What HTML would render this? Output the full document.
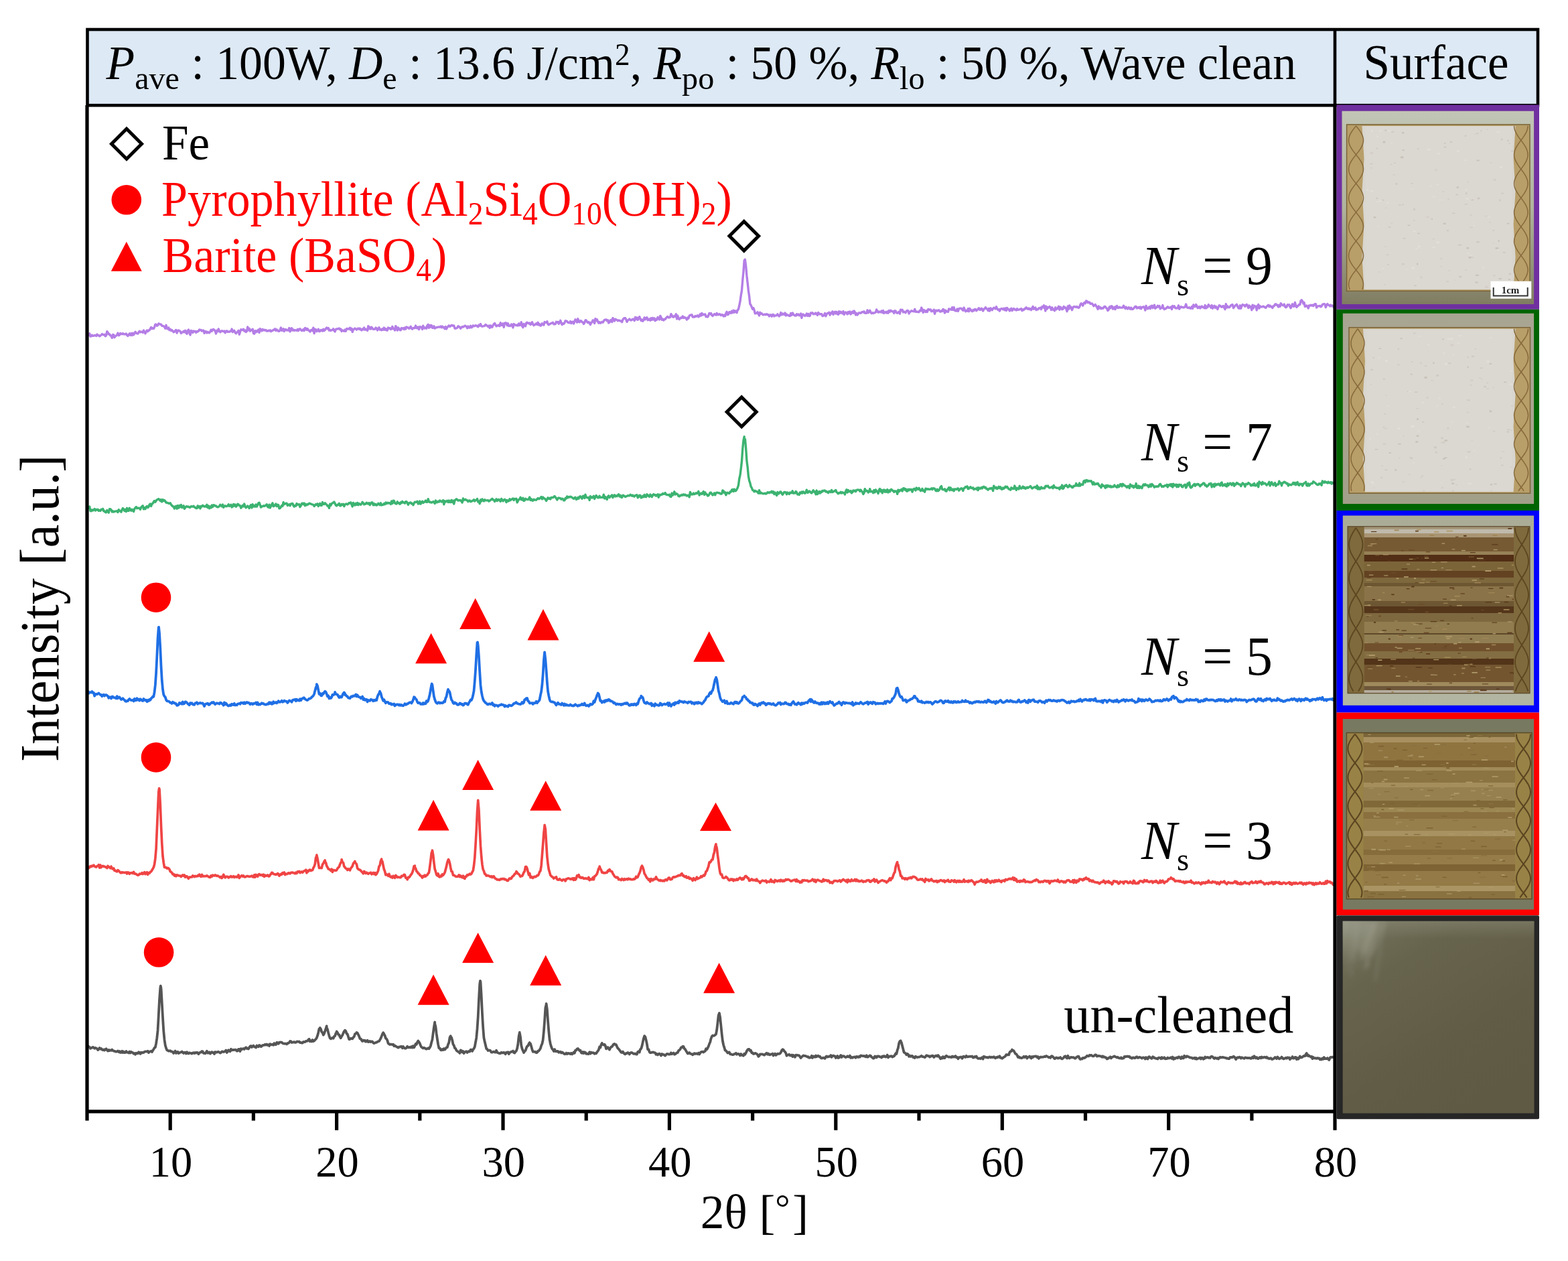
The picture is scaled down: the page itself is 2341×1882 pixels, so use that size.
<!DOCTYPE html>
<html><head><meta charset="utf-8"><title>XRD</title>
<style>html,body{margin:0;padding:0;background:#fff;}svg{display:block;}</style>
</head><body>
<svg width="2341" height="1882" viewBox="0 0 2341 1882">
<rect width="2341" height="1882" fill="#fff"/>
<rect x="130.5" y="44" width="2165.5" height="113.2" fill="#dde9f5" stroke="#000" stroke-width="4.6"/>
<line x1="1993" y1="44" x2="1993" y2="157" stroke="#000" stroke-width="4.6"/>
<clipPath id="pc"><rect x="132" y="160" width="1859" height="1497"/></clipPath>
<g clip-path="url(#pc)" fill="none" stroke-linejoin="round">
<path stroke="#b47ee6" stroke-width="3.4" d="M130.00 500.1l 1.24 .6 1.24-.6 1.25-2.4 1.24 4.3 1.24-.2 1.24-1.7 1.24 1.3 1.25-.3 1.24-.6 1.24-.1 1.24 1.0 1.24-2.3 1.25 1.5 1.24-.2 1.24 1.4 1.24-.8 1.24-1.0 1.25-1.5 1.24 .9 1.24 .3 1.24-.4 1.24 2.5 1.25-1.1 1.24-6.1 1.24 1.6 1.24 2.6 1.24 0 1.25 1.9 1.24 .4 1.24 3.2 1.24-4.8 1.24 .2 1.25 4.0 1.24-2.3 1.24-.3 1.24-1.2 1.24-2.8 1.25 3.5 1.24-.6 1.24-2.6 1.24 1.0 1.24 .3 1.25-1.1 1.24 1.1 1.24 0 1.24 .1 1.24-.8 1.25 2.2 1.24 1.2 1.24-1.8 1.24-1.7 1.24 2.3 1.25-2.7 1.24 2.9 1.24-3.2 1.24 2.5 1.24-2.0 1.25-2.5 1.24 1.8 1.24 .7 1.24 .3 1.24-2.1 1.25-1.7 1.24 1.7 1.24-.8 1.24 .1 1.24 1.2 1.25-3.4 1.24 2.7 1.24 2.0 1.24-2.5 1.24-2.2 1.25 1.7 1.24-1.8 1.24 0 1.24-2.2 1.24-2.2 1.25 2.0 1.24-1.1 1.24 1.1 1.24-2.2 1.24-4.1 1.25 0 1.24 2.0 1.24-.7 1.24-2.5 1.24 .3 1.25 .8 1.24 0 1.24 2.2 1.24 .1 1.24 .4 1.25 1.0 1.24 2.4 1.24-4.9 1.24 4.7 1.24 .9 1.25-1.9 1.24 3.6 1.24-1.4 1.24 2.3 1.24-1.0 1.25 1.7 1.24 1.5 1.24-.6 1.24-1.7 1.24-.9 1.25 4.5 1.24-3.3 1.24-.8 1.24 .9 1.24 .5 1.25 3.2 1.24-1.6 1.24 0 1.24-1.5 1.24 1.4 1.25-2.6 1.24 3.4 1.24 1.7 1.24-4.9 1.24-1.3 1.25 4.8 1.24 3.0 1.24-6.4 1.24 .5 1.24 2.5 1.25-2.4 1.24 .7 1.24-.4 1.24 1.9 1.24-1.9 1.25 .7 1.24-1.1 1.24-2.0 1.24 .9 1.24-.5 1.25 1.7 1.24-.9 1.24-.1 1.24 4.2 1.24-2.6 1.25 .1 1.24 2.1 1.24-1.5 1.24 1.0 1.24 .4 1.25-1.7 1.24-2.9 1.24 2.0 1.24-2.4 1.24-.3 1.25 1.1 1.24 1.6 1.24 3.7 1.24-4.6 1.24 1.5 1.25-3.9 1.24 3.2 1.24 1.7 1.24-1.4 1.24-.7 1.25 .6 1.24 .2 1.24-.5 1.24 2.8 1.24-2.3 1.25-.7 1.24 1.5 1.24-.4 1.24 .3 1.24-.6 1.25-.6 1.24-2.9 1.24 4.5 1.24-2.0 1.24-.3 1.25 3.0 1.24 1.4 1.24-1.8 1.24-.7 1.24-1.8 1.25 5.8 1.24-3.9 1.24-3.5 1.24 .3 1.24 .5 1.25-1.4 1.24 3.0 1.24-1.1 1.24 2.4 1.24-1.2 1.25-6.3 1.24 4.7 1.24-2.5 1.24 4.0 1.24-1.7 1.25 .3 1.24-1.6 1.24 6.2 1.24 .7 1.24-4.4 1.25 2.1 1.24-2.1 1.24 1.2 1.24-2.8 1.24 4.3 1.25-5.7 1.24 1.2 1.24 2.0 1.24-2.4 1.24 1.3 1.25-.5 1.24 .8 1.24-.5 1.24 1.5 1.24 0 1.25-.8 1.24 .5 1.24-1.1 1.24 1.9 1.24-1.0 1.25-.1 1.24-1.2 1.24 .1 1.24-1.5 1.24 2.7 1.25-1.7 1.24 1.1 1.24 1.3 1.24 0 1.24-1.8 1.25-3.5 1.24 4.3 1.24-.2 1.24-2.4 1.24 3.7 1.25-2.8 1.24 0 1.24 1.4 1.24-.5 1.24 .6 1.25-3.6 1.24 5.4 1.24-3.7 1.24-1.5 1.24 3.4 1.25-1.1 1.24 1.3 1.24-.7 1.24 .4 1.24 .4 1.25-1.9 1.24 2.1 1.24-2.2 1.24-.6 1.24 1.5 1.25 1.2 1.24-.2 1.24-1.7 1.24 1.9 1.24-4.0 1.25 .6 1.24 2.3 1.24-1.8 1.24 2.5 1.24 .2 1.25 1.8 1.24-2.3 1.24-.5 1.24 1.4 1.24-4.5 1.25 8.4 1.24-6.3 1.24 .5 1.24 2.9 1.24-1.4 1.25-2.0 1.24 3.3 1.24-.1 1.24-2.1 1.24 .2 1.25 1.4 1.24-2.7 1.24 2.3 1.24-1.1 1.24-2.0 1.25-1.5 1.24 1.8 1.24-1.3 1.24 3.6 1.24-.9 1.25 1.2 1.24-.8 1.24 0 1.24-1.9 1.24 2.7 1.25 1.6 1.24-3.5 1.24-.6 1.24 .2 1.24-.5 1.25-.5 1.24 1.8 1.24-.9 1.24 3.4 1.24-1.4 1.25 .6 1.24 .6 1.24-2.1 1.24 2.2 1.24-3.6 1.25-.2 1.24 .6 1.24-.1 1.24-1.8 1.24 3.1 1.25-2.0 1.24 5.1 1.24-3.4 1.24-.9 1.24-1.0 1.25 .8 1.24 1.2 1.24-1.4 1.24-.6 1.24 1.2 1.25-1.2 1.24 2.0 1.24 .8 1.24-1.9 1.24 .8 1.25-2.7 1.24 3.1 1.24-1.0 1.24 .8 1.24 1.5 1.25-6.9 1.24 4.2 1.24-2.4 1.24 2.7 1.24-2.9 1.25 1.6 1.24 1.5 1.24 .1 1.24-.3 1.24-2.0 1.25 .9 1.24 2.9 1.24-1.8 1.24-2.4 1.24 3.4 1.25-.5 1.24 1.1 1.24-1.9 1.24 1.5 1.24-3.2 1.25 3.2 1.24-1.7 1.24 2.2 1.24 .3 1.24-4.0 1.25 .9 1.24-.2 1.24 1.7 1.24-.6 1.24-3.5 1.25 3.3 1.24-.1 1.24 2.3 1.24-6.3 1.24 2.2 1.25 4.2 1.24-4.0 1.24 1.3 1.24 2.3 1.24 .2 1.25-3.2 1.24 .9 1.24-.8 1.24 1.8 1.24-2.5 1.25 2.1 1.24-3.1 1.24 .7 1.24 .2 1.24 1.4 1.25-1.0 1.24-2.0 1.24 2.8 1.24 1.0 1.24-1.7 1.25 .3 1.24-.1 1.24-3.5 1.24 3.4 1.24 .3 1.25-1.7 1.24 3.5 1.24-3.9 1.24 .5 1.24-.1 1.25 3.4 1.24-5.3 1.24 3.5 1.24 .3 1.24-1.2 1.25 1.4 1.24-4.4 1.24-1.4 1.24 4.9 1.24-3.9 1.25 2.6 1.24-2.5 1.24 3.8 1.24 .1 1.24-2.6 1.25 3.3 1.24-.9 1.24-.5 1.24-.1 1.24-.7 1.25 .3 1.24-.1 1.24-1.0 1.24 1.7 1.24-1.7 1.25 1.7 1.24-.4 1.24 2.4 1.24-3.2 1.24 3.3 1.25-2.4 1.24-1.3 1.24-1.3 1.24 1.5 1.24-.6 1.25-1.4 1.24 .1 1.24 .9 1.24-.3 1.24 3.9 1.25 .2 1.24-.4 1.24-.7 1.24-2.3 1.24 .5 1.25 1.2 1.24 1.8 1.24-1.8 1.24-.8 1.24 .3 1.25-.6 1.24-1.2 1.24 .3 1.24 1.0 1.24 2.3 1.25-2.7 1.24 2.0 1.24 0 1.24-2.8 1.24 2.5 1.25-.8 1.24-2.1 1.24 1.0 1.24-.5 1.24-.7 1.25 .2 1.24 1.1 1.24 .7 1.24-2.6 1.24 1.0 1.25-2.5 1.24 2.9 1.24 .7 1.24-.3 1.24-.4 1.25-.2 1.24-1.8 1.24 .7 1.24 1.2 1.24 1.0 1.25-1.3 1.24 3.3 1.24-3.6 1.24 2.2 1.24 .2 1.25-2.7 1.24-1.8 1.24-1.2 1.24 2.3 1.24 2.1 1.25-1.1 1.24 .3 1.24-1.0 1.24 1.5 1.24-4.9 1.25 3.6 1.24 0 1.24-2.4 1.24 5.5 1.24-6.1 1.25-.5 1.24 .3 1.24 3.6 1.24-2.9 1.24 3.7 1.25-.4 1.24 .5 1.24-2.7 1.24 .7 1.24 4.3 1.25-5.3 1.24 1.0 1.24 .7 1.24 .4 1.24-.8 1.25 1.1 1.24-3.1 1.24 2.6 1.24-.7 1.24-4.0 1.25 5.8 1.24 2.0 1.24-5.2 1.24 1.4 1.24 2.0 1.25-4.8 1.24-.8 1.24 1.1 1.24 .6 1.24-.9 1.25 2.5 1.24-1.3 1.24-2.5 1.24 3.4 1.24 1.5 1.25-.8 1.24-.8 1.24-1.3 1.24 1.7 1.24-3.1 1.25 3.6 1.24-1.2 1.24 2.4 1.24-.5 1.24-2.8 1.25 1.0 1.24 1.3 1.24-4.5 1.24 .8 1.24-.1 1.25-1.6 1.24 4.2 1.24 .8 1.24-1.1 1.24-.4 1.25-.9 1.24 0 1.24-1.0 1.24 2.4 1.24 0 1.25-.1 1.24-3.3 1.24 .7 1.24-.4 1.24 2.6 1.25-1.9 1.24-3.0 1.24 3.5 1.24 2.8 1.24-1.8 1.25 .5 1.24-1.4 1.24-3.1 1.24 .3 1.24 .5 1.25 1.7 1.24 .3 1.24 .1 1.24-2.1 1.24 3.0 1.25-1.9 1.24-.5 1.24 2.9 1.24-3.4 1.24-2.9 1.25 2.0 1.24 2.3 1.24-5.3 1.24 4.4 1.24 .6 1.25-2.0 1.24 .2 1.24 1.9 1.24 .1 1.24 2.4 1.25-1.6 1.24-3.9 1.24 .1 1.24 2.4 1.24 1.3 1.25-1.2 1.24 1.0 1.24 3.0 1.24-2.9 1.24-.7 1.25-3.0 1.24 .6 1.24 4.1 1.24-6.9 1.24 2.9 1.25-1.8 1.24 3.4 1.24 1.9 1.24-1.5 1.24 1.6 1.25-.8 1.24-1.1 1.24 1.0 1.24-2.0 1.24-1.9 1.25-.1 1.24-.4 1.24 1.9 1.24-1.1 1.24 4.2 1.25-.8 1.24-3.0 1.24-.6 1.24 3.1 1.24-5.9 1.25 2.1 1.24 2.3 1.24-2.8 1.24 .7 1.24 .5 1.25 1.2 1.24-.7 1.24 .4 1.24 .6 1.24-.1 1.25 1.8 1.24-3.5 1.24-1.8 1.24-.6 1.24-.1 1.25 2.4 1.24 3.2 1.24-2.1 1.24-.9 1.24-1.2 1.25 1.1 1.24 .8 1.24-.6 1.24-1.3 1.24 .5 1.25 1.9 1.24-4.9 1.24 3.0 1.24-2.6 1.24 3.3 1.25-2.2 1.24-2.4 1.24 3.0 1.24 2.8 1.24-1.4 1.25 2.2 1.24-1.8 1.24-3.6 1.24 2.9 1.24-1.7 1.25-1.3 1.24 3.9 1.24-.3 1.24-1.4 1.24 2.2 1.25-3.4 1.24 2.4 1.24-2.6 1.24 2.3 1.24-1.9 1.25 3.7 1.24-2.4 1.24 1.0 1.24-3.8 1.24 1.0 1.25 2.4 1.24-5.5 1.24 2.1 1.24 3.8 1.24-1.1 1.25 1.8 1.24-1.6 1.24 .2 1.24-1.9 1.24-1.3 1.25-.9 1.24 1.5 1.24-.1 1.24-.7 1.24-4.5 1.25 2.1 1.24 2.2 1.24 .2 1.24-1.8 1.24 .7 1.25-3.3 1.24 7.2 1.24-4.9 1.24 4.6 1.24 .9 1.25-1.7 1.24-.9 1.24 .6 1.24-2.6 1.24 2.5 1.25-1.1 1.24 .8 1.24 .8 1.24 2.0 1.24-2.9 1.25 1.1 1.24-3.9 1.24-1.1 1.24 0 1.24-.4 1.25 3.4 1.24-.4 1.24 .4 1.24-1.6 1.24 .8 1.25-.9 1.24-.7 1.24 2.1 1.24-1.0 1.24-3.1 1.25 2.3 1.24-3.5 1.24 2.5 1.24-.9 1.24 .4 1.25-.5 1.24 3.6 1.24-.4 1.24 .7 1.24-2.4 1.25-3.1 1.24 1.2 1.24-1.2 1.24 2.8 1.24 1.2 1.25-1.2 1.24-1.6 1.24 .5 1.24 1.0 1.24-2.6 1.25 2.2 1.24-.2 1.24-1.0 1.24 .4 1.24 1.7 1.25-1.0 1.24 .2 1.24 2.1 1.24-1.7 1.24 1.5 1.25-4.2 1.24-2.2 1.24 4.4 1.24-.7 1.24-3.3 1.25 0 1.24 1.6 1.24-3.1 1.24 2.3 1.24-3.3 1.25 3.0 1.24-2.4 1.24 1.3 1.24 1.5 1.24-4.1 1.25-1.0 1.24-5.5 1.24-5.9 1.24-9.1 1.24-7.3 1.25-15.1 1.24-12.6 1.24-17.2 1.03-1.7 .21 .5 1.24 9.4 1.25 14.4 1.24 10.8 1.24 11.4 1.24 8.6 1.24 11.5 1.25 1.6 1.24 2.9 1.24 3.1 1.24-1.8 1.24 3.2 1.25 5.1 1.24-.5 1.24 .1 1.24-1.6 1.24 2.6 1.25 2.4 1.24-4.6 1.24 2.0 1.24-.5 1.24 1.6 1.25 .4 1.24-.2 1.24-.7 1.24 .9 1.24-1.1 1.25 1.0 1.24 .1 1.24 2.2 1.24-2.1 1.24 0 1.25 2.4 1.24-2.6 1.24-.2 1.24 2.4 1.24-.9 1.25-.1 1.24-.1 1.24-1.9 1.24 1.9 1.24 1.1 1.25-1.5 1.24-3.9 1.24 3.3 1.24-1.8 1.24 1.2 1.25 .4 1.24-2.5 1.24 4.0 1.24-2.0 1.24 1.3 1.25 .1 1.24 .9 1.24 .2 1.24-4.0 1.24 2.8 1.25-3.4 1.24 1.9 1.24 1.4 1.24 .7 1.24 .1 1.25-2.4 1.24 1.4 1.24-1.1 1.24 1.9 1.24 0 1.25-2.8 1.24 6.4 1.24-5.2 1.24 0 1.24 1.4 1.25 .8 1.24-1.2 1.24-2.3 1.24 3.4 1.24-3.0 1.25 3.3 1.24-.3 1.24-4.5 1.24 .5 1.24-.6 1.25 2.0 1.24-.5 1.24 .3 1.24-1.5 1.24 1.7 1.25 1.7 1.24-3.9 1.24 1.5 1.24 .9 1.24-.4 1.25 .1 1.24 3.0 1.24-.3 1.24-1.2 1.24-2.7 1.25 4.4 1.24-2.9 1.24-1.4 1.24-.4 1.24-.9 1.25 3.9 1.24-3.3 1.24 .7 1.24-2.7 1.24 4.5 1.25-3.3 1.24-.7 1.24 2.6 1.24-2.6 1.24 3.1 1.25 .8 1.24-4.5 1.24 2.7 1.24-2.2 1.24 1.6 1.25 .9 1.24-3.1 1.24 4.7 1.24-2.6 1.24-.8 1.25 1.2 1.24 1.7 1.24-3.4 1.24 2.0 1.24-2.4 1.25 3.8 1.24-2.5 1.24-1.3 1.24 2.2 1.24-3.3 1.25 2.0 1.24 3.9 1.24-2.5 1.24 2.5 1.24-1.7 1.25-1.4 1.24 .3 1.24 .3 1.24-1.4 1.24-.5 1.25 .6 1.24-1.4 1.24 2.5 1.24 0 1.24 0 1.25-4.2 1.24 3.8 1.24-1.1 1.24-2.4 1.24 2.8 1.25 1.6 1.24-.9 1.24 .8 1.24-.6 1.24-.4 1.25-.7 1.24-3.9 1.24 2.8 1.24 1.4 1.24-1.3 1.25 .9 1.24-.1 1.24-1.7 1.24 2.6 1.24-3.0 1.25 3.8 1.24-1.3 1.24-.5 1.24 1.4 1.24-2.0 1.25 2.3 1.24-3.7 1.24 1.7 1.24-2.1 1.24 1.1 1.25 .5 1.24-.2 1.24 2.8 1.24-3.6 1.24 .4 1.25 2.5 1.24 .6 1.24-.8 1.24-1.2 1.24 2.9 1.25-6.0 1.24 1.1 1.24-.9 1.24 3.5 1.24-.8 1.25 .9 1.24 .7 1.24-2.5 1.24-.8 1.24 .2 1.25 4.4 1.24-2.3 1.24-.8 1.24-1.2 1.24 .7 1.25 .2 1.24 .3 1.24-3.5 1.24 3.9 1.24-.4 1.25 .7 1.24-.3 1.24 .5 1.24-2.3 1.24 .6 1.25-4.9 1.24 2.5 1.24 4.7 1.24-3.7 1.24 1.4 1.25 1.6 1.24-2.1 1.24 1.9 1.24-3.7 1.24-.1 1.25 .9 1.24-.6 1.24 2.7 1.24-.8 1.24 .6 1.25-2.2 1.24 6.1 1.24-4.8 1.24-.4 1.24 1.0 1.25-1.0 1.24-.4 1.24 2.0 1.24 .4 1.24-1.4 1.25 .6 1.24-2.9 1.24 .9 1.24 4.7 1.24-3.9 1.25 1.9 1.24-.3 1.24 .7 1.24-4.5 1.24 .8 1.25-.4 1.24 .8 1.24-3.4 1.24 3.6 1.24-3.7 1.25 4.5 1.24 .7 1.24 .1 1.24-2.9 1.24 3.3 1.25-3.5 1.24-.5 1.24-.3 1.24 .3 1.24 1.7 1.25 1.2 1.24-4.1 1.24 3.0 1.24 2.5 1.24-1.2 1.25 .7 1.24-3.5 1.24 4.0 1.24-4.2 1.24 1.6 1.25 1.7 1.24 .8 1.24-2.1 1.24 1.2 1.24-2.0 1.25-.2 1.24 2.3 1.24-1.2 1.24-1.1 1.24-1.8 1.25 2.5 1.24 .1 1.24-2.0 1.24 .7 1.24 3.0 1.25-2.7 1.24-.4 1.24-2.1 1.24 1.4 1.24 1.0 1.25 2.2 1.24-2.9 1.24 3.6 1.24-4.2 1.24 .9 1.25 2.0 1.24-2.2 1.24-1.3 1.24 .7 1.24 1.0 1.25-3.2 1.24 3.2 1.24 1.3 1.24-.5 1.24 2.3 1.25-2.7 1.24-.6 1.24-.2 1.24 1.2 1.24-1.5 1.25 2.5 1.24-2.9 1.24 3.5 1.24-3.9 1.24 2.1 1.25 0 1.24 2.3 1.24-1.6 1.24-2.1 1.24 3.4 1.25-2.2 1.24-.8 1.24 1.5 1.24-.2 1.24 1.1 1.25-2.3 1.24 1.7 1.24-.2 1.24-.3 1.24-.6 1.25-.6 1.24 3.0 1.24-1.7 1.24 .6 1.24-1.8 1.25-.1 1.24-1.9 1.24 1.7 1.24 .8 1.24-1.3 1.25 1.6 1.24-.9 1.24 1.9 1.24-2.5 1.24-2.5 1.25 3.7 1.24-1.3 1.24-1.0 1.24 3.6 1.24-1.0 1.25 .3 1.24-1.9 1.24 0 1.24-.7 1.24 2.3 1.25-3.9 1.24 0 1.24 1.5 .06-3.4 1.18 1.0 1.24 7.2 1.25-6.8 1.24 4.0 1.24-2.5 1.24 .3 1.24-1.5 1.25 1.6 1.24 3.4 1.24-3.6 1.24 3.2 1.24-.6 1.25 2.2 1.24-4.7 1.24 2.8 1.24-.7 1.24-2.0 1.25-1.8 1.24 5.0 1.24-4.1 1.24 1.3 1.24 2.2 1.25-.3 1.24-4.0 1.24 1.8 1.24-.2 1.24 2.3 1.25 3.4 1.24-7.7 1.24 4.4 1.24-5.4 1.24 3.8 1.25-1.4 1.24 4.3 1.24-3.2 1.24-1.7 1.24 0 1.25 .1 1.24 .7 1.24-1.0 1.24 1.2 1.24 .7 1.25-1.5 1.24-3.4 1.24-1.7 1.24 1.1 1.24 2.1 1.25-3.4 1.24-1.2 1.24 1.2 1.24-3.6 1.24 .4 1.25 2.3 1.24-.8 1.24 .2 1.24 2.1 1.24 0 1.25-.3 1.24 1.6 1.24 2.1 1.24-1.0 1.24-1.2 1.25 2.1 1.24 2.0 1.24 2.8 1.24-4.3 1.24 2.8 1.25-1.2 1.24 2.0 1.24-1.0 1.24 .6 1.24-1.3 1.25-1.6 1.24 .3 1.24 1.9 1.24 .8 1.24 3.1 1.25-1.2 1.24-4.4 1.24 2.0 1.24-3.0 1.24 0 1.25 4.1 1.24-.2 1.24-2.6 1.24 3.4 1.24-4.1 1.25-.9 1.24 3.0 1.24-.2 1.24-1.1 1.24 .8 1.25 0 1.24 0 1.24 0 1.24-2.8 1.24 1.9 1.25 2.3 1.24-2.2 1.24 2.0 1.24 .7 1.24-2.2 1.25 .6 1.24 1.9 1.24-2.1 1.24 2.3 1.24-.1 1.25-1.0 1.24-1.5 1.24-1.5 1.24 0 1.24 2.7 1.25-.8 1.24-.7 1.24 1.3 1.24-1.8 1.24 2.7 1.25-2.1 1.24-.1 1.24-.8 1.24 .9 1.24 4.4 1.25-6.6 1.24 3.5 1.24 1.0 1.24-1.6 1.24-1.5 1.25 2.9 1.24-3.9 1.24-.6 1.24 3.4 1.24-2.8 1.25-1.7 1.24 5.2 1.24-1.4 1.24-.4 1.24-2.2 1.25 1.5 1.24-1.4 1.24 4.4 1.24-1.3 1.24-.1 1.25-3.9 1.24 4.5 1.24 1.5 1.24-.8 1.24-.5 1.25-1.3 1.24-1.1 1.24 1.4 1.24-.1 1.24-.2 1.25-.9 1.24 3.5 1.24-5.0 1.24 1.5 1.24-1.2 1.25 2.6 1.24 .6 1.24-.3 1.24 .1 1.24-4.0 1.25 5.3 1.24-2.4 1.24-1.1 1.24 .9 1.24 0 1.25 .4 1.24-.3 1.24-1.2 1.24-3.5 1.24 4.5 1.25 .8 1.24 .3 1.24-.8 1.24 1.3 1.24 .3 1.25-2.8 1.24 2.8 1.24-5.4 1.24 2.2 1.24 .5 1.25-3.1 1.24 1.9 1.24 3.2 1.24-.3 1.24-1.8 1.25 2.5 1.24-2.2 1.24-.8 1.24 1.4 1.24 0 1.25 1.2 1.24-4.1 1.24 4.4 1.24-2.5 1.24 1.1 1.25-3.9 1.24 1.6 1.24 .8 1.24 2.0 1.24-3.4 1.25 4.6 1.24-2.7 1.24-1.3 1.24 3.0 1.24-1.9 1.25 2.1 1.24 2.0 1.24-3.3 1.24-2.4 1.24 .6 1.25 1.1 1.24 .8 1.24-1.3 1.24-.2 1.24 2.7 1.25 2.1 1.24-7.9 1.24 5.4 1.24-2.1 1.24 1.9 1.25-.1 1.24-1.3 1.24-1.8 1.24-.7 1.24-.2 1.25 4.9 1.24-1.7 1.24-1.8 1.24-.7 1.24-1.2 1.25 2.9 1.24 2.7 1.24 .4 1.24-4.5 1.24 4.5 1.25-3.9 1.24-1.8 1.24 .9 1.24-.1 1.24 1.9 1.25-2.0 1.24-.8 1.24 2.0 1.24 3.1 1.24-3.6 1.25 2.4 1.24-.7 1.24 5.0 1.24-7.4 1.24 4.7 1.25-3.8 1.24 .6 1.24 .5 1.24 5.6 1.24-6.2 1.25-2.2 1.24 5.7 1.24-3.4 1.24 1.1 1.24 .2 1.25-.4 1.24-.6 1.24 .9 1.24 .8 1.24 .5 1.25-2.0 1.24-1.0 1.24-1.0 1.24 2.5 1.24-1.7 1.25 1.8 1.24-.4 1.24 2.0 1.24-2.5 1.24-.2 1.25-2.5 1.24-.5 1.24 1.5 1.24-.2 1.24 3.0 1.25-2.6 1.24 2.0 1.24-4.7 1.24 1.7 1.24 1.1 1.25 .3 1.24-1.8 1.24 3.5 1.24 1.2 1.24-.7 1.25-3.3 1.24 .3 1.24-.3 1.24 3.0 1.24 1.9 1.25-3.6 1.24-2.2 1.24 3.3 1.24 0 1.24-5.7 1.25 4.7 1.24 2.3 1.24-1.8 1.24-.6 1.24-1.6 1.25 .1 1.24-5.7 1.24-1.2 .07 1.3 1.17 .3 1.24 3.8 1.25-1.6 1.24 6.0 1.24-.3 1.24-1.1 1.24 1.1 1.25 2.9 1.24-4.2 1.24 .4 1.24-1.0 1.24 .7 1.25-.8 1.24 1.5 1.24-1.9 1.24-1.2 1.24 .2 1.25 5.3 1.24-1.9 1.24-.3 1.24 0 1.24-.5 1.25 1.5 1.24-.8 1.24-2.5 1.24-.6 1.24-.3 1.25 .4 1.24 4.6 1.24-3.1 1.24-2.0 1.24 1.6 1.25 .4 1.24 1.3 1.24-1.8 1.24 1.8 1.24-.8 1.25 1.3 1.24 1.5 1.24 1.4"/>
<path stroke="#3cb371" stroke-width="3.4" d="M130.00 759.7l 1.24-1.6 1.24-.1 1.25-1.9 1.24 6.4 1.24 .2 1.24-1.8 1.24 1.1 1.25-1.0 1.24-1.4 1.24 2.4 1.24-1.6 1.24 .6 1.25-.7 1.24 2.1 1.24-.9 1.24 .9 1.24-2.1 1.25 .3 1.24-1.2 1.24 3.4 1.24-.2 1.24 1.9 1.25 .2 1.24-3.1 1.24 2.1 1.24 1.4 1.24-5.5 1.25 .2 1.24 1.1 1.24 3.0 1.24-1.1 1.24 1.3 1.25-.9 1.24-.1 1.24-.2 1.24-.2 1.24 1.8 1.25-3.8 1.24 1.8 1.24 0 1.24 1.7 1.24-3.4 1.25-2.3 1.24 1.5 1.24 2.6 1.24-2.2 1.24 3.1 1.25-5.2 1.24 3.9 1.24 .2 1.24-4.1 1.24 2.2 1.25 1.6 1.24-1.9 1.24 1.8 1.24 1.4 1.24-4.1 1.25-1.4 1.24-1.3 1.24 2.1 1.24-.5 1.24 .1 1.25 .1 1.24 1.9 1.24-3.3 1.24-1.1 1.24-1.0 1.25 4.9 1.24-2.1 1.24 1.9 1.24-3.0 1.24-1.1 1.25 2.0 1.24-1.1 1.24-3.3 1.24-1.0 1.24 3.4 1.25-3.7 1.24-.4 1.24-2.5 1.24-1.4 1.24 1.9 1.25-2.0 1.24-1.5 1.24-.5 1.24-.8 1.24 1.2 1.25 1.8 1.24-2.0 1.24 3.3 1.24-3.2 1.24 1.7 1.25-.9 1.24 1.5 1.24 2.0 1.24 .3 1.24 .2 1.25 .8 1.24 .1 1.24-.7 1.24 2.4 1.24 1.4 1.25 1.4 1.24 .1 1.24 3.1 1.24-3.0 1.24-.8 1.25 3.9 1.24-4.6 1.24 3.5 1.24-3.6 1.24 2.1 1.25-3.2 1.24 4.1 1.24-.6 1.24-2.1 1.24 4.5 1.25-1.5 1.24-1.7 1.24-.4 1.24 .7 1.24-.3 1.25 1.1 1.24 .2 1.24-1.8 1.24 .4 1.24 .1 1.25-.8 1.24 1.6 1.24 .4 1.24 1.2 1.24 .1 1.25-3.7 1.24 2.4 1.24-1.6 1.24 3.2 1.24-3.3 1.25 .4 1.24-1.8 1.24 1.0 1.24 1.0 1.24-.9 1.25 .9 1.24-2.9 1.24 4.2 1.24-2.4 1.24 3.7 1.25-2.7 1.24 1.8 1.24-3.8 1.24 2.4 1.24-2.8 1.25 .4 1.24 1.0 1.24-.1 1.24 1.4 1.24 .4 1.25-.5 1.24-.8 1.24-2.2 1.24 1.1 1.24 1.4 1.25-2.7 1.24 4.2 1.24-1.7 1.24-.8 1.24 .9 1.25-.1 1.24-.8 1.24-2.0 1.24 2.6 1.24-.4 1.25-1.8 1.24 3.7 1.24-.9 1.24-3.4 1.24 2.5 1.25-2.1 1.24 3.2 1.24-1.0 1.24-2.9 1.24 .6 1.25 1.7 1.24 0 1.24 3.6 1.24-1.7 1.24-2.1 1.25 1.5 1.24-3.8 1.24 3.7 1.24 1.9 1.24-1.2 1.25-1.4 1.24 1.5 1.24 1.9 1.24-3.3 1.24-1.6 1.25 4.3 1.24-5.1 1.24 3.3 1.24-1.6 1.24 1.6 1.25-3.0 1.24 3.0 1.24-2.3 1.24-3.0 1.24-.5 1.25 3.2 1.24 3.6 1.24-1.5 1.24 .2 1.24-1.0 1.25 .6 1.24-.7 1.24-.5 1.24-1.5 1.24 3.6 1.25 .9 1.24-4.0 1.24 4.7 1.24-2.4 1.24-2.6 1.25-2.0 1.24 4.8 1.24-.5 1.24-1.5 1.24-1.7 1.25 3.6 1.24-2.3 1.24 .4 1.24 5.1 1.24-.4 1.25-1.7 1.24-2.1 1.24 .8 1.24-5.8 1.24 3.1 1.25-1.0 1.24-.3 1.24-.3 1.24 3.4 1.24-1.1 1.25-.6 1.24 2.0 1.24-2.8 1.24-.4 1.24-.1 1.25 3.0 1.24 1.6 1.24-1.7 1.24 .7 1.24-3.5 1.25 1.6 1.24-.3 1.24-.1 1.24 3.8 1.24-1.8 1.25-3.2 1.24-.5 1.24 1.5 1.24-1.5 1.24 3.6 1.25-2.1 1.24 1.1 1.24-1.2 1.24 .2 1.24-1.4 1.25 .1 1.24 .7 1.24 .5 1.24 .4 1.24 .4 1.25 2.1 1.24-1.4 1.24-1.6 1.24 .8 1.24-1.5 1.25 3.7 1.24-1.7 1.24-2.4 1.24 2.8 1.24 .2 1.25-4.8 1.24 2.8 1.24 .2 1.24-1.9 1.24 1.5 1.25 .9 1.24 2.0 1.24-.1 1.24 3.3 1.24-6.0 1.25 2.0 1.24-2.8 1.24-.4 1.24-1.1 1.24-1.0 1.25 2.6 1.24 2.5 1.24 .8 1.24-1.6 1.24-.1 1.25-1.8 1.24 3.4 1.24 0 1.24-2.4 1.24 1.0 1.25-1.0 1.24 3.3 1.24-2.6 1.24-.8 1.24-.3 1.25 1.0 1.24-1.0 1.24-1.4 1.24 .5 1.24-1.2 1.25 3.0 1.24 3.1 1.24-5.6 1.24 3.3 1.24 .4 1.25-2.9 1.24 2.0 1.24-2.8 1.24 3.3 1.24-2.2 1.25 1.0 1.24 .8 1.24-1.6 1.24-2.3 1.24 1.4 1.25 2.1 1.24-.9 1.24 .2 1.24-2.0 1.24 1.3 1.25 .6 1.24-1.6 1.24 3.2 1.24-2.3 1.24-1.4 1.25-.1 1.24 3.9 1.24-2.1 1.24 1.9 1.24-1.0 1.25 1.5 1.24-.8 1.24-2.0 1.24 1.0 1.24 1.4 1.25-3.0 1.24 3.3 1.24-.6 1.24-.2 1.24-1.7 1.25 1.1 1.24-2.5 1.24 1.5 1.24-1.4 1.24 .9 1.25-.7 1.24 .7 1.24 1.3 1.24-4.3 1.24 3.3 1.25-4.1 1.24 .1 1.24 3.4 1.24 .9 1.24 .3 1.25-3.2 1.24 2.2 1.24-.4 1.24 1.8 1.24-2.6 1.25 .8 1.24-2.2 1.24 1.7 1.24-.2 1.24 1.2 1.25-2.3 1.24-.2 1.24 2.1 1.24 2.6 1.24-2.4 1.25-.6 1.24-.3 1.24 1.8 1.24-.3 1.24 2.2 1.25-2.5 1.24-2.0 1.24 .3 1.24-.4 1.24-.9 1.25 3.8 1.24-.4 1.24-3.6 1.24 4.1 1.24-2.2 1.25-1.7 1.24 2.2 1.24-.8 1.24-1.0 1.24-1.5 1.25 2.3 1.24 0 1.24-4.7 1.24 4.0 1.24 .9 1.25-.4 1.24 .9 1.24-.4 1.24-1.1 1.24 .5 1.25 2.4 1.24-4.4 1.24 2.6 1.24 0 1.24-1.5 1.25 .8 1.24-2.0 1.24 .5 1.24 1.5 1.24-.6 1.25-1.8 1.24 6.3 1.24-5.2 1.24 1.2 1.24-.7 1.25-1.0 1.24 2.2 1.24-2.3 1.24 2.4 1.24 .1 1.25-3.2 1.24 3.1 1.24-2.2 1.24 4.8 1.24-5.3 1.25-.8 1.24-1.2 1.24 .9 1.24 1.3 1.24-.3 1.25-.1 1.24 .1 1.24 1.3 1.24 2.0 1.24-6.0 1.25 2.5 1.24-.5 1.24-.7 1.24 1.3 1.24 .1 1.25 1.9 1.24-1.4 1.24-.2 1.24 1.7 1.24-.4 1.25-.8 1.24-.3 1.24-1.5 1.24 2.2 1.24-1.3 1.25-.3 1.24-1.8 1.24 4.5 1.24-1.0 1.24 3.7 1.25-5.7 1.24 2.0 1.24-3.1 1.24 1.7 1.24 1.3 1.25-2.1 1.24 1.0 1.24 .1 1.24 0 1.24-.3 1.25 1.6 1.24-.9 1.24-1.0 1.24-.8 1.24-1.2 1.25 1.6 1.24 .2 1.24 2.3 1.24-1.4 1.24-2.1 1.25 2.7 1.24-1.9 1.24-.3 1.24 1.5 1.24 1.4 1.25-3.9 1.24 1.7 1.24 1.8 1.24-1.6 1.24-1.1 1.25 1.1 1.24 3.3 1.24-3.0 1.24 1.4 1.24-.3 1.25-3.0 1.24 1.9 1.24-1.1 1.24-.7 1.24-.7 1.25 2.4 1.24-2.0 1.24 .3 1.24-.6 1.24 5.7 1.25-2.3 1.24-2.0 1.24-.7 1.24-2.7 1.24 3.4 1.25 .4 1.24-2.7 1.24 4.1 1.24-.4 1.24-2.8 1.25 .8 1.24 .4 1.24 .3 1.24-1.1 1.24-2.6 1.25 4.5 1.24-1.6 1.24 2.1 1.24 .2 1.24-2.0 1.25 .9 1.24 0 1.24 .2 1.24-1.6 1.24-1.1 1.25 1.1 1.24-.6 1.24-1.1 1.24-1.5 1.24 3.3 1.25-2.7 1.24 1.7 1.24 .1 1.24 1.4 1.24 2.2 1.25-2.6 1.24-2.0 1.24 1.6 1.24-1.1 1.24 1.5 1.25-2.4 1.24 .1 1.24 0 1.24-1.0 1.24-1.0 1.25 1.6 1.24 1.4 1.24 2.5 1.24-2.2 1.24-.9 1.25 .5 1.24 .2 1.24 1.4 1.24-1.0 1.24 .6 1.25 2.2 1.24-.1 1.24-3.3 1.24 .5 1.24-3.1 1.25 1.9 1.24-1.3 1.24 .5 1.24-.9 1.24 .6 1.25 .7 1.24 1.2 1.24 .7 1.24-1.4 1.24-.6 1.25 3.1 1.24-.4 1.24-2.4 1.24 1.6 1.24-3.1 1.25-.3 1.24 1.7 1.24 1.8 1.24-3.8 1.24-.2 1.25 3.2 1.24-5.3 1.24 3.6 1.24 1.0 1.24-.2 1.25-.1 1.24 3.9 1.24-5.8 1.24 1.2 1.24 1.2 1.25-1.1 1.24-1.6 1.24 4.3 1.24-2.5 1.24-2.6 1.25 1.8 1.24 1.6 1.24-.1 1.24-2.5 1.24 2.2 1.25-.1 1.24-.2 1.24 .2 1.24-4.2 1.24 5.8 1.25-2.4 1.24 2.4 1.24 1.5 1.24-4.3 1.24-1.3 1.25 2.7 1.24-1.5 1.24-.9 1.24-1.3 1.24 3.7 1.25-2.6 1.24-1.2 1.24 2.2 1.24-1.2 1.24 .9 1.25-1.7 1.24-1.2 1.24 3.2 1.24-1.8 1.24 2.9 1.25 .4 1.24-3.2 1.24 .2 1.24 1.0 1.24 1.1 1.25-1.0 1.24-.1 1.24-1.0 1.24 .4 1.24-.1 1.25-1.5 1.24 .5 1.24 1.4 1.24-1.1 1.24 1.4 1.25 .6 1.24-1.7 1.24-.2 1.24-.5 1.24 4.1 1.25-1.2 1.24-2.4 1.24 .2 1.24 3.6 1.24-.5 1.25-2.2 1.24 1.4 1.24-3.3 1.24 3.0 1.24 .3 1.25-3.9 1.24 1.0 1.24 1.6 1.24 .9 1.24-3.3 1.25 1.6 1.24 2.0 1.24-2.8 1.24-1.2 1.24 1.3 1.25-.4 1.24 1.7 1.24-1.5 1.24-.8 1.24 4.3 1.25-4.0 1.24 1.0 1.24-1.0 1.24-.1 1.24-1.6 1.25 .9 1.24-.3 1.24-1.6 1.24 2.5 1.24 .3 1.25 .3 1.24 .4 1.24-1.0 1.24 3.1 1.24 .4 1.25-5.4 1.24 3.0 1.24-1.9 1.24-3.4 1.24 4.3 1.25-1.6 1.24 .5 1.24 .9 1.24 2.5 1.24 .4 1.25-1.5 1.24 .3 1.24-1.3 1.24 .9 1.24-1.3 1.25 1.0 1.24-.7 1.24 .9 1.24 1.0 1.24-1.0 1.25 .6 1.24 2.1 1.24-7.4 1.24 3.7 1.24-.8 1.25 .6 1.24-1.8 1.24 1.5 1.24-.7 1.24-1.1 1.25 .8 1.24-.9 1.24-2.3 1.24 5.7 1.24-2.1 1.25-1.0 1.24 1.5 1.24-2.0 1.24-1.9 1.24 4.8 1.25-3.5 1.24 2.6 1.24 .4 1.24 2.1 1.24-.3 1.25-2.2 1.24-2.3 1.24-.1 1.24 2.2 1.24 1.6 1.25-1.2 1.24-1.8 1.24 2.9 1.24-2.9 1.24-.6 1.25-.1 1.24 .6 1.24-.2 1.24 1.1 1.24 .5 1.25-.4 1.24-4.8 1.24 .8 1.24 2.8 1.24-.7 1.25 3.9 1.24-3.2 1.24-.4 1.24 1.2 1.24 0 1.25-2.5 1.24 .1 1.24-2.7 1.24-.8 1.24 3.0 1.25-3.3 1.24 2.6 1.24-.4 1.24-2.0 1.24-2.5 1.25-3.7 1.24-9.5 1.24-5.3 1.24-9.6 1.24-11.0 1.25-18.2 1.24-12.9 1.24-6.0 .04 2.7 1.2 1.1 1.24 13.6 1.25 18.7 1.24 9.3 1.24 13.5 1.24 6.6 1.24 3.7 1.25 5.2 1.24 2.0 1.24 3.3 1.24 .4 1.24 2.0 1.25-1.5 1.24 1.0 1.24 .1 1.24 1.2 1.24 1.5 1.25-4.4 1.24 4.6 1.24-1.2 1.24 1.0 1.24 .4 1.25 .3 1.24-.2 1.24-.5 1.24 .9 1.24-.6 1.25-1.6 1.24 .1 1.24 .8 1.24-1.3 1.24 .6 1.25-1.8 1.24 2.3 1.24-1.8 1.24 3.9 1.24-2.6 1.25 2.3 1.24 2.2 1.24-4.9 1.24 2.4 1.24-.9 1.25-1.9 1.24-.3 1.24 2.6 1.24 1.8 1.24-1.7 1.25-2.2 1.24 .1 1.24 .4 1.24 2.9 1.24-2.8 1.25 1.0 1.24 1.5 1.24-2.4 1.24 .7 1.24-.4 1.25-2.6 1.24 3.4 1.24-.5 1.24 .3 1.24-2.4 1.25 1.2 1.24 3.1 1.24-.4 1.24 .9 1.24-3.5 1.25 1.2 1.24-2.1 1.24 2.0 1.24-2.1 1.24 1.5 1.25 .9 1.24-1.9 1.24-3.2 1.24 4.1 1.24-.4 1.25-2.0 1.24 .7 1.24 1.4 1.24 .9 1.24-2.0 1.25-2.2 1.24 2.5 1.24-.2 1.24 3.8 1.24-5.7 1.25 5.5 1.24-1.8 1.24-2.3 1.24 2.6 1.24-2.4 1.25 .9 1.24-2.2 1.24 .7 1.24-1.1 1.24 .2 1.25 1.7 1.24-.6 1.24 1.4 1.24 .9 1.24-2.4 1.25 .5 1.24 .9 1.24-3.1 1.24 3.0 1.24-.7 1.25-.4 1.24-1.2 1.24-.6 1.24 3.1 1.24 .6 1.25 1.5 1.24-1.3 1.24 .4 1.24-1.7 1.24 1.8 1.25-1.2 1.24 .8 1.24 .1 1.24 2.2 1.24-4.9 1.25-2.3 1.24 4.2 1.24-3.3 1.24 1.9 1.24 .3 1.25-1.2 1.24 3.2 1.24-1.3 1.24-2.6 1.24 1.1 1.25-1.0 1.24 1.6 1.24-2.1 1.24-.5 1.24 .1 1.25 .1 1.24 2.0 1.24-2.1 1.24 1.8 1.24 1.4 1.25 3.1 1.24-1.7 1.24-6.0 1.24 3.2 1.24-.6 1.25 .6 1.24 2.1 1.24-1.0 1.24-4.3 1.24 4.1 1.25-.4 1.24 .1 1.24 2.1 1.24-4.0 1.24 3.2 1.25-3.9 1.24 2.0 1.24 .9 1.24 2.7 1.24-5.5 1.25-1.5 1.24 3.9 1.24-2.1 1.24 4.5 1.24-4.0 1.25-.7 1.24 3.1 1.24-2.3 1.24 2.2 1.24-3.4 1.25 4.2 1.24-3.0 1.24 2.0 1.24-3.1 1.24-.4 1.25 1.7 1.24 .5 1.24 1.8 1.24-1.7 1.24 .6 1.25-.2 1.24 4.2 1.24-6.2 1.24 2.7 1.24-2.3 1.25 .5 1.24-1.6 1.24 2.5 1.24-3.9 1.24-.3 1.25 2.2 1.24-1.2 1.24 3.2 1.24 .3 1.24-3.0 1.25 1.6 1.24-1.6 1.24 .8 1.24-.4 1.24 3.5 1.25-3.4 1.24-1.3 1.24 0 1.24 2.5 1.24-3.9 1.25 2.0 1.24 .4 1.24-2.0 1.24 2.2 1.24 1.9 1.25-.8 1.24-2.3 1.24 3.2 1.24-.6 1.24 2.2 1.25-4.9 1.24 .1 1.24 .9 1.24-.6 1.24 .7 1.25-.2 1.24-.1 1.24-1.2 1.24 1.7 1.24-1.8 1.25 .1 1.24 .4 1.24 2.9 1.24 .6 1.24-2.5 1.25 2.4 1.24-1.0 1.24-1.8 1.24-3.2 1.24-1.1 1.25 4.8 1.24 .3 1.24 0 1.24-1.0 1.24 3.2 1.25 .2 1.24-2.4 1.24-1.1 1.24-2.1 1.24 4.2 1.25-3.8 1.24 3.1 1.24 .6 1.24-1.6 1.24 2.7 1.25-2.8 1.24 .1 1.24 .5 1.24-1.1 1.24-.5 1.25 3.3 1.24-1.6 1.24-1.0 1.24-.9 1.24 .7 1.25 3.1 1.24-3.9 1.24-.3 1.24-1.9 1.24 .7 1.25-1.2 1.24 3.7 1.24-.3 1.24-1.8 1.24-.8 1.25 1.7 1.24 .3 1.24-.8 1.24 2.5 1.24-.6 1.25-.6 1.24 .9 1.24-2.1 1.24 3.6 1.24-3.8 1.25 1.4 1.24-.1 1.24-1.6 1.24 1.5 1.24-2.1 1.25-.6 1.24 1.7 1.24-.8 1.24 2.3 1.24 0 1.25 1.6 1.24-1.3 1.24-.9 1.24 .5 1.24-1.0 1.25 .2 1.24 4.0 1.24-7.5 1.24 2.4 1.24 1.1 1.25-1.4 1.24 2.4 1.24-1.1 1.24-2.1 1.24 2.2 1.25-1.8 1.24 3.2 1.24 .2 1.24-2.2 1.24 1.2 1.25-1.4 1.24-1.7 1.24 1.4 1.24-1.2 1.24 2.0 1.25 1.7 1.24 .4 1.24 .7 1.24-3.3 1.24 1.6 1.25-.5 1.24 .6 1.24-4.4 1.24 3.2 1.24 3.1 1.25-3.1 1.24 1.0 1.24 .7 1.24-4.7 1.24 2.9 1.25 .8 1.24-.9 1.24-2.0 1.24 2.5 1.24-1.4 1.25 2.1 1.24-.8 1.24-1.5 1.24 1.3 1.24-1.2 1.25-.2 1.24-1.4 1.24 1.9 1.24 1.6 1.24-.7 1.25-.7 1.24-.7 1.24-.3 1.24 1.9 1.24-3.7 1.25 5.2 1.24-2.7 1.24 2.8 1.24-.5 1.24-2.7 1.25 1.9 1.24-.1 1.24-.4 1.24 .5 1.24-3.2 1.25-.5 1.24 1.0 1.24-1.1 1.24 2.2 1.24 .8 1.25-.2 1.24-.6 1.24-.8 1.24 2.3 1.24-4.3 1.25 3.0 1.24-.3 1.24 1.2 1.24-.3 1.24 .5 1.25-.5 1.24 2.2 1.24-3.1 1.24 1.3 1.24-4.3 1.25 5.3 1.24-1.0 1.24-3.4 1.24 .4 1.24-1.7 1.25 1.7 1.24 1.8 1.24-.9 1.24-2.4 1.24 1.8 1.25 .1 1.24 1.7 1.24 0 1.24-2.4 1.24 .1 1.25-.2 1.24-3.4 1.24 3.4 1.24-1.2 1.24 1.4 1.25-4.1 1.24 3.9 1.24-2.1 1.24 0 1.24 .6 1.25-5.3 1.24-.9 1.24 2.6 1.24-3.3 1.24 0 1.25 2.0 1.24-1.1 1.24 .6 1.24-.2 1.24-.1 1.25 2.3 1.24 2.9 1.24-3.2 1.24 3.2 1.24-.2 1.25-1.1 1.24 .8 1.24-1.1 1.24 1.9 1.24 1.9 1.25 .5 1.24 2.1 1.24-4.8 1.24 2.2 1.24-.5 1.25 1.3 1.24 2.3 1.24-3.9 1.24 2.6 1.24-2.6 1.25 1.0 1.24 1.1 1.24-1.5 1.24 2.1 1.24-1.2 1.25 .8 1.24-.6 1.24-2.1 1.24 1.6 1.24 1.0 1.25 .8 1.24-3.2 1.24 2.5 1.24-.7 1.24-3.4 1.25 .2 1.24 3.1 1.24-3.6 1.24 .9 1.24 1.7 1.25 .1 1.24 1.2 1.24 1.3 1.24-2.1 1.24 0 1.25 3.2 1.24-5.6 1.24 1.4 1.24 1.7 1.24-1.2 1.25 2.9 1.24-2.2 1.24 .9 1.24-4.9 1.24 6.5 1.25 .2 1.24-3.2 1.24 3.3 1.24-2.3 1.24 1.3 1.25 1.2 1.24-3.7 1.24-1.9 1.24 1.4 1.24-1.8 1.25 1.4 1.24 .3 1.24-.2 1.24 2.8 1.24-.8 1.25-3.0 1.24 3.0 1.24-3.7 1.24 1.3 1.24 1.5 1.25 2.1 1.24-1.0 1.24-.5 1.24 .6 1.24-.7 1.25 .4 1.24-2.9 1.24-1.0 1.24 2.0 1.24 2.2 1.25-.8 1.24 .7 1.24-1.2 1.24-.7 1.24 .7 1.25-1.7 1.24 3.5 1.24-3.1 1.24 .7 1.24-1.8 1.25 2.7 1.24-2.8 1.24 4.5 1.24-4.8 1.24 2.5 1.25-.5 1.24-1.2 1.24 3.6 1.24-3.2 1.24 3.0 1.25-3.2 1.24 1.0 1.24-.8 1.24 3.1 1.24 .4 1.25-2.1 1.24-1.1 1.24-.6 1.24 4.8 1.24-2.2 1.25-4.4 1.24 2.2 1.24-3.5 1.24 6.5 1.24 1.4 1.25-1.0 1.24-2.0 1.24-1.3 1.24-1.3 1.24 2.9 1.25-2.4 1.24 .7 1.24-1.3 1.24 .3 1.24 1.8 1.25 1.3 1.24-1.9 1.24-.2 1.24-1.6 1.24-1.0 1.25 .3 1.24 3.3 1.24-.6 1.24 2.2 1.24-.9 1.25-1.5 1.24-1.8 1.24 .8 1.24-1.5 1.24 5.6 1.25-3.0 1.24-1.0 1.24 3.6 1.24-4.4 1.24 2.1 1.25-1.4 1.24 .5 1.24-1.3 1.24 1.2 1.24 1.6 1.25-3.7 1.24-1.0 1.24 4.9 1.24-1.6 1.24 .8 1.25-1.7 1.24 3.0 1.24 .5 1.24-4.6 1.24 3.0 1.25-2.0 1.24-1.3 1.24 1.5 1.24 1.3 1.24-2.6 1.25-.2 1.24 4.2 1.24-2.8 1.24 .4 1.24-2.3 1.25 .4 1.24 1.6 1.24 .2 1.24 .1 1.24 2.7 1.25-2.2 1.24-2.5 1.24 .9 1.24 1.4 1.24 3.0 1.25-4.0 1.24 .2 1.24 .3 1.24-2.1 1.24 .9 1.25 .9 1.24 2.4 1.24-.3 1.24-1.4 1.24 1.2 1.25-2.9 1.24 3.4 1.24-.1 1.24-.5 1.24-2.9 1.25 5.5 1.24-7.9 1.24 2.2 1.24-.3 1.24 2.5 1.25-3.9 1.24 2.7 1.24-.8 1.24-.2 1.24 1.5 1.25 1.5 1.24-1.2 1.24-1.2 1.24-2.4 1.24 5.7 1.25-3.2 1.24-2.1 1.24 3.1 1.24 1.3 1.24-2.0 1.25-1.5 1.24 4.7 1.24-1.8 1.24-.7 1.24 .2 1.25-4.8 1.24 2.5 1.24 .2 1.24 3.9 1.24-4.0 1.25-.2 1.24-1.4 1.24 .5 1.24 .8 1.24 1.4 1.25-.5 1.24 3.6 1.24-2.1 1.24 .2 1.24 .8 1.25-.5 1.24-1.3 1.24-1.8 1.24 2.5 1.24-2.3 1.25 3.2 1.24-2.7 1.24-1.4 1.24 3.9 1.24 .8 1.25-2.2 1.24 .5 1.24-.3 1.24 2.8 1.24-2.6 1.25-1.4 1.24-.2 1.24-1.7 1.24 5.2 1.24 .6 1.25-3.2 1.24 3.1 1.24-1.5 1.24-1.5 1.24-.3 1.25-.1 1.24-2.8 1.24 .8 1.24 1.0 1.24 1.1 1.25 1.1 1.24 .8 1.24 .1 1.24-1.9 1.24 .8 1.25-1.0 1.24 2.7 1.24-6.3 1.24 1.7 1.24 .8 1.25-1.9 1.24 1.5 1.24-.3 1.24 1.2 1.24-1.8 1.25 1.7 1.24-.2 1.24-1.1 1.24 2.6 1.24-2.0 1.25 1.0 1.24 .5 1.24-1.0"/>
<path stroke="#1f6fe5" stroke-width="3.8" d="M130.00 1035.7l 1.24-4.0 1.24 3.0 1.25-1.5 1.24 .2 1.24 .1 1.24-1.6 1.24 2.1 1.25-.1 1.24 4.8 1.24-2.8 1.24 0 1.24 .4 1.25-1.0 1.24-.8 1.24 1.3 1.24 1.2 1.24 0 1.25 2.2 1.24-1.9 1.24-.5 1.24 1.8 1.24-1.4 1.25-.1 1.24 .8 1.24 1.0 1.24 2.9 1.24-1.6 1.25 .4 1.24 1.8 1.24-2.8 1.24 0 1.24 1.6 1.25 .1 1.24-.1 1.24 1.3 1.24-3.4 1.24 3.1 1.25-1.6 1.24-.1 1.24 2.1 1.24 1.4 1.24-.6 1.25-1.2 1.24 1.8 1.24 .6 1.24 1.9 1.24 .4 1.25-1.0 1.24 .4 1.24-2.0 1.24-1.4 1.24 1.4 1.25 .7 1.24 .1 1.24-.4 1.24 1.7 1.24-3.5 1.25 2.6 1.24-.3 1.24-3.0 1.24 2.3 1.24-.8 1.25 1.9 1.24-2.3 1.24 .8 1.24 1.5 1.24 .4 1.25-3.1 1.24 1.6 1.24 .9 1.24-.7 1.24 2.5 1.25-2.2 1.24 1.2 1.24-2.2 1.24 .8 1.24-2.5 1.25-.9 1.24-2.0 1.24 .3 1.24-6.5 1.24-10.8 1.25-17.8 1.24-24.2 1.24-27.7 1.24-16.7 .25-.1 .99 9.6 1.25 21.6 1.24 27.4 1.24 21.0 1.24 13.4 1.24 7.8 1.25 2.5 1.24 1.2 1.24 4.0 1.24 1.9 1.24 .1 1.25 .4 1.24 .4 1.24 1.5 1.24 .2 1.24 1.0 1.25-2.2 1.24 1.4 1.24-.3 1.24 1.3 1.24 .1 1.25 2.7 1.24-.3 1.24-.7 1.24-3.0 1.24 1.2 1.25-.9 1.24 1.5 1.24-3.2 1.24 3.0 1.24-.5 1.25-2.5 1.24 .2 1.24 1.1 1.24 1.4 1.24 1.0 1.25 1.1 1.24-3.2 1.24 .9 1.24-.7 1.24 2.0 1.25 .2 1.24 .4 1.24-2.6 1.24-.1 1.24-.9 1.25 2.4 1.24-1.1 1.24 .1 1.24-.8 1.24 .8 1.25-.1 1.24-.1 1.24 2.1 1.24 2.5 1.24-3.2 1.25-.5 1.24-.1 1.24-.5 1.24 2.0 1.24 .1 1.25-1.8 1.24-.6 1.24-1.2 1.24 .7 1.24-1.0 1.25 1.9 1.24 1.3 1.24-1.3 1.24-.6 1.24 .5 1.25 .1 1.24 .7 1.24-1.9 1.24 .1 1.24 1.4 1.25 .8 1.24 1.7 1.24-4.3 1.24 3.0 1.24-1.9 1.25 1.8 1.24 1.5 1.24 .7 1.24-.3 1.24-1.3 1.25 1.1 1.24-2.2 1.24 .5 1.24 .8 1.24-2.2 1.25 2.6 1.24-.7 1.24 .6 1.24-1.8 1.24-.2 1.25-.5 1.24 .9 1.24-2.0 1.24 .4 1.24-.4 1.25 1.3 1.24-1.8 1.24 1.9 1.24-1.3 1.24-.9 1.25 1.1 1.24-.5 1.24 1.0 1.24 1.6 1.24-1.4 1.25 .2 1.24 1.3 1.24-1.3 1.24 0 1.24-.4 1.25-1.0 1.24 2.7 1.24-2.8 1.24 3.2 1.24-.8 1.25 .6 1.24-1.1 1.24-1.1 1.24 1.1 1.24-.4 1.25 1.2 1.24 .3 1.24 0 1.24-.2 1.24-1.1 1.25 .6 1.24-2.5 1.24 1.7 1.24-1.6 1.24 2.5 1.25-.4 1.24-3.2 1.24 2.0 1.24-.4 1.24-1.0 1.25 1.5 1.24-1.1 1.24-2.1 1.24 1.7 1.24-.1 1.25-.8 1.24-1.3 1.24 2.0 1.24-.4 1.24-1.6 1.25 .7 1.24 .4 1.24 .2 1.24 1.9 1.24-1.6 1.25-1.8 1.24 .4 1.24 .5 1.24 1.4 1.24-2.7 1.25-.7 1.24 .1 1.24-.7 1.24 2.4 1.24-2.5 1.25 1.7 1.24-.6 1.24 1.0 1.24-2.6 1.24 2.1 1.25-2.3 1.24-.2 1.24-1.3 1.24-.1 1.24 2.0 1.25 .7 1.24 .7 1.24 .2 1.24-1.2 1.24-1.2 1.25 0 1.24-.7 1.24-1.3 1.24-1.0 1.24-1.4 1.25-2.4 1.24-4.8 1.24-4.8 1.24-2.4 .02-2.7 1.22 2.6 1.25 6.3 1.24 5.8 1.24-1.1 1.24 3.4 1.24 .2 1.25-3.3 1.24 .8 1.24-2.6 1.24-1.4 .02 1.5 1.22-.6 1.25 3.0 1.24 3.6 1.24-1.1 1.24 4.3 1.24-1.8 1.25 1.4 1.24-1.5 1.24-3.7 1.24 .3 1.24-.6 1.25-2.7 .01-.9 1.23 2.6 1.24 .8 1.24 .2 1.24 2.5 1.25 2.0 1.24-1.8 1.24 1.4 1.24-.1 1.24-3.3 1.25-2.4 1.24-1.4 1.24 1.6 .02 2.1 1.22-.1 1.24 1.9 1.25 .4 1.24 2.1 1.24 .2 1.24 .6 1.24-2.0 1.25-1.1 1.24 .7 1.24-1.5 1.24 .4 1.24-.2 1.25-2.1 1.24 2.9 .01-2.5 1.23 .5 1.24 2.4 1.24 .6 1.25-.1 1.24 2.0 1.24-1.0 1.24-1.7 1.24 4.6 1.25-1.6 1.24 2.3 1.24-1.0 1.24-.1 1.24 3.7 1.25-2.6 1.24 .6 1.24 .4 1.24-1.9 1.24 .1 1.25 1.0 1.24 1.2 1.24-1.6 1.24 1.0 1.24-1.5 1.25 .9 1.24-5.1 1.24-3.1 1.24-1.7 1.24-3.5 .02 .9 1.23 1.9 1.24 5.2 1.24 3.0 1.24 3.1 1.24-1.6 1.25 2.9 1.24 2.3 1.24-1.5 1.24 .1 1.24 .1 1.25 2.1 1.24 .1 1.24-.5 1.24 1.8 1.24-.6 1.25 .6 1.24-1.1 1.24 2.9 1.24-1.3 1.24-.7 1.25 .1 1.24-.1 1.24 1.3 1.24-1.1 1.24 1.3 1.25-.9 1.24 1.0 1.24 .3 1.24-1.1 1.24-2.0 1.25 1.6 1.24-.3 1.24-1.4 1.24 0 1.24-1.1 1.25-.7 1.24-.2 1.24 1.4 1.24-2.0 1.24-3.0 1.25-4.2 1.24 .4 .02 1.1 1.22 1.1 1.24 1.3 1.24 3.5 1.25 1.5 1.24-.5 1.24 .4 1.24 1.8 1.24-.5 1.25 .6 1.24-1.9 1.24 1.7 1.24-1.5 1.24 1.0 1.25-4.2 1.24 1.4 1.24-1.6 1.24-4.5 1.24-5.0 1.25-7.0 1.24-7.1 .52-1.8 .72 1.8 1.24 8.8 1.24 8.4 1.25 4.5 1.24 3.2 1.24 2.0 1.24 .7 1.24-1.4 1.25-.4 1.24 1.5 1.24-.8 1.24 .2 1.24 .3 1.25-.6 1.24-2.0 1.24 .8 1.24-5.5 1.24-2.3 1.25-6.5 1.24-4.3 .52 1.9 .72 .3 1.24 2.0 1.24 6.1 1.25 5.2 1.24 1.5 1.24 3.1 1.24 1.1 1.24-1.7 1.25 1.4 1.24-.1 1.24 1.9 1.24 .3 1.24-.4 1.25-2.0 1.24 .4 1.24 1.5 1.24-.6 1.24 1.8 1.25-.8 1.24-2.1 1.24-.1 1.24 .2 1.24 1.4 1.25 .6 1.24-3.0 1.24-1.8 1.24-2.5 1.24 .6 1.25-2.9 1.24-4.7 1.24-6.4 1.24-14.3 1.24-16.9 1.25-22.1 1.24-18.8 .52-.6 .72 5.0 1.24 17.1 1.24 21.8 1.25 19.9 1.24 10.3 1.24 6.1 1.24 4.8 1.24 2.7 1.25 1.3 1.24 1.6 1.24 .5 1.24 1.7 1.24 .3 1.25-1.0 1.24 0 1.24 .6 1.24-.8 1.24-1.3 1.25 3.3 1.24-.7 1.24 2.3 1.24-1.5 1.24 .3 1.25 .3 1.24 1.2 1.24-1.5 1.24-.4 1.24 0 1.25-1.1 1.24 .7 1.24 .1 1.24 .4 1.24 2.2 1.25-1.6 1.24 .9 1.24-.1 1.24 .9 1.24-2.4 1.25 0 1.24 .8 1.24 .3 1.24-.8 1.24-1.1 1.25-1.7 1.24 0 1.24-.6 .77-1.1 .47 .2 1.24 1.6 1.25 .2 1.24 .6 1.24 .1 1.24 .4 1.24-1.2 1.25-1.9 1.24 1.7 1.24-1.3 1.24-4.4 1.24-.1 1.02-1.7 .23 .6 1.24-1.0 1.24 4.3 1.24 .5 1.24 2.8 1.25-.1 1.24-.1 1.24-.2 1.24 1.8 1.24-1.7 1.25 .2 1.24-.3 1.24-2.3 1.24 2.4 1.24-1.7 1.25-1.3 1.24-1.8 1.24-6.7 1.24-5.5 1.24-9.9 1.25-15.4 1.24-20.9 1.24-12.7 .28 2.6 .96 8.2 1.24 16.2 1.25 17.8 1.24 13.7 1.24 6.5 1.24 5.7 1.24 2.7 1.25 .7 1.24 .1 1.24-.2 1.24 1.1 1.24 0 1.25 2.3 1.24 1.7 1.24-2.1 1.24-1.6 1.24 2.2 1.25-.2 1.24 .8 1.24 .5 1.24-2.4 1.24 1.2 1.25 2.0 1.24-2.4 1.24 2.3 1.24-1.3 1.24 1.2 1.25-.1 1.24 .3 1.24 .1 1.24-1.5 1.24 1.4 1.25 .5 1.24-.2 1.24 .5 1.24-1.5 1.24-.8 1.25 1.3 1.24 .5 1.24 .7 1.24-1.3 1.24 .5 1.25-.9 1.24-.1 1.24-1.6 1.24 1.8 1.24-.1 1.25-2.7 1.24 2.8 1.24 1.2 1.24-.8 1.24-.1 1.25 1.5 1.24-1.2 1.24-2.1 1.24 .8 1.24 .1 1.25-1.4 1.24-4.0 1.24 1.9 1.24-3.9 1.24-3.0 1.25-3.5 1.24-2.3 .03-1.0 1.21 1.4 1.24 5.0 1.24 5.3 1.25-.2 1.24 2.7 1.24-1.0 1.24-1.4 1.24 1.8 1.25-2.7 1.24 1.1 1.24-1.7 1.24 1.1 1.24-1.9 1.25 .6 1.24 2.0 1.24-.3 1.24 .6 1.24 .7 1.25 1.8 1.24-.5 1.24 1.3 1.24 1.4 1.24-1.0 1.25 .1 1.24 .8 1.24-.6 1.24 0 1.24 1.4 1.25-1.5 1.24 .7 1.24-1.2 1.24 .1 1.24-1.0 1.25 1.2 1.24-1.6 1.24 1.0 1.24 2.1 1.24 .9 1.25-.3 1.24-1.6 1.24 1.1 1.24-1.1 1.24 1.2 1.25-1.7 1.24 .6 1.24 1.3 1.24-2.4 1.24 .8 1.25-4.4 1.24-3.3 1.24-1.3 1.24-.9 .03-2.2 1.21 1.4 1.25 1.0 1.24 4.5 1.24 3.2 1.24 .6 1.24 .5 1.25-2.0 1.24 1.4 1.24 .6 1.24 .7 1.24 0 1.25-1.2 1.24 3.9 1.24-2.0 1.24 .9 1.24 1.6 1.25-3.6 1.24 1.7 1.24 .1 1.24 .4 1.24 .6 1.25-.3 1.24-3.2 1.24 .9 1.24 2.1 1.24-.9 1.25-.5 1.24-.6 1.24 .9 1.24-.3 1.24-.9 1.25-1.1 1.24 4.2 1.24-4.2 1.24 3.1 1.24 1.8 1.25-2.5 1.24 0 1.24-1.8 1.24 2.3 1.24-3.6 1.25 1.5 1.24-.8 1.24-1.4 1.24 1.5 1.24-3.2 1.25 .5 1.24 .8 1.24-.3 1.24 .9 1.24 .7 1.25-1.6 1.24 .6 1.24 .5 1.24 .2 1.24 1.0 1.25-1.8 1.24 .4 1.24-.5 1.24-.1 1.24 2.6 1.25-1.4 1.24 1.2 1.24 1.1 1.24-2.2 1.24 .9 1.25-1.3 1.24 1.5 1.24-1.7 1.24 1.3 1.24-.5 1.25 1.0 1.24 .9 1.24-1.3 1.24-1.2 1.24-2.2 1.25-1.0 1.24-2.9 1.24-2.2 1.24-.5 1.24-.4 1.25-3.5 1.24-2.1 1.24 1.8 1.24-3.5 1.24-1.2 1.25-5.1 1.24-5.9 1.24-5.7 1.24-1.3 .04-1.6 1.2 3.2 1.25 8.3 1.24 8.4 1.24 4.3 1.24 6.0 1.24 3.2 1.25 1.3 1.24 1.7 1.24-1.1 1.24-.9 1.24 4.1 1.25-.4 1.24-2.5 1.24 3.8 1.24-.3 1.24 .3 1.25-.2 1.24-1.4 1.24 .7 1.24 .9 1.24 .5 1.25-2.3 1.24-1.1 1.24 1.9 1.24-1.5 1.24 1.8 1.25 .5 1.24-1.0 1.24-1.9 1.24-.9 1.24-1.3 1.25-4.6 1.24-.6 1.24-.7 .04-.7 1.2 1.9 1.24 .7 1.25 2.8 1.24 .1 1.24 2.2 1.24 0 1.24 2.6 1.25-.2 1.24 1.1 1.24-.5 1.24 2.7 1.24 .2 1.25-1.6 1.24 1.4 1.24-.2 1.24 2.1 1.24-2.3 1.25-1.5 1.24 2.1 1.24-2.3 1.24-1.1 1.24 1.0 1.25-1.5 1.24 1.7 1.24-.2 1.24 2.6 1.24-.7 1.25-1.5 1.24-.4 1.24 1.0 1.24-.8 1.24 1.2 1.25 .5 1.24-1.2 1.24-.3 1.24 2.0 1.24 .5 1.25 .3 1.24-1.3 1.24-.7 1.24-1.9 1.24 .6 1.25-.9 1.24 3.0 1.24-1.5 1.24 .2 1.24 .2 1.25-.1 1.24-1.9 1.24 .1 1.24 1.7 1.24 .5 1.25-.3 1.24 1.4 1.24-.9 1.24 1.3 1.24-2.3 1.25-1.8 1.24-1.3 1.24 2.4 1.24 1.8 1.24-.2 1.25 .9 1.24-2.1 1.24-1.0 1.24 1.7 1.24-.2 1.25 1.5 1.24-2.5 1.24 1.6 1.24-1.5 1.24 .8 1.25-1.1 1.24-.7 1.24 0 1.24 .7 1.24-2.4 1.25-1.4 1.24-1.4 1.24-.1 .04 3.6 1.2-3.0 1.24 1.7 1.25 2.1 1.24 .9 1.24-2.0 1.24 1.6 1.24 .8 1.25-.3 1.24 .5 1.24 1.4 1.24-1.6 1.24 1.6 1.25-2.8 1.24 2.5 1.24-2.2 1.24 .2 1.24 1.9 1.25-1.6 1.24 1.2 1.24-2.1 1.24 2.2 1.24-2.1 1.25-1.5 1.24 1.5 1.24 1.0 1.24-1.1 1.24 2.9 1.25 1.9 1.24-1.0 1.24-1.0 1.24-1.1 1.24 .4 1.25-1.6 1.24-1.1 1.24 2.4 1.24-.4 1.24 2.7 1.25-2.5 1.24-1.8 1.24 .5 1.24 1.6 1.24-1.4 1.25 .6 1.24 .2 1.24-.1 1.24 .4 1.24-.3 1.25 .7 1.24 .8 1.24-2.9 1.24 4.7 1.24-2.0 1.25 .3 1.24-2.1 1.24 1.4 1.24-.8 1.24 .5 1.25 .4 1.24-1.4 1.24-1.2 1.24 1.1 1.24 1.4 1.25 .5 1.24-.8 1.24-.9 1.24 .1 1.24-1.0 1.25-.6 1.24 3.5 1.24-2.7 1.24 .8 1.24-1.1 1.25 1.5 1.24 .7 1.24-2.6 1.24 .9 1.24-.1 1.25 2.4 1.24-.6 1.24-.9 1.24 .9 1.24-.7 1.25 .4 1.24-.4 1.24 .3 1.24-.3 1.24 .9 1.25-1.3 1.24-2.1 1.24 2.9 1.24-3.1 1.24-.4 1.25 .2 1.24 1.0 1.24 .9 1.24-1.5 1.24-.6 1.25-3.8 1.24-.2 1.24-1.9 1.24-2.5 1.24-2.9 1.25-7.7 1.24 3.1 .05-3.9 1.19 3.3 1.24 5.1 1.24 3.4 1.25 2.1 1.24-.9 1.24 2.5 1.24 3.3 1.24-.3 1.25-.5 1.24-.3 1.24 3.5 1.24-1.0 1.24-1.5 1.25 0 1.24-.6 1.24-1.5 1.24 .1 1.24-.6 1.25-1.5 1.24-.4 .05-1.7 1.19-.3 1.24 2.6 1.24 .6 1.25 1.2 1.24 3.6 1.24-.8 1.24 1.2 1.24 .4 1.25-1.5 1.24 2.5 1.24-.6 1.24 .2 1.24 .9 1.25-.9 1.24-.9 1.24 1.0 1.24-.9 1.24 1.2 1.25-.7 1.24-.1 1.24 1.4 1.24 1.6 1.24-1.0 1.25-1.2 1.24-1.4 1.24-.5 1.24 .5 1.24 .9 1.25-.5 1.24-.4 1.24-1.2 1.24-.7 1.24 .4 1.25 1.2 1.24 2.3 1.24-.2 1.24-2.6 1.24-.6 1.25 1.5 1.24-.2 1.24-1.4 1.24 2.2 1.24-.9 1.25 1.3 1.24-1.4 1.24 1.7 1.24 .2 1.24-2.2 1.25 1.1 1.24-.8 1.24 1.4 1.24-.5 1.24-1.1 1.25 1.4 1.24-.3 1.24-.2 1.24 0 1.24-2.1 1.25 1.2 1.24 .2 1.24 .4 1.24-2.2 1.24 2.0 1.25-.2 1.24-.2 1.24 .9 1.24 1.6 1.24-1.3 1.25 1.2 1.24 .7 1.24-1.5 1.24 .3 1.24-1.3 1.25 .6 1.24-1.1 1.24-.1 1.24 .9 1.24-1.0 1.25 1.2 1.24 .3 1.24-.9 1.24 .6 1.24 .1 1.25 0 1.24-1.6 1.24-.1 1.24 2.3 1.24-1.2 1.25-2.9 1.24 .3 1.24 2.3 1.24-.7 1.24 1.6 1.25-.2 1.24 .5 1.24-1.4 1.24 1.0 1.24 2.1 1.25-3.4 1.24 1.9 1.24-.2 1.24-1.4 1.24-1.0 1.25-1.0 1.24 1.3 1.24 1.8 1.24 .6 1.24 0 1.25-1.0 1.24-.3 1.24-1.5 1.24-.7 1.24 1.8 1.25 0 1.24 .1 1.24-1.8 1.24 1.5 1.24-.6 1.25 1.6 1.24-.6 1.24 .2 1.24 .6 1.24-.2 1.25 .2 1.24-2.3 1.24-1.2 1.24 2.7 1.24 .9 1.25-.1 1.24-1.3 1.24 .4 1.24-.8 1.24-1.2 1.25 1.5 1.24 1.8 1.24-1.5 1.24 2.3 1.24-4.5 1.25 .5 1.24 2.2 1.24-1.9 1.24-.2 1.24-.7 1.25-.1 1.24 2.7 1.24 0 1.24 0 1.24 .2 1.25 1.0 1.24-2.0 1.24-.4 1.24 .1 1.24 .9 1.25 1.4 1.24-.8 1.24 .1 1.24 1.6 1.24-2.5 1.25-1.4 1.24 1.6 1.24-1.5 1.24-.9 1.24 .8 1.25-.6 1.24 1.3 1.24-.2 1.24 .3 1.24-1.1 1.25 .8 1.24 .6 1.24-.5 1.24 1.1 1.24-1.4 1.25-.3 1.24 1.0 1.24-.7 1.24-.8 1.24-.1 1.25 .1 1.24 .3 1.24 1.0 1.24 .8 1.24 .8 1.25 1.3 1.24-.5 1.24-1.2 1.24 1.9 1.24-.9 1.25-2.1 1.24 .5 1.24 .3 1.24-.5 1.24 1.1 1.25-.4 1.24-.2 1.24-1.1 1.24 .5 1.24-1.8 1.25 1.7 1.24-2.7 1.24 1.6 1.24 1.8 1.24-1.5 1.25-1.1 1.24 .4 1.24-1.2 1.24 .2 1.24 1.3 1.25 0 1.24 .4 1.24-1.8 1.24 2.1 1.24-2.1 1.25 .7 1.24-.2 1.24 1.4 1.24-2.2 1.24-.8 1.25 3.8 1.24 .4 1.24-.3 1.24-.2 1.24 .3 1.25-.2 1.24 1.0 1.24-1.8 1.24 3.3 1.24-3.3 1.25-.8 1.24 .6 1.24 .2 1.24 2.6 1.24-1.3 1.25-1.5 1.24-.9 1.24 1.1 1.24 .1 1.24 1.2 1.25-.6 1.24 1.3 1.24-2.0 1.24-.2 1.24 1.6 1.25-2.5 1.24 1.4 1.24 2.2 1.24-1.4 1.24-.2 1.25-.5 1.24-1.3 1.24 .6 1.24-1.3 1.24 .6 1.25 2.3 1.24-2.2 1.24-.2 1.24 1.2 1.24 .3 1.25-1.2 1.24 0 1.24 .5 1.24-1.2 1.24 1.7 1.25 .3 1.24 .5 1.24 1.9 1.24-.7 1.24 .1 1.25-.7 1.24-4.5 1.24 3.3 1.24-1.8 1.24 0 1.25 2.4 1.24-2.4 1.24 .9 1.24 1.2 1.24-1.8 1.25-.5 1.24 .9 1.24 .6 1.24-.8 1.24-1.6 1.25 1.1 1.24 1.1 1.24 2.3 1.24-.3 1.24-.3 1.25-.2 1.24-1.1 1.24-.2 1.24 .3 1.24-.7 1.25 .5 1.24 .7 1.24-1.3 1.24 1.6 1.24-.3 1.25-.1 1.24-2.3 1.24 0 1.24 1.2 1.24-.7 1.25-1.5 1.24 1.9 1.24 1.0 1.24-1.6 1.24-.7 1.25 .5 1.24-3.7 1.24-.8 1.24-.8 .07 1.1 1.17 2.7 1.25-1.9 1.24 .3 1.24 1.4 1.24 2.0 1.24 2.6 1.25-1.2 1.24 2.1 1.24-1.3 1.24 1.1 1.24 .1 1.25-.6 1.24-1.2 1.24-.5 1.24-.1 1.24-1.8 1.25 1.4 1.24 0 1.24 .7 1.24-1.8 1.24 .6 1.25 .7 1.24-.5 1.24 .5 1.24-.4 1.24 .4 1.25-1.5 1.24 1.3 1.24-.7 1.24 3.3 1.24-1.0 1.25 .9 1.24-2.0 1.24 .1 1.24 1.1 1.24-.2 1.25-2.5 1.24 1.6 1.24-2.3 1.24 0 1.24 1.5 1.25 .1 1.24 .3 1.24-.8 1.24 .5 1.24-.5 1.25 .4 1.24 0 1.24 .9 1.24 .8 1.24 .1 1.25-1.8 1.24 1.2 1.24-2.0 1.24-.1 1.24 1.6 1.25-1.7 1.24 1.8 1.24-.3 1.24-1.0 1.24 0 1.25 2.9 1.24-1.6 1.24 .3 1.24 1.2 1.24-1.0 1.25-.4 1.24 .1 1.24-2.6 1.24 3.6 1.24-2.1 1.25-.4 1.24 .6 1.24-.8 1.24-1.2 1.24 2.1 1.25-.4 1.24 .7 1.24-1.4 1.24 .3 1.24 1.1 1.25-.8 1.24 .7 1.24 .1 1.24-.8 1.24 .2 1.25 .4 1.24 2.6 1.24-1.6 1.24-.4 1.24-1.1 1.25 .4 1.24 0 1.24-.6 1.24-.6 1.24-.6 1.25 .6 1.24 2.2 1.24 1.0 1.24-.1 1.24-2.8 1.25-1.6 1.24 1.9 1.24 .2 1.24-1.8 1.24 3.1 1.25-.4 1.24 1.1 1.24-2.0 1.24-.7 1.24 1.5 1.25-2.9 1.24 1.5 1.24-.7 1.24 .6 1.24-1.2 1.25 1.7 1.24 2.0 1.24-1.7 1.24 .4 1.24-.8 1.25 1.2 1.24-.1 1.24 .3 1.24-3.5 1.24 2.1 1.25-.8 1.24 1.7 1.24 .9 1.24-.9 1.24 1.2 1.25 .8 1.24-.9 1.24 .5 1.24-1.4 1.24 .3 1.25-1.1 1.24 .1 1.24 .6 1.24-.7 1.24-.9 1.25-.7 1.24 1.6 1.24-.7 1.24-1.2 1.24 1.0 1.25 1.6 1.24-1.3 1.24 2.5 1.24-2.2 1.24-1.2 1.25 1.1 1.24 2.3 1.24-2.9 1.24 1.3 1.24-.8 1.25 1.3 1.24-2.0 1.24-1.0 1.24 1.8 1.24-1.0 1.25 1.5 1.24 0 1.24 1.9 1.24-1.8 1.24 .8 1.25-2.0 1.24 .3 1.24-.2 1.24 .1 1.24 1.0 1.25-1.5 1.24-1.0 1.24 1.8 1.24-1.6 1.24-.6 1.25 1.5 1.24 .7 1.24-3.2 1.24 2.5 1.24 1.9 1.25-.4 1.24-1.0 1.24 2.0 1.24-2.0 1.24 .2 1.25-.1 1.24-.4 1.24 0 1.24 .5 1.24-1.3 1.25 2.2 1.24-1.6 1.24 .4"/>
<path stroke="#f04444" stroke-width="3.7" d="M130.00 1292.0l 1.24 1.3 1.24 2.2 1.25-1.0 1.24-1.8 1.24 .8 1.24-1.4 1.24 .5 1.25-1.5 1.24 2.0 1.24 .4 1.24 .6 1.24-1.5 1.25-.1 1.24-1.8 1.24 4.4 1.24-4.0 1.24 3.4 1.25-1.7 1.24-.4 1.24 .8 1.24 0 1.24 .9 1.25-.1 1.24 1.5 1.24-3.0 1.24 1.7 1.24-.2 1.25 1.8 1.24-2.6 1.24 2.9 1.24 .8 1.24-1.0 1.25 3.5 1.24-.2 1.24 1.1 1.24 .5 1.24-2.1 1.25 1.0 1.24 1.2 1.24 1.5 1.24 .4 1.24-1.1 1.25 .8 1.24-.4 1.24 .4 1.24 0 1.24-.6 1.25 2.1 1.24-2.1 1.24 .4 1.24 1.9 1.24-1.4 1.25 .2 1.24-.5 1.24 .9 1.24-2.0 1.24 2.7 1.25-.1 1.24 .5 1.24 .9 1.24 .8 1.24-.2 1.25-1.8 1.24 .2 1.24-.3 1.24-1.3 1.24 1.7 1.25-1.4 1.24-1.4 1.24 2.8 1.24-.9 1.24-1.8 1.25 3.5 1.24-2.7 1.24 .6 1.24-2.0 1.24-.3 1.25-2.1 1.24-2.1 1.24-2.3 1.24-4.5 1.24-8.5 1.25-14.4 1.24-28.7 1.24-28.4 1.24-28.2 .75-5.0 .49 1.2 1.25 22.6 1.24 32.2 1.24 26.1 1.24 19.3 1.24 9.2 1.25 7.0 1.24 .3 1.24-.1 1.24 1.5 1.24-.6 1.25 .6 0 .5 1.24 .8 1.24 3.4 1.24 .7 1.24 1.2 1.25 2.2 1.24-.2 1.24 2.4 1.24-1.4 1.24 2.1 1.25-1.8 1.24 .3 1.24 .7 1.24 .1 1.24 .2 1.25 1.3 1.24-1.4 1.24-1.2 1.24 1.3 1.24-1.2 1.25 3.1 1.24-1.2 1.24-.1 1.24 2.1 1.24 1.3 1.25-2.2 1.24 .2 1.24-.2 1.24 0 1.24-2.1 1.25 .7 1.24 1.0 1.24-1.2 1.24 .4 1.24 .2 1.25-1.3 1.24 .7 1.24-2.2 1.24 1.9 1.24 1.2 1.25-2.9 1.24 2.6 1.24-.3 1.24-.1 1.24 .1 1.25 0 1.24-.8 1.24 .8 1.24 .7 1.24 .8 1.25 .2 1.24-2.5 1.24 1.3 1.24-2.0 1.24 .4 1.25 .5 1.24-1.1 1.24 .6 1.24 .8 1.24-.5 1.25 1.0 1.24 .5 1.24 1.2 1.24-1.1 1.24 2.0 1.25-1.6 1.24-3.6 1.24 2.5 1.24 2.1 1.24-1.6 1.25 0 1.24 0 1.24 1.7 1.24-.7 1.24-1.0 1.25-.7 1.24 1.6 1.24-.6 1.24-.9 1.24 1.7 1.25-.9 1.24-.1 1.24 .7 1.24-.8 1.24-2.4 1.25 4.5 1.24-1.6 1.24-1.1 1.24-1.0 1.24 1.3 1.25-1.1 1.24 1.8 1.24 .3 1.24-.7 1.24-.6 1.25-.1 1.24 .3 1.24 .4 1.24-.1 1.24-.4 1.25-.7 1.24 1.6 1.24 .4 1.24-3.3 1.24 3.3 1.25-3.6 1.24 1.6 1.24 1.1 1.24-2.8 1.24-.8 1.25 1.6 1.24-.3 1.24-.2 1.24 1.3 1.24-1.8 1.25 3.1 1.24-2.2 1.24 1.1 1.24-.3 1.24-.9 1.25 1.8 1.24 0 1.24-2.1 1.24-1.1 1.24-2.3 1.25 .5 1.24 1.7 1.24 .1 1.24 .6 1.24-.3 1.25 .2 1.24-1.5 1.24 .6 1.24 2.9 1.24-1.2 1.25-1.5 1.24 .7 1.24-2.5 1.24 1.1 1.24-1.7 1.25 3.5 1.24-1.3 1.24 .4 1.24-.5 1.24-1.3 1.25 .3 1.24 .8 1.24-1.6 1.24 .2 1.24-.5 1.25 .8 1.24 .2 1.24 .8 1.24-1.6 1.24 1.2 1.25-2.4 1.24 .5 1.24-1.1 1.24 2.2 1.24-1.1 1.25-.6 1.24 1.2 1.24-1.4 1.24-.8 1.24-.5 1.25-1.1 1.24 4.5 1.24-3.2 1.24 1.0 1.24-2.1 1.25-.4 1.24 1.5 1.24-1.0 1.24 0 1.24-3.3 1.25-2.2 1.24-3.6 1.24-9.4 1.24-2.5 .02-1.4 1.22 5.5 1.25 6.8 1.24 6.8 1.24-.2 1.24 .2 1.24 .3 1.25-5.4 1.24-1.5 1.24-2.9 1.24-1.8 .02 2.1 1.22 1.2 1.25 4.9 1.24 2.1 1.24 2.6 1.24 .2 1.24 1.0 1.25 1.2 1.24-2.2 1.24 4.3 1.24-2.8 1.24 0 1.25 .6 1.24 0 1.24-.5 1.24-2.5 1.24-1.3 1.25-1.2 1.24-3.6 1.24-2.7 1.24-1.8 .02-2.8 1.22 4.0 1.25 .9 1.24 5.4 1.24 1.4 1.24 1.6 1.24 .6 1.25 1.8 1.24-1.8 1.24 1.1 1.24 1.1 1.24-3.0 1.25-1.6 1.24-1.7 1.24-3.9 1.24-1.5 1.24-1.7 .02 1.5 1.23 1.3 1.24 1.6 1.24 6.1 1.24 1.1 1.24 .8 1.25 .3 1.24 1.2 1.24 1.4 1.24 1.1 1.24 1.9 1.25-3.4 1.24 1.2 1.24 1.9 1.24-1.2 1.24 1.0 1.25 1.0 1.24-1.3 1.24 .2 1.24-.9 1.24 2.5 1.25-.8 1.24-1.6 1.24 2.1 1.24-1.9 1.24 2.9 1.25-1.1 1.24-2.5 1.24-2.7 1.24-6.0 1.24-1.7 1.25-6.6 1.24-2.7 .02 2.1 1.22 1.4 1.24 6.2 1.24 5.6 1.25 3.2 1.24 5.2 1.24-1.0 1.24 .7 1.24 1.7 1.25-3.0 1.24 3.7 1.24 1.0 1.24-.9 1.24 2.0 1.25-2.8 1.24 1.4 1.24 1.5 1.24-3.7 1.24 1.1 1.25 1.8 1.24-.3 1.24-.1 1.24 .7 1.24-.1 1.25-2.3 1.24 .4 1.24-.8 1.24-1.6 1.24 .5 1.25 4.4 1.24-.2 1.24 2.7 1.24-3.4 1.24 .3 1.25-1.5 1.24-2.1 1.24-1.4 1.24-2.5 1.24-3.7 1.25-5.8 1.24-.5 .02 2.7 1.22 1.2 1.24 4.2 1.24 1.0 1.25 2.3 1.24 .4 1.24 2.3 1.24 .7 1.24 1.1 1.25 2.0 1.24-2.7 1.24 1.1 1.24-2.1 1.24 1.7 1.25-1.7 1.24-.4 1.24-2.2 1.24-1.5 1.24-8.4 1.25-9.6 1.24-10.9 1.01-3.1 .23-1.0 1.24 6.8 1.24 11.3 1.25 9.6 1.24 3.7 1.24 4.7 1.24 1.5 1.24-2.8 1.25 4.5 1.24 .4 1.24-1.8 1.24 .9 1.24-3.1 1.25 1.3 1.24-1.8 1.24-2.0 1.24-4.7 1.24-4.6 1.25-6.1 1.24-3.5 .52-.8 .72 1.4 1.24 4.1 1.24 6.6 1.25 5.9 1.24 .2 1.24 5.2 1.24 .1 1.24 .8 1.25 .9 1.24 .4 1.24-.1 1.24-.2 1.24-2.1 1.25 2.7 1.24-1.6 1.24 2.0 1.24 .6 1.24-2.5 1.25 3.3 1.24 .9 1.24-3.1 1.24 0 1.24-2.5 1.25 .5 1.24-.8 1.24-1.3 1.24 1.0 1.24-1.0 1.25-2.7 1.24-1.9 1.24-7.6 1.24-11.4 1.24-19.5 1.25-22.0 1.24-27.8 1.24-16.9 .02 1.2 1.22 13.6 1.24 28.8 1.25 24.3 1.24 16.1 1.24 12.2 1.24 6.9 1.24 2.7 1.25 4.2 1.24 .5 1.24 2.3 1.24-.4 1.24 .2 1.25 .3 1.24 .7 1.24 .8 1.24-.9 1.24 1.7 1.25-1.4 1.24-.2 1.24 2.4 1.24 1.0 1.24 .6 1.25 1.1 1.24-.4 1.24 .6 1.24 .2 1.24-1.5 1.25 .4 1.24-.9 1.24 .5 1.24-.5 1.24 1.3 1.25-.4 1.24 1.0 1.24 1.1 1.24 0 1.24-2.4 1.25-1.2 1.24 .9 1.24-.6 1.24-2.4 1.24-1.1 1.25-1.1 1.24-2.2 1.24-.3 1.24-2.9 .03-.6 1.21 1.6 1.25 1.9 1.24 .6 1.24 1.6 1.24 2.0 1.24-.7 1.25-.2 1.24-2.4 1.24-2.9 1.24-1.6 1.24-6.7 1.25-.2 .02 .1 1.22 2.7 1.24 4.9 1.24 4.7 1.24-2.4 1.25 6.0 1.24-1.4 1.24 1.9 1.24 .4 1.24-1.7 1.25-.4 1.24 .5 1.24-.8 1.24-1.4 1.24 0 1.25-1.8 1.24-3.8 1.24-1.2 1.24-7.8 1.24-15.5 1.25-16.0 1.24-16.9 1.24-11.5 .03-.8 1.21 6.3 1.24 20.6 1.25 19.9 1.24 11.5 1.24 8.0 1.24 4.1 1.24 4.5 1.25 1.3 1.24 1.1 1.24 .7 1.24 1.8 1.24-1.3 1.25 .2 1.24-1.2 1.24 3.7 1.24 .4 1.24 .3 1.25-1.6 1.24 1.4 1.24 .4 1.24 1.0 1.24-1.5 1.25-.1 1.24 .3 1.24 1.7 1.24-2.9 1.24 0 1.25-1.0 1.24 0 1.24 .5 1.24 .9 1.24-.9 1.25 .7 1.24-1.5 1.24 2.8 1.24-2.8 1.24 2.4 1.25-1.8 1.24-4.4 1.24 1.1 .03-.2 1.21-2.1 1.24 3.8 1.25-.4 1.24 1.4 1.24-.8 1.24 .3 1.24 1.5 1.25-.3 1.24-.4 1.24 .8 1.24-.5 1.24 .8 1.25-2.4 1.24 4.3 1.24-1.8 1.24 .8 1.24 0 1.25-3.0 1.24 3.0 1.24-5.0 1.24-.3 1.24-1.5 1.25-1.7 1.24-3.9 1.24-4.2 1.24 0 .03-2.9 1.21 3.3 1.25 2.0 1.24 3.6 1.24-.2 1.24 1.1 1.24-.3 1.25 .1 1.24-.5 1.24 0 1.24-2.8 1.24 .6 1.25-2.5 1.24 1.9 1.24 1.1 1.24 .2 1.24 2.9 1.25 2.0 1.24 2.2 1.24 1.0 1.24 1.0 1.24-.8 1.25 .6 1.24 3.0 1.24-.3 1.24 .2 1.24 1.0 1.25-2.1 1.24 .8 1.24 1.2 1.24-1.8 1.24 1.2 1.25-.5 1.24-.7 1.24 1.0 1.24-1.6 1.24 1.0 1.25-.3 1.24 .9 1.24-.1 1.24 .1 1.24-.9 1.25 .4 1.24-1.3 1.24-2.6 1.24 1.5 1.24-.9 1.25-3.3 1.24-2.6 1.24-2.9 1.24-5.5 1.24-2.2 .04-.3 1.21 2.2 1.24 4.0 1.24 5.5 1.24 1.7 1.24 2.7 1.25 2.2 1.24 .9 1.24 2.0 1.24-1.0 1.24 3.5 1.25-4.2 1.24 1.5 1.24 .9 1.24-2.0 1.24 .5 1.25-.6 1.24-3.1 1.24 3.2 1.24 .4 1.24 1.4 1.25 .5 1.24-.9 1.24 1.2 1.24-.4 1.24 .6 1.25-.7 1.24 .7 1.24-1.8 1.24-.3 1.24 1.2 1.25-1.5 1.24-2.3 1.24 .1 1.24 2.4 1.24 0 1.25-.5 1.24-2.4 1.24-.8 1.24 .3 1.24-.5 1.25-.2 1.24-.8 1.24-.2 1.24-1.1 1.24 .2 1.25 0 1.24-1.9 1.24-1.0 1.24 3.2 1.24-.4 1.25 1.9 1.24 .4 1.24-1.2 1.24 2.6 1.24-.5 1.25-.7 1.24 2.5 1.24-1.1 1.24 1.1 1.24 .9 1.25 1.8 1.24-3.6 1.24 1.1 1.24 1.9 1.24-1.7 1.25-2.8 1.24 2.6 1.24-.9 1.24-.4 1.24-.5 1.25-2.2 1.24 1.1 1.24-1.1 1.24-1.5 1.24 .8 1.25-2.4 1.24-4.0 1.24-.8 1.24-3.5 1.24-3.2 1.25-6.3 1.24 .4 1.24-1.8 1.24-2.3 1.24-.2 1.25-7.0 1.24-3.8 1.24-8.2 1.24-4.1 .04 2.0 1.2 3.6 1.25 10.7 1.24 9.0 1.24 10.1 1.24 7.5 1.24 2.8 1.25-.3 1.24 4.6 1.24 .5 1.24 .1 1.24-.5 1.25-1.5 1.24 1.2 1.24 1.2 1.24 2.0 1.24 1.2 1.25-.4 1.24-1.6 1.24 1.0 1.24-.9 1.24 2.5 1.25-2.0 1.24 1.0 1.24 .1 1.24-1.8 1.24 1.4 1.25-1.2 1.24-1.5 1.24-.6 1.24 1.5 1.24 1.3 1.25-2.2 1.24 1.8 1.24-2.0 1.24-2.5 1.24-.5 .04 .9 1.21 .2 1.24 2.2 1.24-.1 1.24 3.8 1.24-.3 1.25-1.1 1.24-1.0 1.24 1.7 1.24-.5 1.24 .5 1.25-.5 1.24 1.3 1.24-2.3 1.24 2.6 1.24 .2 1.25 .8 1.24 2.0 1.24-2.2 1.24-.7 1.24-.8 1.25 .5 1.24 .4 1.24-.1 1.24-.8 1.24 3.0 1.25-1.6 1.24 0 1.24 .8 1.24-1.2 1.24-2.5 1.25 3.5 1.24-1.1 1.24 1.1 1.24 .8 1.24-3.4 1.25 .4 1.24 1.1 1.24 .5 1.24-1.2 1.24-.4 1.25 1.4 1.24-2.0 1.24 .8 1.24 1.3 1.24-1.5 1.25 1.2 1.24-.9 1.24-1.8 1.24 .9 1.24-.5 1.25-.3 1.24 .8 1.24 .7 1.24 1.2 1.24-.2 1.25-1.0 1.24-.3 1.24-.4 1.24-.3 1.24 2.3 1.25-2.6 1.24 2.8 1.24-.8 1.24 1.2 1.24 1.3 1.25-1.4 1.24 1.0 1.24-3.1 1.24 .9 1.24-1.1 1.25 .5 1.24 .3 1.24-.2 1.24-.1 1.24 1.7 1.25-.3 1.24-.5 1.24-.3 1.24-.7 1.24-1.6 1.25 .8 1.24 2.1 1.24-2.1 1.24 3.3 1.24-2.2 1.25-1.2 1.24 .5 1.24 .8 1.24 .4 1.24 .4 1.25 .9 1.24-.5 1.24-3.2 1.24 2.5 1.24-1.1 1.25-.1 1.24 .2 1.24 1.3 1.24-1.2 1.24 .9 1.25 2.8 1.24-.6 1.24-.7 1.24 1.8 1.24-1.8 1.25-1.6 1.24-.2 1.24 .2 1.24 0 1.24 .8 1.25-.5 1.24-.7 1.24-.5 1.24 2.2 1.24-1.3 1.25-1.4 1.24-.9 1.24 1.2 1.24 .6 1.24 1.1 1.25-1.8 1.24 3.3 1.24-3.9 1.24 1.1 1.24 1.4 1.25-.3 1.24-2.4 1.24 1.9 1.24 .1 1.24-.6 1.25-1.6 1.24 2.4 1.24-2.2 1.24 2.2 1.24-.8 1.25 1.5 1.24-.6 1.24 .2 1.24-1.1 1.24 .8 1.25 1.4 1.24-1.2 1.24 .6 1.24 0 1.24-1.5 1.25-.2 1.24-.4 1.24 .3 1.24 2.1 1.24 .1 1.25-1.8 1.24 .2 1.24-1.1 1.24-1.4 1.24 3.9 1.25-1.1 1.24-1.7 1.24 2.3 1.24 2.1 1.24-1.5 1.25-.5 1.24-.7 1.24-.8 1.24-.1 1.24 .3 1.25 .9 1.24-.2 1.24 .7 1.24 1.6 1.24-1.8 1.25-.1 1.24-2.5 1.24-2.0 1.24 2.9 1.24-3.0 1.25 .1 1.24-3.8 1.24-3.7 1.24-1.6 1.24-8.1 1.25-3.9 1.24-3.1 .05 2.6 1.19 1.6 1.24 6.9 1.24 2.9 1.25 6.5 1.24 .3 1.24 3.5 1.24-.5 1.24 .3 1.25 1.5 1.24-1.6 1.24 1.4 1.24 .4 1.24-1.8 1.25-.2 1.24 .3 1.24-1.3 1.24 1.5 1.24-1.9 1.25-.7 1.24 .4 1.24 .2 1.24 .9 1.24 1.0 1.25 1.9 1.24 .6 1.24-.4 1.24-.3 1.24-.8 1.25 1.1 1.24-.9 1.24 2.0 1.24-.1 1.24 2.4 1.25-4.8 1.24 1.3 1.24 .7 1.24-.7 1.24 2.1 1.25-.7 1.24-1.5 1.24-.7 1.24 2.5 1.24 0 1.25 1.3 1.24-1.0 1.24 .6 1.24-1.0 1.24 2.2 1.25-1.7 1.24 .7 1.24-1.2 1.24-.7 1.24 .1 1.25 1.1 1.24 .2 1.24-1.2 1.24 2.6 1.24-1.8 1.25 .4 1.24-1.0 1.24-.8 1.24 2.7 1.24-.3 1.25 .5 1.24-2.3 1.24 .3 1.24 .4 1.24 1.4 1.25-2.3 1.24 2.1 1.24 .9 1.24-1.9 1.24-.4 1.25 1.8 1.24-1.7 1.24 1.6 1.24-.7 1.24 .7 1.25-.6 1.24-2.7 1.24 3.4 1.24-1.1 1.24 .4 1.25-.6 1.24 1.5 1.24-2.1 1.24 1.1 1.24-.8 1.25-.9 1.24 1.0 1.24 1.3 1.24 .9 1.24 3.1 1.25-2.6 1.24-1.4 1.24 .3 1.24-.1 1.24-.7 1.25-.6 1.24-.2 1.24-1.8 1.24 2.5 1.24 .7 1.25-1.3 1.24-1.2 1.24 3.7 1.24-.1 1.24-4.9 1.25 3.4 1.24-.5 1.24-.1 1.24 2.5 1.24-1.0 1.25-2.1 1.24 .9 1.24 1.3 1.24-2.7 1.24 1.9 1.25-2.1 1.24 1.6 1.24-.8 1.24-1.3 1.24 1.9 1.25-.3 1.24 1.6 1.24-2.2 1.24 .2 1.24-.7 1.25 1.5 1.24-2.6 1.24 0 1.24 .6 1.24-.8 1.25-.9 1.24 .2 1.24-.5 1.24 .8 1.24-.6 1.25-1.8 1.24 3.6 1.24-2.9 1.24 3.5 1.24-1.8 1.25 3.9 1.24-1.0 1.24-.2 1.24 1.6 1.24-2.0 1.25 1.2 1.24-1.0 1.24 .8 1.24-2.5 1.24 .6 1.25 3.0 1.24-.7 1.24 .1 1.24-.1 1.24 .4 1.25 .5 1.24-.3 1.24 .2 1.24-.4 1.24-1.0 1.25-.5 1.24-.8 1.24 .7 1.24-1.9 1.24 .7 1.25 .6 1.24 2.5 1.24-.7 1.24 .9 1.24-1.1 1.25-.1 1.24 .9 1.24-1.3 1.24-.8 1.24 .2 1.25 1.3 1.24-1.1 1.24 1.1 1.24-1.1 1.24 3.7 1.25-2.0 1.24-1.7 1.24 .8 1.24-.6 1.24 .2 1.25-.9 1.24 .2 1.24 .4 1.24 .4 1.24-2.2 1.25 3.1 1.24 .6 1.24-1.4 1.24-.4 1.24 .7 1.25-.3 1.24 1.7 1.24-1.3 1.24 1.3 1.24-1.5 1.25-1.5 1.24-.2 1.24-.2 1.24 1.2 1.24 1.3 1.25-.3 1.24 .3 1.24-2.3 1.24 3.7 1.24-4.1 1.25 2.5 1.24 1.4 1.24-3.2 1.24 1.5 1.24-.5 1.25-3.2 1.24 .5 1.24-.2 1.24 .9 1.24 .7 1.25-2.2 1.24 1.0 1.24-2.0 1.24-.7 1.24 2.3 1.25-.3 1.24-.3 1.24 3.3 1.24-1.3 1.24 .9 1.25 1.3 1.24-1.7 1.24 1.5 1.24 1.1 1.24-.1 1.25 .3 1.24 .2 1.24-.2 1.24 1.1 1.24 .9 1.25-1.2 1.24-1.2 1.24-.2 1.24 0 1.24-2.2 1.25 1.5 1.24 2.5 1.24-2.0 1.24-.2 1.24 .9 1.25-1.8 1.24 2.5 1.24-.6 1.24 .5 1.24 2.4 1.25-1.5 1.24-3.5 1.24 .5 1.24-.1 1.24 1.1 1.25-.8 1.24 2.1 1.24 1.4 1.24-.7 1.24-2.6 1.25 .8 1.24 0 1.24-.3 1.24 2.5 1.24-2.7 1.25-.7 1.24 .6 1.24-.2 1.24 2.0 1.24 .2 1.25-.9 1.24-1.4 1.24 1.9 1.24 0 1.24 1.0 1.25-4.2 1.24 1.0 1.24 3.2 1.24 0 1.24 .1 1.25-1.4 1.24 1.1 1.24-3.0 1.24-.6 1.24 .5 1.25-.1 1.24 1.6 1.24-.1 1.24-3.2 1.24 1.5 1.25 .4 1.24-1.6 1.24 1.9 1.24 .6 1.24 .3 1.25-1.1 1.24 0 1.24-.3 1.24 2.5 1.24-1.7 1.25-.5 1.24 1.0 1.24-1.9 1.24 1.0 1.24 2.2 1.25 .2 1.24-.6 1.24-3.2 1.24 2.9 1.24-1.9 1.25-.8 1.24 2.5 1.24 1.2 1.24-1.9 1.24-.3 1.25-.2 1.24-1.3 1.24-2.3 1.24-.1 1.24-.2 1.25-1.9 1.24 1.1 1.24 1.3 1.24-.5 1.24 2.2 1.25 1.5 1.24-1.1 1.24 .7 1.24 0 1.24-.4 1.25 1.1 1.24-1.1 1.24 1.4 1.24 .3 1.24 .3 1.25-.8 1.24 2.1 1.24-.2 1.24-2.0 1.24 1.2 1.25-.8 1.24-.1 1.24 .2 1.24 0 1.24-1.9 1.25 3.0 1.24-.5 1.24 .8 1.24 1.2 1.24-.8 1.25-1.0 1.24 1.0 1.24-.1 1.24-1.1 1.24 .7 1.25 1.2 1.24 1.1 1.24-2.6 1.24 1.0 1.24-1.4 1.25 .8 1.24 .8 1.24-2.0 1.24 .9 1.24 .1 1.25-3.1 1.24 2.6 1.24 .1 1.24 .1 1.24 .4 1.25-1.9 1.24 .6 1.24 .6 1.24-.6 1.24 1.0 1.25 1.7 1.24-1.9 1.24 .5 1.24 2.2 1.24-1.8 1.25-1.9 1.24 .7 1.24 .1 1.24-.4 1.24-1.3 1.25 2.7 1.24 .3 1.24 1.4 1.24-1.4 1.24-1.5 1.25 .7 1.24 .6 1.24-.2 1.24 .1 1.24 .3 1.25-.6 1.24-.9 1.24-1.5 1.24 2.5 1.24-1.7 1.25 3.2 1.24-1.5 1.24 1.5 1.24 .6 1.24-2.4 1.25 2.3 1.24-1.2 1.24 .2 1.24-1.8 1.24-.4 1.25 1.9 1.24 0 1.24-.1 1.24-.1 1.24 1.5 1.25-2.3 1.24-.6 1.24-.9 1.24 2.1 1.24-.2 1.25-.2 1.24-.4 1.24-1.6 1.24 2.4 1.24 0 1.25-1.9 1.24-.3 1.24 1.0 1.24-1.7 1.24 1.7 1.25 .4 1.24 .3 1.24 2.2 1.24 .1 1.24-1.3 1.25-.5 1.24 .7 1.24 .9 1.24-2.1 1.24 .6 1.25 .2 1.24-1.9 1.24 .4 1.24 2.9 1.24-2.8 1.25 2.0 1.24-2.4 1.24 .7 1.24 .1 1.24 .8 1.25-1.5 1.24 2.7 1.24-1.3 1.24 1.4 1.24-.7 1.25-1.2 1.24-.1 1.24 .7 1.24 1.1 1.24-.8 1.25-.4 1.24-.5 1.24-.6 1.24 2.6 1.24-1.9 1.25 2.8 1.24-.6 1.24-2.0 1.24 0 1.24 1.3 1.25-1.6 1.24 .7 1.24 1.0 1.24-.5 1.24-.5 1.25-.9 1.24 1.2 1.24-1.1 1.24 2.0 1.24 .8 1.25-2.1 1.24 .3 1.24 1.5 1.24-2.2 1.24 1.2 1.25-.3 1.24-1.4 1.24 .9 1.24-.3 1.24 .1 1.25 2.0 1.24-1.8 1.24 2.6 1.24-1.5 1.24-1.3 1.25 1.8 1.24-1.5 1.24 .9 1.24-.2 1.24-2.0 1.25 1.3 1.24 1.0 1.24-.3 1.24-1.1 1.24 1.5 1.25-.3 1.24-3.6 1.24 3.2 1.24-3.8 1.24 1.9 1.25-.4 1.24-.4 1.24 1.9 1.24-.5 1.24 1.4 1.25 1.8 1.24-1.5 1.24 .8"/>
<path stroke="#555555" stroke-width="3.8" d="M130.00 1561.3l 1.24-.2 1.24 .9 1.25 .8 1.24 2.0 1.24-.8 1.24-.4 1.24-.8 1.25 1.0 1.24 .9 1.24-.9 1.24 .7 1.24 .6 1.25 2.0 1.24-1.0 1.24-2.1 1.24 1.5 1.24-.5 1.25 1.5 1.24 .7 1.24-.8 1.24 1.1 1.24-1.5 1.25-.7 1.24 1.9 1.24 1.4 1.24-1.7 1.24 1.1 1.25-.6 1.24 .4 1.24-1.2 1.24 1.4 1.24 .4 1.25 .5 1.24 .3 1.24 .5 1.24-.5 1.24-.7 1.25 1.5 1.24-1.0 1.24 1.9 1.24-.1 1.24-2.1 1.25 2.3 1.24-1.4 1.24 1.6 1.24-.3 1.24-2.0 1.25 1.6 1.24 .1 1.24 .8 1.24-1.8 1.24 1.9 1.25-1.8 1.24 1.0 1.24 .4 1.24 1.5 1.24-.6 1.25 1.7 1.24-2.0 1.24 .2 1.24 .3 1.24-1.9 1.25 .4 1.24 2.1 1.24-2.1 1.24 .8 1.24-.8 1.25 .3 1.24-1.2 1.24-.4 1.24-.1 1.24 0 1.25-.5 1.24 2.3 1.24-1.5 1.24-.4 1.24-.6 1.25 1.5 1.24-2.2 1.24-1.9 1.24-2.1 1.24-.9 1.25-5.7 1.24-8.1 1.24-11.5 1.24-22.8 1.24-23.0 1.25-17.1 .5-3.5 .74 4.1 1.24 21.4 1.24 21.9 1.24 19.9 1.25 13.1 1.24 8.3 1.24 4.2 1.24 3.0 1.24 .6 1.25 .7 1.24 0 1.24-.3 1.24 1.2 1.24 0 1.25 .5 1.24 2.0 1.24-1.6 1.24-1.8 1.24 3.4 1.25-1.2 1.24-1.0 1.24 2.3 1.24-.7 1.24-.7 1.25-.2 1.24-1.0 1.24 1.3 1.24 1.2 1.24-1.3 1.25 .1 1.24 1.8 1.24-2.3 1.24 1.7 1.24 .5 1.25-1.3 1.24 .6 1.24 .1 1.24 .7 1.24-.9 1.25-.5 1.24 1.0 1.24-1.1 1.24 .5 1.24-.9 1.25 .6 1.24 1.9 1.24-1.7 1.24-.7 1.24-.2 1.25-1.5 1.24 .4 1.24 2.5 1.24-.1 1.24 .5 1.25-1.6 1.24-2.0 1.24 2.9 1.24-.4 1.24-1.0 1.25 2.3 1.24-1.0 1.24-1.4 1.24 1.1 1.24-.2 1.25 1.9 1.24-2.9 1.24 .4 1.24 .1 1.24-.7 1.25-.1 1.24 .9 1.24 1.0 1.24-.7 1.24-1.4 1.25 0 1.24 .5 1.24-.4 1.24-.6 1.24-1.6 1.25 3.6 1.24-1.4 1.24-2.4 1.24 1.4 1.24 .6 1.25-3.4 1.24 1.5 1.24-.3 1.24 0 1.24-.2 1.25-.2 1.24 .3 1.24 1.6 1.24-.2 1.24-2.3 1.25-.2 1.24 3.2 1.24-3.9 1.24 1.0 1.24-.6 1.25-.5 1.24 .9 1.24-1.6 1.24-1.0 1.24 1.7 1.25-.6 1.24 1.0 1.24-2.0 1.24-1.9 1.24-.5 1.25 1.9 1.24-1.3 1.24-1.1 1.24 1.7 1.24 .4 1.25 .8 1.24-2.9 1.24 1.3 1.24 .4 1.24-2.2 1.25 .5 1.24 1.6 1.24-.8 1.24-1.1 1.24-.3 1.25-.1 1.24-1.1 1.24 .9 1.24-1.0 1.24 1.3 1.25-.6 1.24 1.6 1.24-2.8 1.24 .7 1.24 .6 1.25-.8 1.24 1.1 1.24-2.6 1.24 1.8 1.24 .1 1.25-3.1 1.24 .2 1.24 1.7 1.24-1.8 1.24-.7 1.25 .4 1.24-.1 1.24 1.4 1.24 .4 1.24 .3 1.25-.2 1.24 .2 1.24 .7 1.24-1.4 1.24-.1 1.25-.9 1.24-2.0 1.24 .1 1.24 1.9 1.24-.3 1.25-.2 1.24-.5 1.24 .9 1.24-.1 1.24-1.1 1.25-.2 1.24 .4 1.24-.5 1.24 1.8 1.24-.2 1.25 .5 1.24 .1 1.24-1.7 1.24 .3 1.24-.1 1.25-1.2 1.24-.1 1.24-.2 1.24-1.9 1.24-1.0 1.25 3.6 1.24-1.0 1.24 1.1 1.24-2.3 1.24 2.0 1.25-.7 1.24-1.4 1.24-1.2 1.24-1.6 1.24-3.5 1.25-4.8 1.24-5.5 1.24-.5 .01-.9 1.23 1.8 1.24 4.2 1.25 1.0 1.24 3.6 1.24-1.9 1.24-3.5 1.24-4.0 1.25-3.8 .01 2.7 1.23 2.0 1.24 5.2 1.24 4.5 1.24 3.5 1.25 1.1 1.24-.9 1.24-.6 1.24 .8 1.24-2.9 1.25-.5 1.24-4.0 1.24-1.8 .02-1.0 1.22 1.6 1.24 2.9 1.25 .3 1.24 3.2 1.24 1.8 1.24-2.7 1.24-1.8 1.25-2.9 1.24-2.7 1.24-1.1 .02-.4 1.22 1.1 1.24 3.8 1.25 .8 1.24 3.9 1.24 3.9 1.24-.2 1.24-1.3 1.25 .4 1.24 .2 1.24-2.1 1.24-1.0 1.24-4.0 1.25-.6 1.24-1.1 .01-.5 1.23 .6 1.24 2.6 1.24 2.4 1.25 3.6 1.24 .1 1.24 2.2 1.24 1.4 1.24-1.3 1.25 1.0 1.24-.8 1.24 1.9 1.24-.3 1.24-1.7 1.25 2.4 1.24-.4 1.24-.8 1.24 1.2 1.24-.6 1.25 0 1.24 1.8 1.24 .8 1.24-.5 1.24-.7 1.25-.1 1.24-.9 1.24-.6 1.24-.4 1.24-2.0 1.25-2.2 1.24-3.1 1.24-3.2 1.24-2.2 .02 0 1.22 2.1 1.25 2.3 1.24 4.0 1.24 .9 1.24 2.4 1.24 4.3 1.25 .9 1.24 1.0 1.24-.5 1.24 .1 1.24 .4 1.25-.4 1.24 2.5 1.24-.7 1.24 1.0 1.24 .6 1.25 .8 1.24 .7 1.24-1.1 1.24 .1 1.24-.7 1.25-.1 1.24 2.4 1.24-2.2 1.24 1.9 1.24 .6 1.25 0 1.24-.7 1.24-2.0 1.24 1.5 1.24 .1 1.25-.7 1.24 .8 1.24-1.4 1.24 1.4 1.24-2.4 1.25 2.2 1.24-2.1 1.24-3.3 1.24 .8 1.24-3.2 1.25-2.1 .02 .4 1.22 1.5 1.24 2.0 1.24 3.3 1.24 2.3 1.25 .6 1.24 1.0 1.24-.8 1.24 .5 1.24 1.0 1.25 .5 1.24-.7 1.24-.7 1.24 .9 1.24-1.9 1.25-2.5 1.24-5.0 1.24-4.4 1.24-9.5 1.24-9.1 1.25-7.3 .02 2.3 1.22 4.5 1.24 10.3 1.24 8.3 1.24 7.7 1.25 5.7 1.24 0 1.24 2.6 1.24 .5 1.24-1.5 1.25 1.1 1.24-1.9 1.24 1.5 1.24-1.6 1.24-1.6 1.25-.2 1.24-4.4 1.24-2.7 1.24-7.6 1.24-2.3 .27 1.9 .98 .2 1.24 4.2 1.24 6.0 1.24 1.8 1.24 3.8 1.25 .9 1.24 2.8 1.24 .9 1.24 .9 1.24 .6 1.25 1.6 1.24-4.4 1.24 .6 1.24 2.4 1.24-1.4 1.25 3.0 1.24-1.7 1.24-.8 1.24-.3 1.24 1.7 1.25-1.3 1.24-.7 1.24 .6 1.24-2.8 1.24 0 1.25 2.1 1.24-2.3 1.24-1.6 1.24-2.5 1.24-6.7 1.25-6.7 1.24-13.5 1.24-18.4 1.24-25.7 1.24-22.5 .77-5.0 .48 1.6 1.24 21.0 1.24 25.9 1.24 20.9 1.24 15.5 1.25 6.0 1.24 4.9 1.24 5.4 1.24 .8 1.24 2.1 1.25-.3 1.24-.2 1.24 .9 1.24 2.0 1.24 .1 1.25-.6 1.24-.3 1.24 .8 1.24 .1 1.24-2.8 1.25 3.0 1.24 .5 1.24 .7 1.24 .2 1.24-.1 1.25-1.4 1.24 .8 1.24-.1 1.24-.6 1.24 1.1 1.25 1.4 1.24-2.5 1.24 .2 1.24-.6 1.24 2.7 1.25-2.2 1.24-.2 1.24-1.0 1.24-.1 1.24-.9 1.25 2.4 1.24 .5 1.24-2.0 1.24-1.1 1.24-3.5 1.25-6.8 1.24-11.4 1.24-5.9 .03 .4 1.21 7.2 1.24 12.2 1.25 4.6 1.24 3.1 1.24 2.7 1.24-2.0 1.24-1.2 1.25-3.5 1.24-2.8 1.24-.6 1.24-2.9 1.24-1.9 .03 .6 1.22 .9 1.24 4.1 1.24 4.6 1.24 3.4 1.24-.3 1.25 .5 1.24-.2 1.24 1.5 1.24-.3 1.24-2.2 1.25-.2 1.24-1.8 1.24-1.9 1.24-4.3 1.24-2.7 1.25-5.4 1.24-12.7 1.24-16.0 1.24-19.5 1.24-5.0 .03-1.3 1.22 8.6 1.24 17.5 1.24 15.2 1.24 12.5 1.24 6.2 1.25 4.4 1.24 3.0 1.24 1.2 1.24 2.5 1.24-2.9 1.25 2.9 1.24-.1 1.24 .4 1.24-.4 1.24 1.8 1.25-.6 1.24-.4 1.24 1.7 1.24-1.0 1.24 .8 1.25 1.0 1.24 .9 1.24 0 1.24-1.5 1.24 1.5 1.25-1.3 1.24 .5 1.24-.1 1.24 .9 1.24-1.4 1.25 1.6 1.24-.8 1.24-2.1 1.24 1.3 1.24-4.1 1.25 0 1.24-2.3 1.24 0 .03-.5 1.21 1.6 1.24 1.6 1.25-.3 1.24 3.4 1.24 .6 1.24-1.8 1.24 2.1 1.25-1.8 1.24 .5 1.24 2.1 1.24-.3 1.24 .5 1.25 .1 1.24-2.8 1.24 2.3 1.24-2.0 1.24 .7 1.25-.1 1.24 .2 1.24 1.3 1.24-.9 1.24 .4 1.25-2.0 1.24-1.6 1.24-1.9 1.24-4.2 1.24 1.0 1.25-4.4 1.24-2.3 1.24 2.3 1.24 .5 1.24-.9 1.25 1.9 1.24 4.7 1.24-1.1 1.24-1.1 1.24 1.9 1.25 1.6 1.24-2.6 1.24-1.4 1.24-.5 1.24-1.9 1.25-1.8 1.24-.5 1.24 1.2 1.24 .1 1.24 2.9 1.25 2.4 1.24 1.0 1.24 1.7 1.24 1.5 1.24 1.9 1.25 .5 1.24-1.6 1.24 1.8 1.24 1.7 1.24 .3 1.25-1.4 1.24 .2 1.24-1.1 1.24 .6 1.24 1.8 1.25-2.0 1.24-.5 1.24 .2 1.24 .8 1.24 .9 1.25 0 1.24-.4 1.24 1.0 1.24 .1 1.24-3.6 1.25-.7 1.24 1.4 1.24-4.4 1.24-1.1 1.24-3.8 1.25-5.7 1.24-5.6 1.24-3.9 .03 .3 1.21 1.0 1.24 5.0 1.25 5.7 1.24 8.0 1.24 0 1.24 3.8 1.24 1.3 1.25-.1 1.24-.5 1.24-.1 1.24 0 1.24 .5 1.25 .3 1.24 2.5 1.24-.9 1.24 1.5 1.24-1.3 1.25-.5 1.24 1.0 1.24 1.8 1.24-2.4 1.24 .9 1.25-.1 1.24 1.0 1.24 .7 1.24-1.4 1.24-1.3 1.25 .1 1.24 .6 1.24 0 1.24-.1 1.24-2.1 1.25 1.8 1.24-.7 1.24-1.0 1.24 2.3 1.24-.4 1.25-1.2 1.24-.9 1.24-.3 1.24-2.9 1.24-.7 1.25-1.4 1.24-2.4 1.24-.7 1.24 .4 .04-1.5 1.2 .2 1.25 3.2 1.24 1.0 1.24 2.2 1.24 1.9 1.24 2.2 1.25-.5 1.24-.9 1.24 1.4 1.24 .4 1.24 .3 1.25 1.1 1.24-.9 1.24-1.3 1.24 .9 1.24-.5 1.25 0 1.24 .8 1.24-1.6 1.24 1.8 1.24-2.0 1.25-1.2 1.24-.3 1.24-.3 1.24 .9 1.24-1.2 1.25-.5 1.24-3.7 1.24 1.1 1.24-2.0 1.24-2.5 1.25-3.7 1.24-2.7 1.24-5.2 1.24-3.1 1.24-1.5 1.25 .4 1.24-.2 1.24-1.1 1.24-1.0 1.24-6.4 1.25-10.6 1.24-11.1 1.24-3.3 .04-.2 1.2 6.6 1.24 12.2 1.25 12.3 1.24 10.4 1.24 6.0 1.24 3.8 1.24 4.4 1.25 .3 1.24 1.7 1.24 1.7 1.24-.8 1.24-.2 1.25 2.7 1.24 .3 1.24 .4 1.24 .4 1.24-.3 1.25-.8 1.24-.4 1.24-.9 1.24 1.9 1.24-.8 1.25-.1 1.24 .8 1.24 1.7 1.24-2.3 1.24 1.8 1.25-.1 1.24 .9 1.24-2.9 1.24 1.0 1.24-2.3 1.25-2.8 1.24-1.9 1.24-.8 1.24 0 .04 .2 1.2 2.4 1.25-.7 1.24 3.5 1.24-.2 1.24 1.8 1.24-.3 1.25-.8 1.24 .5 1.24 .6 1.24 1.2 1.24 2.7 1.25-1.0 1.24-2.4 1.24-.1 1.24 0 1.24 0 1.25 .7 1.24 .7 1.24-1.0 1.24-1.2 1.24-.8 1.25 1.9 1.24-1.2 1.24 1.8 1.24 .1 1.24-1.0 1.25 0 1.24-.7 1.24 2.8 1.24-1.5 1.24-1.3 1.25 2.3 1.24-1.1 1.24-1.2 1.24 .2 1.24 0 1.25-.6 1.24-1.4 1.24-3.1 1.24-.1 .04-1.5 1.2 .6 1.25 1.9 1.24 1.2 1.24 1.9 1.24 3.9 1.24-1.1 1.25-.2 1.24-.6 1.24 1.7 1.24-.3 1.24-.6 1.25 2.5 1.24-2.2 1.24 .9 1.24 2.0 1.24-3.1 1.25 .1 1.24 .1 1.24 .4 1.24 .2 1.24 1.7 1.25 1.9 1.24-1.7 1.24-.8 1.24-1.1 1.24 .3 1.25 .2 1.24 .3 1.24 .5 1.24 .8 1.24-.3 1.25 1.5 1.24-.2 1.24-.3 1.24-2.4 1.24 3.0 1.25-2.4 1.24 .4 1.24 .9 1.24-2.2 1.24 1.7 1.25-1.2 1.24-.3 1.24 1.4 1.24-.4 1.24 2.1 1.25 .6 1.24-.3 1.24-.5 1.24 .4 1.24 .8 1.25-2.6 1.24-.7 1.24 1.1 1.24-.7 1.24 .2 1.25-.5 1.24-1.6 1.24 2.8 1.24-1.9 1.24-.5 1.25 .6 1.24 .3 1.24 2.6 1.24-.8 1.24-2.2 1.25 3.0 1.24-.4 1.24-1.9 1.24-1.6 1.24 2.9 1.25-1.8 1.24 0 1.24 .2 1.24 1.2 1.24 .5 1.25-.5 1.24-1.3 1.24 1.1 1.24 0 1.24-1.7 1.25 3.2 1.24-1.1 1.24 1.0 1.24-.7 1.24-.5 1.25-.2 1.24 1.4 1.24-1.9 1.24 .3 1.24 .9 1.25-1.2 1.24 .7 1.24-2.2 1.24 .3 1.24 .5 1.25 0 1.24-.3 1.24 1.0 1.24 .5 1.24-2.1 1.25 2.3 1.24-.2 1.24-1.1 1.24-.9 1.24 .4 1.25 2.0 1.24 .4 1.24 1.5 1.24-.4 1.24-2.7 1.25 .2 1.24 1.6 1.24-1.8 1.24 0 1.24 0 1.25 .9 1.24-.1 1.24 1.2 1.24-2.0 1.24 .5 1.25-1.1 1.24 1.1 1.24 .5 1.24-1.0 1.24-2.0 1.25 3.9 1.24-1.5 1.24-.5 1.24 .1 1.24-.4 1.25 1.5 1.24-1.3 1.24 .2 1.24-1.7 1.24-2.6 1.25 .7 1.24-5.4 1.24-3.7 1.24-6.8 1.24-2.9 1.25-.9 .04 .2 1.2 2.8 1.24 4.8 1.24 4.8 1.24 5.0 1.25 .4 1.24 1.0 1.24 2.0 1.24-1.4 1.24 1.0 1.25 2.9 1.24-1.3 1.24 1.5 1.24-.9 1.24-.1 1.25 2.1 1.24-.5 1.24 1.4 1.24-2.1 1.24 .6 1.25 .6 1.24-.3 1.24-.1 1.24-.4 1.24-.6 1.25-.9 1.24 1.4 1.24 .1 1.24 .3 1.24 .6 1.25-1.1 1.24-1.8 1.24 .3 1.24 .5 1.24 .2 1.25 1.4 1.24-1.4 1.24 .2 1.24-.9 1.24 .4 1.25 2.0 1.24-1.3 1.24-.9 1.24-.2 1.24 1.0 1.25-1.6 1.24 1.8 1.24 1.6 1.24 1.9 1.24-2.0 1.25 1.3 1.24-2.4 1.24 1.9 1.24 .2 1.24-2.7 1.25-.8 1.24 1.0 1.24 .5 1.24 .5 1.24-.4 1.25 .4 1.24 .4 1.24-1.6 1.24 1.1 1.24-.6 1.25 .5 1.24-1.4 1.24 1.9 1.24-.2 1.24 2.4 1.25-2.0 1.24-.2 1.24-.5 1.24 .2 1.24 2.0 1.25-2.6 1.24-.5 1.24 1.1 1.24 .2 1.24-2.1 1.25 1.6 1.24-.1 1.24-.4 1.24 0 1.24-.2 1.25 .2 1.24-.4 1.24 1.9 1.24-.1 1.24-1.4 1.25 .7 1.24-1.2 1.24 2.4 1.24 1.0 1.24 0 1.25-.5 1.24 .7 1.24-1.1 1.24-.7 1.24 2.3 1.25-3.8 1.24 .5 1.24 .6 1.24 .3 1.24-.1 1.25 .7 1.24-.9 1.24-.4 1.24 .9 1.24-.7 1.25 .5 1.24-.3 1.24-.7 1.24 1.4 1.24 .8 1.25-1.3 1.24 .4 1.24-1.3 1.24 .6 1.24-1.5 1.25 2.6 1.24-.2 1.24 1.1 1.24-.9 1.24-1.1 1.25-.4 1.24-1.4 1.24-1.9 1.24 .5 1.24-.5 1.25 .3 1.24-3.7 1.24-1.5 1.24 0 1.24-2.5 .06 1.0 1.19-.1 1.24 .8 1.24 2.3 1.24 2.1 1.24 .5 1.25 1.6 1.24 2.9 1.24-.5 1.24 1.5 1.24-.3 1.25 .8 1.24-.3 1.24-.6 1.24-1.5 1.24 1.2 1.25-1.1 1.24-.2 1.24 2.7 1.24-1.6 1.24-.1 1.25-1.3 1.24 1.9 1.24 1.2 1.24-2.6 1.24 1.1 1.25-1.3 1.24-.1 1.24-.1 1.24 0 1.24 1.4 1.25-.9 1.24 2.8 1.24-1.3 1.24-1.0 1.24 .4 1.25-.4 1.24 .2 1.24-.3 1.24-.7 1.24 .4 1.25-1.2 1.24 .7 1.24 .6 1.24 .9 1.24-.3 1.25 1.0 1.24-2.2 1.24-.5 1.24 1.1 1.24 1.4 1.25 1.5 1.24-.4 1.24-1.4 1.24 .4 1.24 .8 1.25-.7 1.24 .3 1.24-1.0 1.24 1.6 1.24 .6 1.25-.8 1.24-1.0 1.24-1.8 1.24-.5 1.24 2.1 1.25 1.1 1.24-3.6 1.24 2.6 1.24 1.0 1.24-1.1 1.25-.5 1.24 .4 1.24-.1 1.24 .1 1.24 1.1 1.25 .3 1.24-1.3 1.24-.9 1.24-.7 1.24 0 1.25 3.0 1.24 1.3 1.24-.8 1.24 .3 1.24-1.6 1.25-.1 1.24 .3 1.24-1.1 1.24-.7 1.24-1.6 1.25 .3 1.24 .4 1.24-1.6 1.24 .6 1.24-.7 1.25 .9 1.24 .7 1.24-.2 1.24-.8 1.24-1.1 1.25 .4 1.24 2.0 1.24-.5 1.24-.4 1.24 .3 1.25 .4 1.24 .1 1.24 1.2 1.24-1.4 1.24 1.5 1.25-.4 1.24 .9 1.24 .1 1.24 2.0 1.24-.3 1.25-1.5 1.24 0 1.24-1.3 1.24 2.0 1.24-1.5 1.25-.3 1.24-.6 1.24-.6 1.24 .9 1.24 .4 1.25 .8 1.24-.6 1.24 1.2 1.24 .2 1.24 .3 1.25-1.2 1.24 1.6 1.24-.8 1.24 .2 1.24-2.4 1.25 .4 1.24-.7 1.24 .3 1.24-.5 1.24 .8 1.25-.4 1.24 1.9 1.24-.3 1.24 1.2 1.24-1.2 1.25-.1 1.24 .7 1.24 0 1.24-1.4 1.24-.4 1.25 1.6 1.24-.1 1.24-1.1 1.24 .6 1.24 .3 1.25 1.0 1.24-1.0 1.24-.1 1.24 .4 1.24 1.7 1.25-2.4 1.24 1.6 1.24 .8 1.24-2.9 1.24-.5 1.25 1.2 1.24 1.2 1.24 .3 1.24-2.6 1.24 .4 1.25 1.5 1.24 .1 1.24 .7 1.24-.3 1.24 .9 1.25-1.8 1.24-.2 1.24 .3 1.24 1.4 1.24-2.1 1.25 1.6 1.24-.8 1.24-.7 1.24 2.1 1.24-.6 1.25 .4 1.24-1.6 1.24 .9 1.24-.1 1.24-.4 1.25-.7 1.24 1.6 1.24-2.2 1.24 3.3 1.24-1.9 1.25 1.0 1.24-1.2 1.24-.5 1.24 .9 1.24-1.8 1.25-.1 1.24 1.7 1.24 1.1 1.24-2.9 1.24 1.9 1.25 .3 1.24-3.7 1.24 1.6 1.24 .6 1.24-1.7 1.25 .6 1.24 .3 1.24 .8 1.24 .5 1.24 .1 1.25 .2 1.24 1.1 1.24-.4 1.24-.6 1.24 1.5 1.25-1.6 1.24 2.0 1.24-.8 1.24-.5 1.24-.1 1.25-.9 1.24 2.0 1.24-1.7 1.24 .1 1.24 1.9 1.25-.7 1.24-2.6 1.24 1.5 1.24-.6 1.24-.5 1.25 1.0 1.24-.3 1.24 .5 1.24-2.0 1.24-.3 1.25 .5 1.24 1.6 1.24 1.1 1.24-1.3 1.24 .4 1.25 .8 1.24-.8 1.24 1.4 1.24-1.7 1.24-1.0 1.25 .8 1.24-.3 1.24-.5 1.24 .4 1.24 .3 1.25 .4 1.24 0 1.24 1.0 1.24-.4 1.24 .8 1.25-.1 1.24-2.2 1.24 .3 1.24-.3 1.24 .2 1.25-1.5 1.24 .6 1.24 1.6 1.24 2.3 1.24-2.3 1.25-.6 1.24 .5 1.24-1.1 1.24 .5 1.24 1.4 1.25-1.4 1.24 .7 1.24 .4 1.24 .7 1.24-1.5 1.25 .1 1.24 .5 1.24-.2 1.24 .2 1.24-.2 1.25 .3 1.24 .8 1.24-.7 1.24-1.8 1.24 1.8 1.25-2.9 1.24 1.3 1.24 1.7 1.24-1.4 1.24 1.9 1.25 .2 1.24-1.3 1.24-.8 1.24 1.4 1.24-1.9 1.25 1.2 1.24-.3 1.24-.7 1.24 .3 1.24 .8 1.25-1.2 1.24 1.8 1.24-.2 1.24 1.1 1.24-.7 1.25-.3 1.24 1.6 1.24 0 1.24-.8 1.24-.4 1.25-1.7 1.24 1.0 1.24 1.1 1.24-2.6 1.24 1.4 1.25 1.4 1.24-.6 1.24-.2 1.24-1.9 1.24 1.3 1.25 1.6 1.24-.3 1.24-.6 1.24-.9 1.24 1.0 1.25-1.3 1.24 .6 1.24-.5 1.24 2.7 1.24-2.0 1.25 .2 1.24-2.2 1.24 2.4 1.24-.1 1.24-1.6 1.25 .1 1.24 3.1 1.24-2.1 1.24 1.7 1.24-1.7 1.25-2.4 1.24 1.9 1.24-.2 1.24-.6 1.24-1.2 1.25-.6 1.24 .3 1.24-2.5 1.24-1.7 .07 3.5 1.17-1.7 1.25 2.4 1.24-.6 1.24 1.1 1.24 1.0 1.24-.8 1.25 3.3 1.24-2.3 1.24 1.2 1.24 .5 1.24-.4 1.25 .7 1.24-.8 1.24 .6 1.24-.3 1.24 2.0 1.25-1.1 1.24 1.1 1.24-1.8 1.24 1.2 1.24-2.6 1.25 1.9 1.24-.2 1.24 .4 1.24-1.2 1.24 1.7 1.25 1.2 1.24-3.0 1.24-1.2 1.24 .4 1.24-.5 1.25 .3 1.24-.1 1.24 1.0"/>
</g>
<path d="M130 157V1672.6M130 1658.8H1993M1993 157V1686.8" fill="none" stroke="#000" stroke-width="5.2"/>
<path d="M254.2 1658.8V1686.8M378.4 1658.8V1672.6M502.6 1658.8V1686.8M626.8 1658.8V1672.6M751.0 1658.8V1686.8M875.2 1658.8V1672.6M999.4 1658.8V1686.8M1123.6 1658.8V1672.6M1247.8 1658.8V1686.8M1372.0 1658.8V1672.6M1496.3 1658.8V1686.8M1620.5 1658.8V1672.6M1744.7 1658.8V1686.8M1868.9 1658.8V1672.6" stroke="#000" stroke-width="5.2"/>
<text transform="translate(158.60 117.7) scale(0.9819 1)" font-family="'Liberation Serif','Times New Roman',serif" font-size="71" fill="#000"><tspan font-style="italic">P</tspan><tspan font-size="49" dy="15">ave</tspan><tspan dy="-15"> : 100W, </tspan><tspan font-style="italic">D</tspan><tspan font-size="49" dy="15">e</tspan><tspan dy="-15"> : 13.6 J/cm</tspan><tspan font-size="46" dy="-21">2</tspan><tspan dy="21">, </tspan><tspan font-style="italic">R</tspan><tspan font-size="49" dy="15">po</tspan><tspan dy="-15"> : 50 %, </tspan><tspan font-style="italic">R</tspan><tspan font-size="49" dy="15">lo</tspan><tspan dy="-15"> : 50 %, Wave clean</tspan></text>
<text transform="translate(2035.53 118.2) scale(0.9740 1)" font-family="'Liberation Serif','Times New Roman',serif" font-size="73" fill="#000">Surface</text>
<text transform="translate(241.98 238.4) scale(0.9614 1)" font-family="'Liberation Serif','Times New Roman',serif" font-size="74" fill="#000">Fe</text>
<text transform="translate(241.11 322.2) scale(0.9474 1)" font-family="'Liberation Serif','Times New Roman',serif" font-size="74" fill="#f00">Pyrophyllite (Al<tspan font-size="48" dy="12.5">2</tspan><tspan dy="-12.5">Si</tspan><tspan font-size="48" dy="12.5">4</tspan><tspan dy="-12.5">O</tspan><tspan font-size="48" dy="12.5">10</tspan><tspan dy="-12.5">(OH)</tspan><tspan font-size="48" dy="12.5">2</tspan><tspan dy="-12.5">)</tspan></text>
<text transform="translate(242.51 406.0) scale(0.9453 1)" font-family="'Liberation Serif','Times New Roman',serif" font-size="74" fill="#f00">Barite (BaSO<tspan font-size="48" dy="12.5">4</tspan><tspan dy="-12.5">)</tspan></text>
<text transform="translate(1703.90 424.0) scale(0.9727 1)" font-family="'Liberation Serif','Times New Roman',serif" font-size="82" font-style="italic" fill="#000">N<tspan font-style="normal" font-size="48" dy="16.5">s</tspan><tspan font-style="normal" dy="-16.5"> = 9</tspan></text>
<text transform="translate(1703.90 687.3) scale(0.9727 1)" font-family="'Liberation Serif','Times New Roman',serif" font-size="82" font-style="italic" fill="#000">N<tspan font-style="normal" font-size="48" dy="16.5">s</tspan><tspan font-style="normal" dy="-16.5"> = 7</tspan></text>
<text transform="translate(1703.90 1007.4) scale(0.9727 1)" font-family="'Liberation Serif','Times New Roman',serif" font-size="82" font-style="italic" fill="#000">N<tspan font-style="normal" font-size="48" dy="16.5">s</tspan><tspan font-style="normal" dy="-16.5"> = 5</tspan></text>
<text transform="translate(1703.90 1282.4) scale(0.9727 1)" font-family="'Liberation Serif','Times New Roman',serif" font-size="82" font-style="italic" fill="#000">N<tspan font-style="normal" font-size="48" dy="16.5">s</tspan><tspan font-style="normal" dy="-16.5"> = 3</tspan></text>
<text transform="translate(1588.30 1540.9) scale(0.9968 1)" font-family="'Liberation Serif','Times New Roman',serif" font-size="78.5" fill="#000">un-cleaned</text>
<text transform="translate(1045.73 1832.6) scale(0.9910 1)" font-family="'Liberation Serif','Times New Roman',serif" font-size="72" fill="#000">2θ [<tspan font-size="56" dy="-11">°</tspan><tspan dx="4" dy="11">]</tspan></text>
<text transform="translate(255.01 1755.5) scale(0.9772 1)" font-family="'Liberation Serif','Times New Roman',serif" font-size="66" fill="#000" text-anchor="middle">10</text>
<text transform="translate(503.42 1755.5) scale(0.9772 1)" font-family="'Liberation Serif','Times New Roman',serif" font-size="66" fill="#000" text-anchor="middle">20</text>
<text transform="translate(751.82 1755.5) scale(0.9772 1)" font-family="'Liberation Serif','Times New Roman',serif" font-size="66" fill="#000" text-anchor="middle">30</text>
<text transform="translate(1000.24 1755.5) scale(0.9772 1)" font-family="'Liberation Serif','Times New Roman',serif" font-size="66" fill="#000" text-anchor="middle">40</text>
<text transform="translate(1248.64 1755.5) scale(0.9772 1)" font-family="'Liberation Serif','Times New Roman',serif" font-size="66" fill="#000" text-anchor="middle">50</text>
<text transform="translate(1497.06 1755.5) scale(0.9772 1)" font-family="'Liberation Serif','Times New Roman',serif" font-size="66" fill="#000" text-anchor="middle">60</text>
<text transform="translate(1745.46 1755.5) scale(0.9772 1)" font-family="'Liberation Serif','Times New Roman',serif" font-size="66" fill="#000" text-anchor="middle">70</text>
<text transform="translate(1993.88 1755.5) scale(0.9772 1)" font-family="'Liberation Serif','Times New Roman',serif" font-size="66" fill="#000" text-anchor="middle">80</text>
<text transform="translate(86.5 1137.1) rotate(-90) scale(0.943 1)" font-family="'Liberation Serif','Times New Roman',serif" font-size="83">Intensity [a.u.]</text>
<path d="M189 192.2L211.5 214.7L189 237.2L166.5 214.7Z" fill="none" stroke="#000" stroke-width="5.0" stroke-linejoin="miter"/>
<circle cx="188.8" cy="298.3" r="22.3" fill="#f00"/>
<path d="M188.8 360.8L211.8 404.7L165.8 404.7Z" fill="#f00"/>
<path d="M1110.8 330.5L1132.6 352.3L1110.8 374.1L1089.0 352.3Z" fill="none" stroke="#000" stroke-width="5.0" stroke-linejoin="miter"/>
<path d="M1107.2 592.8L1129.2 614.8L1107.2 636.8L1085.2 614.8Z" fill="none" stroke="#000" stroke-width="5.0" stroke-linejoin="miter"/>
<circle cx="233" cy="891.7" r="22.3" fill="#f00"/>
<circle cx="233" cy="1130.4" r="22.3" fill="#f00"/>
<circle cx="237.1" cy="1421.3" r="22.3" fill="#f00"/>
<path d="M643.6 944.9L667.1 990.2L620.1 990.2Z" fill="#f00"/>
<path d="M709.7 892.8L733.2 939.1L686.2 939.1Z" fill="#f00"/>
<path d="M811 909L834.5 955.4L787.5 955.4Z" fill="#f00"/>
<path d="M1058.7 942.2L1082.2 987.8L1035.2 987.8Z" fill="#f00"/>
<path d="M647.1 1193.7L670.6 1239.4L623.6 1239.4Z" fill="#f00"/>
<path d="M713.6 1133.9L737.1 1179.1L690.1 1179.1Z" fill="#f00"/>
<path d="M814.7 1165.2L838.2 1209.7L791.2 1209.7Z" fill="#f00"/>
<path d="M1068.5 1197.7L1092.0 1239.9L1045.0 1239.9Z" fill="#f00"/>
<path d="M647.1 1454.5L670.6 1499.7L623.6 1499.7Z" fill="#f00"/>
<path d="M713.6 1392L737.1 1437.1L690.1 1437.1Z" fill="#f00"/>
<path d="M814.7 1425.5L838.2 1470.7L791.2 1470.7Z" fill="#f00"/>
<path d="M1073.6 1437.1L1097.1 1482.3L1050.1 1482.3Z" fill="#f00"/>
<rect x="1995.5" y="156.5" width="302.5" height="305.3" fill="#7030a0"/>
<clipPath id="pcl0"><rect x="2003.5" y="165.7" width="286.6" height="288.2"/></clipPath>
<g clip-path="url(#pcl0)"><linearGradient id="g1" x1="0" y1="0" x2="0" y2="1"><stop offset="0" stop-color="#c2c6b6"/><stop offset="0.5" stop-color="#b0b39e"/><stop offset="1" stop-color="#7e7b60"/></linearGradient><rect x="2000.5" y="160" width="293.5" height="298" fill="url(#g1)"/><rect x="2010.6" y="185.9" width="273.4000000000001" height="248.4" fill="#b89e68" stroke="#7a6438" stroke-width="1.5"/><polygon points="2033.5,187.9 2036.5,236.8 2033.5,285.7 2036.5,334.5 2033.5,383.4 2036.5,432.3 2259.6,432.3 2262.6,383.4 2259.6,334.5 2262.6,285.7 2259.6,236.8 2262.6,187.9" fill="#d9d6cf"/><rect x="2038.5" y="188.9" width="219.0999999999999" height="242.4" fill="#dbd8d2"/><rect x="2067.4" y="309.9" width="3.8" height="1.1" fill="#d3cec6"/><rect x="2241.0" y="206.8" width="2.4" height="2.9" fill="#cfcac2"/><rect x="2174.5" y="278.6" width="3.5" height="2.3" fill="#c9c4ba"/><rect x="2069.5" y="379.3" width="4.0" height="2.0" fill="#d3cec6"/><rect x="2216.8" y="321.9" width="4.9" height="1.4" fill="#d3cec6"/><rect x="2144.5" y="274.8" width="3.8" height="1.5" fill="#e2dfda"/><rect x="2213.7" y="398.4" width="2.4" height="1.9" fill="#e2dfda"/><rect x="2057.5" y="405.3" width="3.3" height="1.3" fill="#d3cec6"/><rect x="2185.7" y="238.5" width="4.7" height="1.4" fill="#e2dfda"/><rect x="2083.1" y="273.0" width="3.4" height="2.8" fill="#cfcac2"/><rect x="2190.9" y="271.5" width="2.1" height="1.3" fill="#cfcac2"/><rect x="2139.3" y="356.0" width="2.2" height="1.1" fill="#c9c4ba"/><rect x="2223.1" y="331.2" width="2.9" height="1.6" fill="#d3cec6"/><rect x="2077.0" y="195.8" width="4.5" height="1.9" fill="#cfcac2"/><rect x="2067.1" y="367.6" width="2.6" height="1.1" fill="#cfcac2"/><rect x="2234.0" y="196.4" width="4.4" height="1.4" fill="#e2dfda"/><rect x="2059.7" y="194.2" width="2.9" height="2.5" fill="#e2dfda"/><rect x="2224.7" y="242.1" width="2.9" height="1.5" fill="#d3cec6"/><rect x="2251.9" y="416.1" width="3.0" height="1.9" fill="#c9c4ba"/><rect x="2201.6" y="199.5" width="2.2" height="1.8" fill="#d3cec6"/><rect x="2092.7" y="393.1" width="4.2" height="2.1" fill="#cfcac2"/><rect x="2189.8" y="377.7" width="4.8" height="1.3" fill="#e2dfda"/><rect x="2175.4" y="224.4" width="3.3" height="2.6" fill="#e2dfda"/><rect x="2204.3" y="198.4" width="3.1" height="1.3" fill="#c9c4ba"/><rect x="2256.3" y="224.5" width="2.7" height="1.7" fill="#c9c4ba"/><rect x="2228.5" y="342.9" width="2.5" height="2.0" fill="#cfcac2"/><rect x="2056.6" y="336.8" width="2.7" height="1.1" fill="#e2dfda"/><rect x="2160.0" y="343.0" width="3.0" height="2.3" fill="#cfcac2"/><rect x="2115.9" y="221.3" width="2.9" height="1.8" fill="#cfcac2"/><rect x="2064.6" y="210.6" width="3.7" height="2.9" fill="#c9c4ba"/><rect x="2236.5" y="358.2" width="2.2" height="2.6" fill="#c9c4ba"/><rect x="2070.7" y="301.7" width="2.1" height="2.6" fill="#e2dfda"/><rect x="2195.5" y="383.3" width="4.3" height="1.5" fill="#cfcac2"/><rect x="2093.6" y="223.1" width="3.2" height="2.0" fill="#c9c4ba"/><rect x="2101.6" y="335.5" width="3.8" height="1.5" fill="#c9c4ba"/><rect x="2117.1" y="366.5" width="2.9" height="2.6" fill="#e2dfda"/><rect x="2129.6" y="322.9" width="4.0" height="2.0" fill="#d3cec6"/><rect x="2252.1" y="213.0" width="3.0" height="2.1" fill="#d3cec6"/><rect x="2045.7" y="227.1" width="4.4" height="2.6" fill="#d3cec6"/><rect x="2235.3" y="371.5" width="2.9" height="2.3" fill="#e2dfda"/><rect x="2113.3" y="370.2" width="3.2" height="1.3" fill="#e2dfda"/><rect x="2189.4" y="368.9" width="3.7" height="2.6" fill="#c9c4ba"/><rect x="2136.7" y="325.9" width="2.2" height="2.1" fill="#c9c4ba"/><rect x="2192.7" y="383.0" width="3.5" height="2.8" fill="#c9c4ba"/><rect x="2063.0" y="400.4" width="3.1" height="1.2" fill="#e2dfda"/><rect x="2138.3" y="292.9" width="4.6" height="1.3" fill="#e2dfda"/><rect x="2173.4" y="289.4" width="3.6" height="2.0" fill="#cfcac2"/><rect x="2150.7" y="397.2" width="2.5" height="1.0" fill="#cfcac2"/><rect x="2054.2" y="300.4" width="4.9" height="1.1" fill="#e2dfda"/><rect x="2155.9" y="218.8" width="3.3" height="1.4" fill="#c9c4ba"/><rect x="2194.5" y="320.1" width="2.9" height="1.5" fill="#cfcac2"/><rect x="2205.9" y="294.8" width="3.2" height="2.5" fill="#c9c4ba"/><rect x="2250.2" y="209.0" width="2.5" height="1.7" fill="#c9c4ba"/><rect x="2055.0" y="202.8" width="2.7" height="1.8" fill="#e2dfda"/><rect x="2200.0" y="336.5" width="2.1" height="1.1" fill="#e2dfda"/><rect x="2229.4" y="409.9" width="3.1" height="2.8" fill="#d3cec6"/><rect x="2241.2" y="287.7" width="4.2" height="1.7" fill="#cfcac2"/><rect x="2164.4" y="210.7" width="4.0" height="2.6" fill="#cfcac2"/><rect x="2238.2" y="297.6" width="2.4" height="2.8" fill="#cfcac2"/><rect x="2249.6" y="332.7" width="4.0" height="1.7" fill="#c9c4ba"/><rect x="2079.3" y="260.0" width="4.2" height="1.6" fill="#d3cec6"/><rect x="2148.5" y="297.8" width="4.9" height="1.3" fill="#e2dfda"/><rect x="2145.3" y="228.3" width="4.8" height="2.0" fill="#e2dfda"/><rect x="2076.0" y="332.7" width="3.2" height="1.3" fill="#d3cec6"/><rect x="2046.5" y="284.0" width="3.7" height="2.0" fill="#e2dfda"/><rect x="2237.4" y="415.0" width="4.4" height="2.0" fill="#c9c4ba"/><rect x="2153.2" y="285.4" width="3.2" height="1.1" fill="#cfcac2"/><rect x="2092.9" y="197.0" width="3.4" height="2.4" fill="#c9c4ba"/><rect x="2134.2" y="277.4" width="4.0" height="1.3" fill="#e2dfda"/><rect x="2168.1" y="317.4" width="4.6" height="1.8" fill="#cfcac2"/><rect x="2210.2" y="194.2" width="2.1" height="2.2" fill="#cfcac2"/><rect x="2054.1" y="220.6" width="3.1" height="1.7" fill="#cfcac2"/><rect x="2161.9" y="403.3" width="3.1" height="1.4" fill="#d3cec6"/><rect x="2040.0" y="282.4" width="3.0" height="1.8" fill="#e2dfda"/><rect x="2050.5" y="323.1" width="3.9" height="2.5" fill="#c9c4ba"/><rect x="2116.5" y="347.7" width="3.3" height="1.4" fill="#c9c4ba"/><rect x="2232.6" y="369.2" width="4.8" height="2.6" fill="#c9c4ba"/><rect x="2067.3" y="193.7" width="2.6" height="1.8" fill="#c9c4ba"/><rect x="2188.8" y="295.3" width="3.5" height="2.5" fill="#e2dfda"/><rect x="2186.8" y="201.6" width="2.7" height="2.4" fill="#cfcac2"/><rect x="2187.8" y="287.3" width="2.9" height="2.7" fill="#cfcac2"/><rect x="2046.3" y="249.3" width="2.1" height="2.6" fill="#d3cec6"/><rect x="2066.0" y="424.0" width="2.6" height="1.6" fill="#d3cec6"/><rect x="2106.4" y="281.1" width="2.3" height="1.8" fill="#e2dfda"/><rect x="2045.0" y="243.7" width="4.7" height="1.6" fill="#cfcac2"/><rect x="2187.0" y="402.1" width="2.9" height="1.8" fill="#d3cec6"/><rect x="2194.7" y="380.3" width="3.8" height="1.4" fill="#e2dfda"/><rect x="2204.1" y="359.8" width="4.7" height="2.6" fill="#cfcac2"/><rect x="2130.9" y="221.9" width="4.7" height="2.4" fill="#e2dfda"/><rect x="2187.5" y="282.5" width="3.0" height="2.2" fill="#e2dfda"/><rect x="2144.3" y="360.3" width="4.8" height="2.7" fill="#e2dfda"/><rect x="2120.4" y="412.7" width="3.2" height="2.6" fill="#d3cec6"/><rect x="2059.6" y="298.3" width="3.5" height="2.6" fill="#e2dfda"/><rect x="2072.6" y="338.3" width="3.9" height="1.3" fill="#c9c4ba"/><rect x="2220.5" y="323.0" width="4.9" height="1.4" fill="#e2dfda"/><rect x="2109.7" y="344.4" width="3.8" height="2.0" fill="#e2dfda"/><rect x="2110.0" y="311.0" width="3.1" height="2.8" fill="#cfcac2"/><rect x="2142.7" y="252.1" width="2.8" height="2.9" fill="#d3cec6"/><rect x="2107.7" y="398.6" width="3.8" height="3.0" fill="#e2dfda"/><rect x="2243.9" y="375.6" width="3.7" height="2.4" fill="#cfcac2"/><rect x="2196.3" y="297.7" width="3.9" height="1.5" fill="#c9c4ba"/><rect x="2186.4" y="304.0" width="4.7" height="1.5" fill="#cfcac2"/><rect x="2217.1" y="427.0" width="4.7" height="2.9" fill="#d3cec6"/><rect x="2075.3" y="244.8" width="3.1" height="1.2" fill="#cfcac2"/><rect x="2072.2" y="194.3" width="4.8" height="1.7" fill="#e2dfda"/><rect x="2138.2" y="368.5" width="4.4" height="1.8" fill="#e2dfda"/><rect x="2155.7" y="213.3" width="2.9" height="1.4" fill="#c9c4ba"/><rect x="2109.9" y="328.1" width="3.0" height="1.7" fill="#d3cec6"/><rect x="2220.0" y="192.8" width="2.0" height="1.1" fill="#cfcac2"/><rect x="2177.1" y="364.9" width="4.9" height="1.4" fill="#c9c4ba"/><rect x="2239.2" y="248.2" width="3.6" height="2.4" fill="#e2dfda"/><rect x="2093.4" y="304.6" width="2.1" height="1.6" fill="#c9c4ba"/><rect x="2252.5" y="407.5" width="3.7" height="2.6" fill="#cfcac2"/><rect x="2111.5" y="425.6" width="3.3" height="1.3" fill="#c9c4ba"/><rect x="2154.6" y="332.6" width="4.1" height="2.3" fill="#c9c4ba"/><rect x="2178.2" y="411.5" width="4.0" height="3.0" fill="#cfcac2"/><rect x="2150.5" y="384.7" width="2.4" height="2.8" fill="#d3cec6"/><rect x="2229.8" y="267.0" width="3.9" height="2.7" fill="#d3cec6"/><rect x="2193.9" y="338.9" width="4.9" height="1.2" fill="#cfcac2"/><rect x="2159.2" y="419.4" width="4.1" height="1.6" fill="#cfcac2"/><rect x="2062.9" y="297.7" width="3.4" height="1.9" fill="#cfcac2"/><rect x="2098.7" y="401.5" width="2.9" height="1.2" fill="#e2dfda"/><rect x="2115.3" y="414.8" width="2.5" height="1.6" fill="#e2dfda"/><rect x="2115.1" y="392.6" width="2.1" height="2.8" fill="#c9c4ba"/><rect x="2091.0" y="233.3" width="4.2" height="3.0" fill="#c9c4ba"/><rect x="2202.8" y="409.7" width="5.0" height="2.1" fill="#c9c4ba"/><rect x="2070.9" y="394.1" width="3.2" height="1.6" fill="#cfcac2"/><rect x="2047.1" y="194.4" width="2.8" height="2.2" fill="#e2dfda"/><rect x="2202.2" y="420.0" width="4.5" height="2.9" fill="#cfcac2"/><rect x="2198.8" y="331.1" width="2.2" height="1.1" fill="#e2dfda"/><rect x="2204.5" y="238.5" width="4.4" height="1.9" fill="#c9c4ba"/><rect x="2161.4" y="296.4" width="2.2" height="1.5" fill="#cfcac2"/><rect x="2106.1" y="273.0" width="4.1" height="1.3" fill="#cfcac2"/><rect x="2171.2" y="417.4" width="2.3" height="1.2" fill="#d3cec6"/><rect x="2081.1" y="242.9" width="2.5" height="1.2" fill="#c9c4ba"/><rect x="2088.0" y="305.2" width="3.9" height="1.7" fill="#cfcac2"/><rect x="2076.0" y="212.7" width="2.8" height="1.3" fill="#e2dfda"/><rect x="2228.6" y="362.1" width="2.6" height="1.1" fill="#d3cec6"/><rect x="2054.2" y="294.7" width="3.1" height="2.4" fill="#cfcac2"/><rect x="2094.8" y="354.8" width="3.7" height="2.0" fill="#cfcac2"/><polyline points="2024.5,187.9 2026.1,189.9 2027.7,191.9 2029.2,193.9 2030.6,195.9 2031.9,197.9 2033.0,199.9 2033.9,201.9 2034.6,203.9 2035.1,205.9 2035.4,207.9 2035.5,209.9 2035.3,211.9 2034.9,213.9 2034.3,215.9 2033.5,217.9 2032.4,219.9 2031.2,221.9 2029.9,223.9 2028.5,225.9 2026.9,227.9 2025.3,229.9 2023.8,231.9 2022.2,233.9 2020.6,235.9 2019.2,237.9 2017.9,239.9 2016.7,241.9 2015.6,243.9 2014.8,245.9 2014.2,247.9 2013.8,249.9 2013.6,251.9 2013.7,253.9 2014.0,255.9 2014.5,257.9 2015.2,259.9 2016.1,261.9 2017.2,263.9 2018.5,265.9 2019.9,267.9 2021.4,269.9 2023.0,271.9 2024.5,273.9 2026.1,275.9 2027.7,277.9 2029.2,279.9 2030.6,281.9 2031.9,283.9 2033.0,285.9 2033.9,287.9 2034.6,289.9 2035.1,291.9 2035.4,293.9 2035.5,295.9 2035.3,297.9 2034.9,299.9 2034.3,301.9 2033.5,303.9 2032.4,305.9 2031.2,307.9 2029.9,309.9 2028.5,311.9 2026.9,313.9 2025.3,315.9 2023.8,317.9 2022.2,319.9 2020.6,321.9 2019.2,323.9 2017.9,325.9 2016.7,327.9 2015.6,329.9 2014.8,331.9 2014.2,333.9 2013.8,335.9 2013.6,337.9 2013.7,339.9 2014.0,341.9 2014.5,343.9 2015.2,345.9 2016.1,347.9 2017.2,349.9 2018.5,351.9 2019.9,353.9 2021.4,355.9 2023.0,357.9 2024.5,359.9 2026.1,361.9 2027.7,363.9 2029.2,365.9 2030.6,367.9 2031.9,369.9 2033.0,371.9 2033.9,373.9 2034.6,375.9 2035.1,377.9 2035.4,379.9 2035.5,381.9 2035.3,383.9 2034.9,385.9 2034.3,387.9 2033.5,389.9 2032.4,391.9 2031.2,393.9 2029.9,395.9 2028.5,397.9 2026.9,399.9 2025.3,401.9 2023.8,403.9 2022.2,405.9 2020.6,407.9 2019.2,409.9 2017.9,411.9 2016.7,413.9 2015.6,415.9 2014.8,417.9 2014.2,419.9 2013.8,421.9 2013.6,423.9 2013.7,425.9 2014.0,427.9 2014.5,429.9 2015.2,431.9" fill="none" stroke="#86693a" stroke-width="1.5"/><polyline points="2024.5,187.9 2023.0,189.9 2021.4,191.9 2019.9,193.9 2018.5,195.9 2017.2,197.9 2016.1,199.9 2015.2,201.9 2014.5,203.9 2014.0,205.9 2013.7,207.9 2013.6,209.9 2013.8,211.9 2014.2,213.9 2014.8,215.9 2015.6,217.9 2016.7,219.9 2017.9,221.9 2019.2,223.9 2020.6,225.9 2022.2,227.9 2023.8,229.9 2025.3,231.9 2026.9,233.9 2028.5,235.9 2029.9,237.9 2031.2,239.9 2032.4,241.9 2033.5,243.9 2034.3,245.9 2034.9,247.9 2035.3,249.9 2035.5,251.9 2035.4,253.9 2035.1,255.9 2034.6,257.9 2033.9,259.9 2033.0,261.9 2031.9,263.9 2030.6,265.9 2029.2,267.9 2027.7,269.9 2026.1,271.9 2024.5,273.9 2023.0,275.9 2021.4,277.9 2019.9,279.9 2018.5,281.9 2017.2,283.9 2016.1,285.9 2015.2,287.9 2014.5,289.9 2014.0,291.9 2013.7,293.9 2013.6,295.9 2013.8,297.9 2014.2,299.9 2014.8,301.9 2015.6,303.9 2016.7,305.9 2017.9,307.9 2019.2,309.9 2020.6,311.9 2022.2,313.9 2023.8,315.9 2025.3,317.9 2026.9,319.9 2028.5,321.9 2029.9,323.9 2031.2,325.9 2032.4,327.9 2033.5,329.9 2034.3,331.9 2034.9,333.9 2035.3,335.9 2035.5,337.9 2035.4,339.9 2035.1,341.9 2034.6,343.9 2033.9,345.9 2033.0,347.9 2031.9,349.9 2030.6,351.9 2029.2,353.9 2027.7,355.9 2026.1,357.9 2024.5,359.9 2023.0,361.9 2021.4,363.9 2019.9,365.9 2018.5,367.9 2017.2,369.9 2016.1,371.9 2015.2,373.9 2014.5,375.9 2014.0,377.9 2013.7,379.9 2013.6,381.9 2013.8,383.9 2014.2,385.9 2014.8,387.9 2015.6,389.9 2016.7,391.9 2017.9,393.9 2019.2,395.9 2020.6,397.9 2022.2,399.9 2023.8,401.9 2025.3,403.9 2026.9,405.9 2028.5,407.9 2029.9,409.9 2031.2,411.9 2032.4,413.9 2033.5,415.9 2034.3,417.9 2034.9,419.9 2035.3,421.9 2035.5,423.9 2035.4,425.9 2035.1,427.9 2034.6,429.9 2033.9,431.9" fill="none" stroke="#86693a" stroke-width="1.5"/><polyline points="2281.0,187.9 2280.9,189.9 2280.6,191.9 2280.0,193.9 2279.3,195.9 2278.4,197.9 2277.3,199.9 2276.1,201.9 2274.8,203.9 2273.4,205.9 2271.9,207.9 2270.4,209.9 2268.9,211.9 2267.5,213.9 2266.1,215.9 2264.9,217.9 2263.7,219.9 2262.7,221.9 2261.9,223.9 2261.3,225.9 2260.8,227.9 2260.6,229.9 2260.6,231.9 2260.8,233.9 2261.3,235.9 2261.9,237.9 2262.7,239.9 2263.7,241.9 2264.9,243.9 2266.1,245.9 2267.5,247.9 2268.9,249.9 2270.4,251.9 2271.9,253.9 2273.4,255.9 2274.8,257.9 2276.1,259.9 2277.3,261.9 2278.4,263.9 2279.3,265.9 2280.0,267.9 2280.6,269.9 2280.9,271.9 2281.0,273.9 2280.9,275.9 2280.6,277.9 2280.0,279.9 2279.3,281.9 2278.4,283.9 2277.3,285.9 2276.1,287.9 2274.8,289.9 2273.4,291.9 2271.9,293.9 2270.4,295.9 2268.9,297.9 2267.5,299.9 2266.1,301.9 2264.9,303.9 2263.7,305.9 2262.7,307.9 2261.9,309.9 2261.3,311.9 2260.8,313.9 2260.6,315.9 2260.6,317.9 2260.8,319.9 2261.3,321.9 2261.9,323.9 2262.7,325.9 2263.7,327.9 2264.9,329.9 2266.1,331.9 2267.5,333.9 2268.9,335.9 2270.4,337.9 2271.9,339.9 2273.4,341.9 2274.8,343.9 2276.1,345.9 2277.3,347.9 2278.4,349.9 2279.3,351.9 2280.0,353.9 2280.6,355.9 2280.9,357.9 2281.0,359.9 2280.9,361.9 2280.6,363.9 2280.0,365.9 2279.3,367.9 2278.4,369.9 2277.3,371.9 2276.1,373.9 2274.8,375.9 2273.4,377.9 2271.9,379.9 2270.4,381.9 2268.9,383.9 2267.5,385.9 2266.1,387.9 2264.9,389.9 2263.7,391.9 2262.7,393.9 2261.9,395.9 2261.3,397.9 2260.8,399.9 2260.6,401.9 2260.6,403.9 2260.8,405.9 2261.3,407.9 2261.9,409.9 2262.7,411.9 2263.7,413.9 2264.9,415.9 2266.1,417.9 2267.5,419.9 2268.9,421.9 2270.4,423.9 2271.9,425.9 2273.4,427.9 2274.8,429.9 2276.1,431.9" fill="none" stroke="#86693a" stroke-width="1.5"/><polyline points="2260.6,187.9 2260.7,189.9 2261.0,191.9 2261.6,193.9 2262.3,195.9 2263.2,197.9 2264.3,199.9 2265.5,201.9 2266.8,203.9 2268.2,205.9 2269.7,207.9 2271.2,209.9 2272.7,211.9 2274.1,213.9 2275.5,215.9 2276.7,217.9 2277.9,219.9 2278.9,221.9 2279.7,223.9 2280.3,225.9 2280.8,227.9 2281.0,229.9 2281.0,231.9 2280.8,233.9 2280.3,235.9 2279.7,237.9 2278.9,239.9 2277.9,241.9 2276.7,243.9 2275.5,245.9 2274.1,247.9 2272.7,249.9 2271.2,251.9 2269.7,253.9 2268.2,255.9 2266.8,257.9 2265.5,259.9 2264.3,261.9 2263.2,263.9 2262.3,265.9 2261.6,267.9 2261.0,269.9 2260.7,271.9 2260.6,273.9 2260.7,275.9 2261.0,277.9 2261.6,279.9 2262.3,281.9 2263.2,283.9 2264.3,285.9 2265.5,287.9 2266.8,289.9 2268.2,291.9 2269.7,293.9 2271.2,295.9 2272.7,297.9 2274.1,299.9 2275.5,301.9 2276.7,303.9 2277.9,305.9 2278.9,307.9 2279.7,309.9 2280.3,311.9 2280.8,313.9 2281.0,315.9 2281.0,317.9 2280.8,319.9 2280.3,321.9 2279.7,323.9 2278.9,325.9 2277.9,327.9 2276.7,329.9 2275.5,331.9 2274.1,333.9 2272.7,335.9 2271.2,337.9 2269.7,339.9 2268.2,341.9 2266.8,343.9 2265.5,345.9 2264.3,347.9 2263.2,349.9 2262.3,351.9 2261.6,353.9 2261.0,355.9 2260.7,357.9 2260.6,359.9 2260.7,361.9 2261.0,363.9 2261.6,365.9 2262.3,367.9 2263.2,369.9 2264.3,371.9 2265.5,373.9 2266.8,375.9 2268.2,377.9 2269.7,379.9 2271.2,381.9 2272.7,383.9 2274.1,385.9 2275.5,387.9 2276.7,389.9 2277.9,391.9 2278.9,393.9 2279.7,395.9 2280.3,397.9 2280.8,399.9 2281.0,401.9 2281.0,403.9 2280.8,405.9 2280.3,407.9 2279.7,409.9 2278.9,411.9 2277.9,413.9 2276.7,415.9 2275.5,417.9 2274.1,419.9 2272.7,421.9 2271.2,423.9 2269.7,425.9 2268.2,427.9 2266.8,429.9 2265.5,431.9" fill="none" stroke="#86693a" stroke-width="1.5"/><rect x="2225.5" y="419.7" width="60.8" height="26" fill="#fff"/><path d="M2229.7 429V441.5H2280.7V429" fill="none" stroke="#333" stroke-width="2"/><text x="2255" y="437.5" font-family="'Liberation Serif','Times New Roman',serif" font-size="15" font-weight="bold" text-anchor="middle" fill="#222">1cm</text></g>
<rect x="1995.5" y="461.8" width="302.5" height="300.2" fill="#006400"/>
<clipPath id="pcl1"><rect x="2004.8" y="467.8" width="285.3" height="284.2"/></clipPath>
<g clip-path="url(#pcl1)"><linearGradient id="g2" x1="0" y1="0" x2="0" y2="1"><stop offset="0" stop-color="#a8a592"/><stop offset="0.5" stop-color="#a9a690"/><stop offset="1" stop-color="#a29f88"/></linearGradient><rect x="2000.5" y="465" width="293.5" height="293" fill="url(#g2)"/><rect x="2014" y="488.8" width="270.5" height="247.40000000000003" fill="#b89e68" stroke="#7a6438" stroke-width="1.5"/><polygon points="2035.0,490.8 2038.0,539.5 2035.0,588.2 2038.0,636.8 2035.0,685.5 2038.0,734.2 2259.6,734.2 2262.6,685.5 2259.6,636.8 2262.6,588.2 2259.6,539.5 2262.6,490.8" fill="#d9d6cf"/><rect x="2040" y="491.8" width="217.5999999999999" height="241.40000000000003" fill="#dbd8d2"/><rect x="2120.0" y="540.5" width="2.3" height="2.3" fill="#cfcac2"/><rect x="2253.9" y="696.7" width="4.5" height="1.1" fill="#d3cec6"/><rect x="2160.7" y="638.2" width="2.2" height="2.0" fill="#c9c4ba"/><rect x="2087.7" y="683.6" width="3.3" height="1.2" fill="#d3cec6"/><rect x="2120.6" y="711.8" width="3.2" height="1.4" fill="#d3cec6"/><rect x="2151.4" y="652.6" width="3.2" height="2.7" fill="#cfcac2"/><rect x="2154.1" y="683.7" width="3.7" height="2.2" fill="#c9c4ba"/><rect x="2064.7" y="661.5" width="4.6" height="2.5" fill="#d3cec6"/><rect x="2131.5" y="513.7" width="2.6" height="2.1" fill="#e2dfda"/><rect x="2046.7" y="718.5" width="4.1" height="2.4" fill="#e2dfda"/><rect x="2254.1" y="641.4" width="3.5" height="1.4" fill="#d3cec6"/><rect x="2191.8" y="720.9" width="4.8" height="2.0" fill="#e2dfda"/><rect x="2224.8" y="722.2" width="3.3" height="2.2" fill="#c9c4ba"/><rect x="2144.6" y="605.1" width="2.7" height="1.4" fill="#e2dfda"/><rect x="2107.5" y="634.5" width="4.0" height="2.6" fill="#e2dfda"/><rect x="2152.2" y="601.3" width="2.5" height="3.0" fill="#d3cec6"/><rect x="2113.3" y="658.2" width="4.1" height="2.5" fill="#c9c4ba"/><rect x="2245.1" y="569.6" width="4.0" height="1.6" fill="#c9c4ba"/><rect x="2105.2" y="682.6" width="4.2" height="2.5" fill="#cfcac2"/><rect x="2249.5" y="643.2" width="3.4" height="2.8" fill="#cfcac2"/><rect x="2065.1" y="564.9" width="2.4" height="1.7" fill="#c9c4ba"/><rect x="2073.3" y="675.1" width="3.8" height="1.7" fill="#c9c4ba"/><rect x="2224.2" y="503.0" width="2.7" height="2.0" fill="#e2dfda"/><rect x="2124.0" y="731.5" width="3.6" height="2.3" fill="#d3cec6"/><rect x="2139.3" y="540.4" width="2.3" height="2.5" fill="#c9c4ba"/><rect x="2254.8" y="553.0" width="3.2" height="1.8" fill="#e2dfda"/><rect x="2164.7" y="504.3" width="4.4" height="2.5" fill="#e2dfda"/><rect x="2194.6" y="574.0" width="3.3" height="1.4" fill="#cfcac2"/><rect x="2189.3" y="631.1" width="2.1" height="1.3" fill="#e2dfda"/><rect x="2070.0" y="604.6" width="4.0" height="1.3" fill="#e2dfda"/><rect x="2148.3" y="593.4" width="2.4" height="2.6" fill="#e2dfda"/><rect x="2219.2" y="570.8" width="3.1" height="1.4" fill="#cfcac2"/><rect x="2225.2" y="731.6" width="2.6" height="2.3" fill="#d3cec6"/><rect x="2126.7" y="545.4" width="3.9" height="1.4" fill="#cfcac2"/><rect x="2173.0" y="722.9" width="2.8" height="1.3" fill="#cfcac2"/><rect x="2052.6" y="670.0" width="4.7" height="1.3" fill="#c9c4ba"/><rect x="2152.1" y="726.4" width="2.5" height="2.7" fill="#d3cec6"/><rect x="2056.6" y="533.7" width="4.8" height="1.1" fill="#e2dfda"/><rect x="2117.8" y="501.1" width="2.8" height="1.4" fill="#e2dfda"/><rect x="2058.4" y="519.5" width="3.6" height="1.4" fill="#c9c4ba"/><rect x="2153.0" y="505.5" width="2.6" height="1.7" fill="#c9c4ba"/><rect x="2219.6" y="538.1" width="3.5" height="2.7" fill="#e2dfda"/><rect x="2156.0" y="682.3" width="4.6" height="1.7" fill="#c9c4ba"/><rect x="2156.9" y="541.6" width="4.2" height="2.7" fill="#e2dfda"/><rect x="2049.2" y="721.4" width="2.2" height="1.8" fill="#e2dfda"/><rect x="2123.0" y="629.0" width="3.5" height="1.7" fill="#cfcac2"/><rect x="2153.5" y="659.9" width="4.0" height="1.3" fill="#c9c4ba"/><rect x="2055.1" y="646.7" width="2.1" height="2.1" fill="#e2dfda"/><rect x="2090.4" y="504.4" width="3.5" height="1.6" fill="#c9c4ba"/><rect x="2209.7" y="548.4" width="4.0" height="1.8" fill="#cfcac2"/><rect x="2211.0" y="564.7" width="2.4" height="1.7" fill="#d3cec6"/><rect x="2108.8" y="690.0" width="3.1" height="1.4" fill="#e2dfda"/><rect x="2165.1" y="629.3" width="3.7" height="1.1" fill="#e2dfda"/><rect x="2169.0" y="528.5" width="2.1" height="1.9" fill="#e2dfda"/><rect x="2177.7" y="500.4" width="4.4" height="1.7" fill="#e2dfda"/><rect x="2165.6" y="513.7" width="4.4" height="2.8" fill="#d3cec6"/><rect x="2045.6" y="573.1" width="2.2" height="1.2" fill="#cfcac2"/><rect x="2190.6" y="546.7" width="2.0" height="2.3" fill="#c9c4ba"/><rect x="2140.7" y="666.3" width="4.3" height="2.7" fill="#cfcac2"/><rect x="2170.0" y="714.5" width="3.2" height="2.0" fill="#d3cec6"/><rect x="2114.6" y="649.4" width="3.7" height="2.5" fill="#c9c4ba"/><rect x="2067.3" y="700.7" width="4.3" height="1.2" fill="#c9c4ba"/><rect x="2126.6" y="562.0" width="4.1" height="3.0" fill="#c9c4ba"/><rect x="2114.0" y="609.0" width="4.6" height="1.4" fill="#d3cec6"/><rect x="2195.4" y="566.4" width="4.1" height="2.7" fill="#d3cec6"/><rect x="2228.7" y="642.6" width="3.7" height="2.2" fill="#d3cec6"/><rect x="2068.0" y="537.2" width="3.9" height="2.8" fill="#e2dfda"/><rect x="2165.8" y="715.1" width="4.0" height="2.6" fill="#cfcac2"/><rect x="2223.6" y="612.4" width="3.6" height="2.8" fill="#c9c4ba"/><rect x="2190.8" y="673.3" width="4.5" height="2.1" fill="#cfcac2"/><rect x="2217.1" y="715.8" width="2.1" height="1.0" fill="#e2dfda"/><rect x="2190.7" y="532.0" width="2.1" height="2.3" fill="#cfcac2"/><rect x="2085.7" y="543.4" width="4.1" height="2.1" fill="#d3cec6"/><rect x="2116.3" y="642.5" width="3.9" height="1.0" fill="#e2dfda"/><rect x="2169.1" y="607.2" width="3.5" height="1.9" fill="#e2dfda"/><rect x="2161.8" y="541.6" width="4.8" height="1.1" fill="#c9c4ba"/><rect x="2103.7" y="681.7" width="4.0" height="1.4" fill="#d3cec6"/><rect x="2106.3" y="636.1" width="3.2" height="2.0" fill="#e2dfda"/><rect x="2175.4" y="511.3" width="4.2" height="1.6" fill="#e2dfda"/><rect x="2086.6" y="519.7" width="2.3" height="2.5" fill="#cfcac2"/><rect x="2066.9" y="638.8" width="4.6" height="1.1" fill="#cfcac2"/><rect x="2219.5" y="579.4" width="3.5" height="1.7" fill="#d3cec6"/><rect x="2200.1" y="672.3" width="3.2" height="1.0" fill="#e2dfda"/><rect x="2087.1" y="661.9" width="4.6" height="1.7" fill="#c9c4ba"/><rect x="2067.8" y="589.5" width="2.5" height="1.4" fill="#d3cec6"/><rect x="2223.5" y="541.9" width="3.6" height="2.0" fill="#c9c4ba"/><rect x="2050.7" y="727.5" width="2.5" height="1.1" fill="#d3cec6"/><rect x="2168.2" y="731.8" width="2.1" height="1.7" fill="#c9c4ba"/><rect x="2189.8" y="596.5" width="4.9" height="1.2" fill="#c9c4ba"/><rect x="2154.2" y="526.0" width="3.0" height="1.5" fill="#e2dfda"/><rect x="2215.1" y="575.8" width="4.1" height="2.5" fill="#cfcac2"/><rect x="2111.7" y="584.6" width="4.8" height="1.2" fill="#c9c4ba"/><rect x="2103.0" y="707.1" width="2.8" height="1.8" fill="#d3cec6"/><rect x="2207.7" y="563.3" width="3.3" height="1.1" fill="#cfcac2"/><rect x="2049.1" y="533.1" width="3.1" height="1.5" fill="#cfcac2"/><rect x="2093.7" y="718.0" width="2.7" height="2.2" fill="#d3cec6"/><rect x="2151.6" y="659.0" width="4.6" height="2.6" fill="#d3cec6"/><rect x="2136.2" y="567.0" width="4.3" height="1.5" fill="#d3cec6"/><rect x="2142.6" y="673.9" width="3.3" height="2.4" fill="#cfcac2"/><rect x="2102.8" y="583.4" width="3.7" height="1.9" fill="#e2dfda"/><rect x="2196.6" y="656.3" width="2.4" height="1.3" fill="#d3cec6"/><rect x="2110.0" y="496.5" width="3.5" height="1.7" fill="#cfcac2"/><rect x="2062.6" y="694.1" width="2.2" height="2.4" fill="#d3cec6"/><rect x="2193.7" y="699.2" width="2.8" height="2.4" fill="#cfcac2"/><rect x="2141.6" y="669.9" width="2.3" height="1.0" fill="#d3cec6"/><rect x="2160.4" y="504.8" width="3.7" height="2.1" fill="#e2dfda"/><rect x="2064.6" y="636.4" width="2.7" height="2.8" fill="#d3cec6"/><rect x="2122.8" y="600.0" width="3.3" height="1.9" fill="#e2dfda"/><rect x="2187.6" y="681.3" width="3.3" height="2.7" fill="#e2dfda"/><rect x="2250.3" y="640.5" width="3.8" height="1.2" fill="#c9c4ba"/><rect x="2060.9" y="711.7" width="3.5" height="2.5" fill="#d3cec6"/><rect x="2253.6" y="572.4" width="4.1" height="2.5" fill="#e2dfda"/><rect x="2044.5" y="654.1" width="2.5" height="1.8" fill="#e2dfda"/><rect x="2046.3" y="550.5" width="3.5" height="2.5" fill="#cfcac2"/><rect x="2151.0" y="694.4" width="2.7" height="1.2" fill="#d3cec6"/><rect x="2106.9" y="539.4" width="2.4" height="1.2" fill="#c9c4ba"/><rect x="2196.8" y="530.8" width="4.4" height="2.1" fill="#cfcac2"/><rect x="2144.3" y="558.9" width="3.7" height="2.9" fill="#cfcac2"/><rect x="2167.2" y="720.4" width="4.0" height="2.5" fill="#c9c4ba"/><rect x="2115.0" y="624.2" width="3.1" height="2.7" fill="#c9c4ba"/><rect x="2220.9" y="637.9" width="3.7" height="1.5" fill="#e2dfda"/><rect x="2094.1" y="650.3" width="2.4" height="1.4" fill="#d3cec6"/><rect x="2189.3" y="614.8" width="3.9" height="1.1" fill="#cfcac2"/><rect x="2255.3" y="604.7" width="4.3" height="1.6" fill="#d3cec6"/><rect x="2227.9" y="577.8" width="2.7" height="1.1" fill="#cfcac2"/><rect x="2122.3" y="709.4" width="2.6" height="1.8" fill="#cfcac2"/><rect x="2230.4" y="721.5" width="4.3" height="1.7" fill="#c9c4ba"/><rect x="2086.7" y="638.2" width="3.7" height="2.6" fill="#e2dfda"/><rect x="2129.5" y="592.3" width="3.1" height="2.8" fill="#d3cec6"/><rect x="2082.4" y="700.3" width="2.7" height="2.4" fill="#c9c4ba"/><rect x="2150.9" y="719.9" width="2.5" height="1.2" fill="#e2dfda"/><rect x="2105.7" y="557.8" width="3.2" height="1.6" fill="#c9c4ba"/><rect x="2189.0" y="635.6" width="4.8" height="2.6" fill="#c9c4ba"/><rect x="2201.8" y="520.2" width="2.1" height="1.1" fill="#c9c4ba"/><rect x="2100.2" y="583.6" width="2.7" height="1.1" fill="#cfcac2"/><rect x="2066.5" y="616.6" width="2.3" height="2.0" fill="#cfcac2"/><rect x="2239.0" y="682.2" width="3.3" height="2.5" fill="#d3cec6"/><rect x="2241.7" y="673.6" width="4.3" height="1.0" fill="#cfcac2"/><rect x="2156.3" y="656.3" width="4.9" height="2.5" fill="#c9c4ba"/><rect x="2241.2" y="693.4" width="3.3" height="2.0" fill="#cfcac2"/><polyline points="2027.0,490.8 2028.5,492.8 2029.9,494.8 2031.2,496.8 2032.5,498.8 2033.7,500.8 2034.7,502.8 2035.5,504.8 2036.2,506.8 2036.7,508.8 2036.9,510.8 2037.0,512.8 2036.8,514.8 2036.5,516.8 2035.9,518.8 2035.1,520.8 2034.2,522.8 2033.1,524.8 2031.9,526.8 2030.6,528.8 2029.2,530.8 2027.7,532.8 2026.3,534.8 2024.8,536.8 2023.4,538.8 2022.1,540.8 2020.9,542.8 2019.8,544.8 2018.9,546.8 2018.1,548.8 2017.5,550.8 2017.2,552.8 2017.0,554.8 2017.1,556.8 2017.3,558.8 2017.8,560.8 2018.5,562.8 2019.3,564.8 2020.3,566.8 2021.5,568.8 2022.8,570.8 2024.1,572.8 2025.5,574.8 2027.0,576.8 2028.5,578.8 2029.9,580.8 2031.2,582.8 2032.5,584.8 2033.7,586.8 2034.7,588.8 2035.5,590.8 2036.2,592.8 2036.7,594.8 2036.9,596.8 2037.0,598.8 2036.8,600.8 2036.5,602.8 2035.9,604.8 2035.1,606.8 2034.2,608.8 2033.1,610.8 2031.9,612.8 2030.6,614.8 2029.2,616.8 2027.7,618.8 2026.3,620.8 2024.8,622.8 2023.4,624.8 2022.1,626.8 2020.9,628.8 2019.8,630.8 2018.9,632.8 2018.1,634.8 2017.5,636.8 2017.2,638.8 2017.0,640.8 2017.1,642.8 2017.3,644.8 2017.8,646.8 2018.5,648.8 2019.3,650.8 2020.3,652.8 2021.5,654.8 2022.8,656.8 2024.1,658.8 2025.5,660.8 2027.0,662.8 2028.5,664.8 2029.9,666.8 2031.2,668.8 2032.5,670.8 2033.7,672.8 2034.7,674.8 2035.5,676.8 2036.2,678.8 2036.7,680.8 2036.9,682.8 2037.0,684.8 2036.8,686.8 2036.5,688.8 2035.9,690.8 2035.1,692.8 2034.2,694.8 2033.1,696.8 2031.9,698.8 2030.6,700.8 2029.2,702.8 2027.7,704.8 2026.3,706.8 2024.8,708.8 2023.4,710.8 2022.1,712.8 2020.9,714.8 2019.8,716.8 2018.9,718.8 2018.1,720.8 2017.5,722.8 2017.2,724.8 2017.0,726.8 2017.1,728.8 2017.3,730.8 2017.8,732.8" fill="none" stroke="#86693a" stroke-width="1.5"/><polyline points="2027.0,490.8 2025.5,492.8 2024.1,494.8 2022.8,496.8 2021.5,498.8 2020.3,500.8 2019.3,502.8 2018.5,504.8 2017.8,506.8 2017.3,508.8 2017.1,510.8 2017.0,512.8 2017.2,514.8 2017.5,516.8 2018.1,518.8 2018.9,520.8 2019.8,522.8 2020.9,524.8 2022.1,526.8 2023.4,528.8 2024.8,530.8 2026.3,532.8 2027.7,534.8 2029.2,536.8 2030.6,538.8 2031.9,540.8 2033.1,542.8 2034.2,544.8 2035.1,546.8 2035.9,548.8 2036.5,550.8 2036.8,552.8 2037.0,554.8 2036.9,556.8 2036.7,558.8 2036.2,560.8 2035.5,562.8 2034.7,564.8 2033.7,566.8 2032.5,568.8 2031.2,570.8 2029.9,572.8 2028.5,574.8 2027.0,576.8 2025.5,578.8 2024.1,580.8 2022.8,582.8 2021.5,584.8 2020.3,586.8 2019.3,588.8 2018.5,590.8 2017.8,592.8 2017.3,594.8 2017.1,596.8 2017.0,598.8 2017.2,600.8 2017.5,602.8 2018.1,604.8 2018.9,606.8 2019.8,608.8 2020.9,610.8 2022.1,612.8 2023.4,614.8 2024.8,616.8 2026.3,618.8 2027.7,620.8 2029.2,622.8 2030.6,624.8 2031.9,626.8 2033.1,628.8 2034.2,630.8 2035.1,632.8 2035.9,634.8 2036.5,636.8 2036.8,638.8 2037.0,640.8 2036.9,642.8 2036.7,644.8 2036.2,646.8 2035.5,648.8 2034.7,650.8 2033.7,652.8 2032.5,654.8 2031.2,656.8 2029.9,658.8 2028.5,660.8 2027.0,662.8 2025.5,664.8 2024.1,666.8 2022.8,668.8 2021.5,670.8 2020.3,672.8 2019.3,674.8 2018.5,676.8 2017.8,678.8 2017.3,680.8 2017.1,682.8 2017.0,684.8 2017.2,686.8 2017.5,688.8 2018.1,690.8 2018.9,692.8 2019.8,694.8 2020.9,696.8 2022.1,698.8 2023.4,700.8 2024.8,702.8 2026.3,704.8 2027.7,706.8 2029.2,708.8 2030.6,710.8 2031.9,712.8 2033.1,714.8 2034.2,716.8 2035.1,718.8 2035.9,720.8 2036.5,722.8 2036.8,724.8 2037.0,726.8 2036.9,728.8 2036.7,730.8 2036.2,732.8" fill="none" stroke="#86693a" stroke-width="1.5"/><polyline points="2281.5,490.8 2281.4,492.8 2281.1,494.8 2280.5,496.8 2279.8,498.8 2278.8,500.8 2277.7,502.8 2276.5,504.8 2275.1,506.8 2273.7,508.8 2272.2,510.8 2270.7,512.8 2269.2,514.8 2267.7,516.8 2266.3,518.8 2265.0,520.8 2263.8,522.8 2262.8,524.8 2261.9,526.8 2261.3,528.8 2260.9,530.8 2260.6,532.8 2260.6,534.8 2260.9,536.8 2261.3,538.8 2261.9,540.8 2262.8,542.8 2263.8,544.8 2265.0,546.8 2266.3,548.8 2267.7,550.8 2269.2,552.8 2270.7,554.8 2272.2,556.8 2273.7,558.8 2275.1,560.8 2276.5,562.8 2277.7,564.8 2278.8,566.8 2279.8,568.8 2280.5,570.8 2281.1,572.8 2281.4,574.8 2281.5,576.8 2281.4,578.8 2281.1,580.8 2280.5,582.8 2279.8,584.8 2278.8,586.8 2277.7,588.8 2276.5,590.8 2275.1,592.8 2273.7,594.8 2272.2,596.8 2270.7,598.8 2269.2,600.8 2267.7,602.8 2266.3,604.8 2265.0,606.8 2263.8,608.8 2262.8,610.8 2261.9,612.8 2261.3,614.8 2260.9,616.8 2260.6,618.8 2260.6,620.8 2260.9,622.8 2261.3,624.8 2261.9,626.8 2262.8,628.8 2263.8,630.8 2265.0,632.8 2266.3,634.8 2267.7,636.8 2269.2,638.8 2270.7,640.8 2272.2,642.8 2273.7,644.8 2275.1,646.8 2276.5,648.8 2277.7,650.8 2278.8,652.8 2279.8,654.8 2280.5,656.8 2281.1,658.8 2281.4,660.8 2281.5,662.8 2281.4,664.8 2281.1,666.8 2280.5,668.8 2279.8,670.8 2278.8,672.8 2277.7,674.8 2276.5,676.8 2275.1,678.8 2273.7,680.8 2272.2,682.8 2270.7,684.8 2269.2,686.8 2267.7,688.8 2266.3,690.8 2265.0,692.8 2263.8,694.8 2262.8,696.8 2261.9,698.8 2261.3,700.8 2260.9,702.8 2260.6,704.8 2260.6,706.8 2260.9,708.8 2261.3,710.8 2261.9,712.8 2262.8,714.8 2263.8,716.8 2265.0,718.8 2266.3,720.8 2267.7,722.8 2269.2,724.8 2270.7,726.8 2272.2,728.8 2273.7,730.8 2275.1,732.8" fill="none" stroke="#86693a" stroke-width="1.5"/><polyline points="2260.6,490.8 2260.7,492.8 2261.0,494.8 2261.6,496.8 2262.3,498.8 2263.3,500.8 2264.4,502.8 2265.6,504.8 2267.0,506.8 2268.4,508.8 2269.9,510.8 2271.4,512.8 2272.9,514.8 2274.4,516.8 2275.8,518.8 2277.1,520.8 2278.3,522.8 2279.3,524.8 2280.2,526.8 2280.8,528.8 2281.2,530.8 2281.5,532.8 2281.5,534.8 2281.2,536.8 2280.8,538.8 2280.2,540.8 2279.3,542.8 2278.3,544.8 2277.1,546.8 2275.8,548.8 2274.4,550.8 2272.9,552.8 2271.4,554.8 2269.9,556.8 2268.4,558.8 2267.0,560.8 2265.6,562.8 2264.4,564.8 2263.3,566.8 2262.3,568.8 2261.6,570.8 2261.0,572.8 2260.7,574.8 2260.6,576.8 2260.7,578.8 2261.0,580.8 2261.6,582.8 2262.3,584.8 2263.3,586.8 2264.4,588.8 2265.6,590.8 2267.0,592.8 2268.4,594.8 2269.9,596.8 2271.4,598.8 2272.9,600.8 2274.4,602.8 2275.8,604.8 2277.1,606.8 2278.3,608.8 2279.3,610.8 2280.2,612.8 2280.8,614.8 2281.2,616.8 2281.5,618.8 2281.5,620.8 2281.2,622.8 2280.8,624.8 2280.2,626.8 2279.3,628.8 2278.3,630.8 2277.1,632.8 2275.8,634.8 2274.4,636.8 2272.9,638.8 2271.4,640.8 2269.9,642.8 2268.4,644.8 2267.0,646.8 2265.6,648.8 2264.4,650.8 2263.3,652.8 2262.3,654.8 2261.6,656.8 2261.0,658.8 2260.7,660.8 2260.6,662.8 2260.7,664.8 2261.0,666.8 2261.6,668.8 2262.3,670.8 2263.3,672.8 2264.4,674.8 2265.6,676.8 2267.0,678.8 2268.4,680.8 2269.9,682.8 2271.4,684.8 2272.9,686.8 2274.4,688.8 2275.8,690.8 2277.1,692.8 2278.3,694.8 2279.3,696.8 2280.2,698.8 2280.8,700.8 2281.2,702.8 2281.5,704.8 2281.5,706.8 2281.2,708.8 2280.8,710.8 2280.2,712.8 2279.3,714.8 2278.3,716.8 2277.1,718.8 2275.8,720.8 2274.4,722.8 2272.9,724.8 2271.4,726.8 2269.9,728.8 2268.4,730.8 2267.0,732.8" fill="none" stroke="#86693a" stroke-width="1.5"/></g>
<rect x="1995.5" y="762" width="302.5" height="301.5" fill="#0000ff"/>
<clipPath id="pcl2"><rect x="2004.8" y="769.4" width="285.3" height="283.4"/></clipPath>
<g clip-path="url(#pcl2)"><linearGradient id="g3" x1="0" y1="0" x2="0" y2="1"><stop offset="0" stop-color="#aaac96"/><stop offset="1" stop-color="#b2b6a2"/></linearGradient><rect x="2000.5" y="766" width="293.5" height="293" fill="url(#g3)"/><rect x="2012.1" y="785.8" width="271.9000000000001" height="248.9000000000001" fill="#86693e"/><rect x="2036.5" y="786" width="223.5" height="4" fill="#a5977a"/><rect x="2036.5" y="790" width="223.5" height="6" fill="#c0baac"/><rect x="2036.5" y="796" width="223.5" height="6" fill="#a99573"/><rect x="2036.5" y="802" width="223.5" height="21" fill="#765a34"/><rect x="2036.5" y="823" width="223.5" height="5" fill="#978156"/><rect x="2036.5" y="828" width="223.5" height="10" fill="#512e15"/><rect x="2036.5" y="838" width="223.5" height="14" fill="#7c6439"/><rect x="2036.5" y="852" width="223.5" height="10" fill="#634222"/><rect x="2036.5" y="862" width="223.5" height="8" fill="#7e683d"/><rect x="2036.5" y="870" width="223.5" height="5" fill="#6d5632"/><rect x="2036.5" y="875" width="223.5" height="22" fill="#8a7348"/><rect x="2036.5" y="897" width="223.5" height="8" fill="#6d5632"/><rect x="2036.5" y="905" width="223.5" height="10" fill="#54361b"/><rect x="2036.5" y="915" width="223.5" height="13" fill="#7e683f"/><rect x="2036.5" y="928" width="223.5" height="17" fill="#907c4f"/><rect x="2036.5" y="945" width="223.5" height="2" fill="#5f482b"/><rect x="2036.5" y="947" width="223.5" height="13" fill="#917e52"/><rect x="2036.5" y="960" width="223.5" height="12" fill="#71512d"/><rect x="2036.5" y="972" width="223.5" height="11" fill="#836d42"/><rect x="2036.5" y="983" width="223.5" height="9" fill="#523419"/><rect x="2036.5" y="992" width="223.5" height="26" fill="#735630"/><rect x="2036.5" y="1018" width="223.5" height="6" fill="#9e8a5d"/><rect x="2036.5" y="1024" width="223.5" height="6" fill="#6d5639"/><rect x="2036.5" y="1030" width="223.5" height="4.7000000000000455" fill="#b4ac9e"/><rect x="2135.7" y="927.0" width="9.4" height="1.3" fill="#5a3a1c"/><rect x="2116.8" y="973.0" width="6.8" height="1.2" fill="#5a3a1c"/><rect x="2151.8" y="847.1" width="3.3" height="1.1" fill="#b09a6a"/><rect x="2040.0" y="977.0" width="8.6" height="1.0" fill="#a08656"/><rect x="2154.1" y="893.6" width="5.8" height="1.1" fill="#5a3a1c"/><rect x="2102.8" y="1016.1" width="5.8" height="1.2" fill="#b09a6a"/><rect x="2092.6" y="848.4" width="8.6" height="1.8" fill="#5a3a1c"/><rect x="2096.0" y="860.2" width="6.8" height="1.7" fill="#b09a6a"/><rect x="2194.4" y="994.1" width="8.4" height="1.5" fill="#5a3a1c"/><rect x="2207.3" y="835.0" width="9.8" height="1.5" fill="#5a3a1c"/><rect x="2178.5" y="952.2" width="8.0" height="1.1" fill="#a08656"/><rect x="2103.4" y="820.3" width="8.2" height="1.5" fill="#6b4a28"/><rect x="2077.2" y="886.5" width="4.4" height="1.7" fill="#5a3a1c"/><rect x="2227.0" y="961.6" width="6.3" height="1.6" fill="#a08656"/><rect x="2259.7" y="964.1" width="6.0" height="1.4" fill="#5a3a1c"/><rect x="2177.2" y="957.9" width="4.1" height="1.4" fill="#b09a6a"/><rect x="2040.3" y="919.1" width="3.1" height="1.7" fill="#6b4a28"/><rect x="2053.2" y="828.0" width="5.9" height="1.5" fill="#6b4a28"/><rect x="2092.6" y="940.5" width="7.2" height="1.2" fill="#5a3a1c"/><rect x="2244.8" y="909.0" width="8.7" height="1.7" fill="#a08656"/><rect x="2182.3" y="1004.2" width="3.3" height="1.6" fill="#a08656"/><rect x="2159.5" y="791.7" width="9.6" height="1.7" fill="#b09a6a"/><rect x="2121.3" y="832.2" width="3.2" height="1.9" fill="#5a3a1c"/><rect x="2064.9" y="827.3" width="8.0" height="1.1" fill="#b09a6a"/><rect x="2164.1" y="876.6" width="7.0" height="1.6" fill="#5a3a1c"/><rect x="2103.7" y="833.8" width="9.7" height="1.4" fill="#a08656"/><rect x="2050.8" y="908.8" width="7.6" height="1.9" fill="#6b4a28"/><rect x="2212.3" y="951.8" width="9.5" height="1.3" fill="#a08656"/><rect x="2081.7" y="790.6" width="6.9" height="1.6" fill="#a08656"/><rect x="2235.8" y="847.1" width="8.7" height="1.9" fill="#a08656"/><rect x="2134.4" y="798.1" width="7.0" height="1.7" fill="#a08656"/><rect x="2231.6" y="898.5" width="7.7" height="1.2" fill="#b09a6a"/><rect x="2182.9" y="979.7" width="6.7" height="1.3" fill="#a08656"/><rect x="2135.4" y="867.1" width="9.3" height="1.2" fill="#6b4a28"/><rect x="2040.9" y="861.2" width="6.2" height="1.3" fill="#5a3a1c"/><rect x="2109.3" y="833.6" width="4.4" height="1.8" fill="#5a3a1c"/><rect x="2063.4" y="940.2" width="6.5" height="1.3" fill="#5a3a1c"/><rect x="2186.2" y="991.2" width="5.2" height="1.7" fill="#b09a6a"/><rect x="2152.4" y="966.3" width="8.4" height="1.4" fill="#6b4a28"/><rect x="2227.1" y="812.1" width="9.4" height="1.3" fill="#5a3a1c"/><rect x="2204.8" y="832.6" width="9.9" height="1.6" fill="#b09a6a"/><rect x="2125.7" y="943.6" width="7.8" height="1.3" fill="#6b4a28"/><rect x="2248.9" y="889.5" width="4.3" height="1.8" fill="#5a3a1c"/><rect x="2197.6" y="844.7" width="5.2" height="1.7" fill="#b09a6a"/><rect x="2043.9" y="857.6" width="6.5" height="1.2" fill="#b09a6a"/><rect x="2218.7" y="967.4" width="5.3" height="1.9" fill="#b09a6a"/><rect x="2211.2" y="910.0" width="4.4" height="1.1" fill="#6b4a28"/><rect x="2051.0" y="928.0" width="3.1" height="1.8" fill="#5a3a1c"/><rect x="2232.7" y="995.3" width="8.9" height="1.7" fill="#a08656"/><rect x="2085.7" y="966.7" width="8.0" height="1.5" fill="#b09a6a"/><rect x="2141.3" y="960.1" width="3.1" height="1.2" fill="#5a3a1c"/><rect x="2236.6" y="914.2" width="5.5" height="1.3" fill="#a08656"/><rect x="2115.9" y="1015.9" width="3.3" height="1.4" fill="#a08656"/><rect x="2232.7" y="797.5" width="5.3" height="1.0" fill="#b09a6a"/><rect x="2107.3" y="874.6" width="4.2" height="2.0" fill="#5a3a1c"/><rect x="2088.4" y="947.8" width="6.5" height="1.6" fill="#6b4a28"/><rect x="2041.0" y="874.9" width="6.6" height="1.1" fill="#b09a6a"/><rect x="2154.9" y="899.7" width="6.8" height="1.2" fill="#a08656"/><rect x="2162.6" y="991.3" width="4.5" height="1.5" fill="#6b4a28"/><rect x="2080.8" y="1019.0" width="5.8" height="1.0" fill="#a08656"/><rect x="2091.9" y="821.2" width="4.2" height="1.4" fill="#6b4a28"/><rect x="2178.0" y="966.6" width="4.9" height="1.2" fill="#a08656"/><rect x="2099.7" y="878.1" width="4.8" height="1.3" fill="#5a3a1c"/><rect x="2057.2" y="984.4" width="6.2" height="1.6" fill="#b09a6a"/><rect x="2218.0" y="898.2" width="9.0" height="1.3" fill="#5a3a1c"/><rect x="2048.6" y="894.2" width="4.4" height="1.8" fill="#5a3a1c"/><rect x="2218.4" y="999.4" width="6.7" height="1.4" fill="#a08656"/><rect x="2182.4" y="996.4" width="5.2" height="2.0" fill="#a08656"/><rect x="2143.4" y="933.4" width="3.2" height="1.2" fill="#a08656"/><rect x="2208.8" y="863.3" width="7.0" height="1.2" fill="#5a3a1c"/><rect x="2058.6" y="942.6" width="7.0" height="1.6" fill="#b09a6a"/><rect x="2127.7" y="936.9" width="9.4" height="1.2" fill="#6b4a28"/><rect x="2222.6" y="981.6" width="3.4" height="1.7" fill="#a08656"/><rect x="2165.8" y="894.7" width="7.8" height="1.4" fill="#b09a6a"/><rect x="2158.2" y="962.4" width="5.2" height="1.2" fill="#6b4a28"/><rect x="2077.3" y="996.8" width="6.0" height="1.0" fill="#a08656"/><rect x="2197.4" y="1003.0" width="8.4" height="1.7" fill="#b09a6a"/><rect x="2087.5" y="950.2" width="6.1" height="1.0" fill="#a08656"/><rect x="2051.0" y="909.7" width="7.2" height="1.4" fill="#6b4a28"/><rect x="2042.2" y="902.5" width="4.2" height="1.7" fill="#b09a6a"/><rect x="2077.4" y="854.1" width="7.0" height="1.8" fill="#6b4a28"/><rect x="2117.6" y="951.8" width="5.1" height="1.1" fill="#6b4a28"/><rect x="2163.5" y="903.5" width="4.0" height="1.6" fill="#5a3a1c"/><rect x="2113.9" y="930.6" width="9.7" height="1.0" fill="#5a3a1c"/><rect x="2212.8" y="1020.2" width="9.3" height="1.2" fill="#6b4a28"/><rect x="2227.3" y="928.5" width="7.7" height="1.5" fill="#6b4a28"/><rect x="2153.4" y="938.1" width="6.9" height="1.9" fill="#a08656"/><rect x="2072.7" y="1027.9" width="4.1" height="1.8" fill="#5a3a1c"/><rect x="2064.0" y="883.8" width="3.4" height="1.7" fill="#a08656"/><rect x="2126.8" y="832.1" width="6.4" height="1.7" fill="#a08656"/><rect x="2170.2" y="1006.2" width="3.4" height="1.5" fill="#a08656"/><rect x="2128.0" y="912.5" width="4.7" height="1.8" fill="#6b4a28"/><rect x="2152.5" y="810.5" width="4.6" height="1.3" fill="#b09a6a"/><rect x="2190.0" y="990.6" width="8.5" height="1.4" fill="#a08656"/><rect x="2101.9" y="908.9" width="9.6" height="1.3" fill="#6b4a28"/><rect x="2136.0" y="1006.8" width="9.8" height="1.1" fill="#b09a6a"/><rect x="2119.1" y="868.9" width="7.8" height="1.7" fill="#a08656"/><rect x="2041.9" y="813.7" width="7.1" height="1.6" fill="#a08656"/><rect x="2195.4" y="876.5" width="3.2" height="1.3" fill="#6b4a28"/><rect x="2039.5" y="864.8" width="9.3" height="1.8" fill="#a08656"/><rect x="2053.9" y="804.0" width="3.6" height="1.6" fill="#6b4a28"/><rect x="2167.6" y="819.3" width="4.7" height="1.0" fill="#b09a6a"/><rect x="2218.9" y="981.1" width="3.8" height="1.6" fill="#6b4a28"/><rect x="2128.9" y="823.2" width="6.3" height="1.2" fill="#6b4a28"/><rect x="2084.7" y="862.4" width="3.5" height="1.8" fill="#b09a6a"/><rect x="2182.0" y="820.9" width="5.8" height="1.5" fill="#b09a6a"/><rect x="2075.2" y="993.2" width="4.8" height="1.8" fill="#5a3a1c"/><rect x="2076.1" y="983.5" width="8.1" height="1.3" fill="#a08656"/><rect x="2129.1" y="975.1" width="6.0" height="1.5" fill="#5a3a1c"/><rect x="2115.4" y="789.8" width="6.0" height="1.6" fill="#b09a6a"/><rect x="2258.1" y="1030.8" width="3.7" height="1.2" fill="#a08656"/><rect x="2197.5" y="865.2" width="7.6" height="1.5" fill="#b09a6a"/><rect x="2113.1" y="967.0" width="8.0" height="1.9" fill="#a08656"/><rect x="2228.7" y="945.0" width="4.4" height="1.3" fill="#b09a6a"/><rect x="2197.9" y="982.9" width="6.5" height="1.1" fill="#6b4a28"/><rect x="2113.6" y="995.1" width="9.0" height="1.6" fill="#5a3a1c"/><rect x="2163.8" y="1018.7" width="4.2" height="1.4" fill="#6b4a28"/><rect x="2200.5" y="1032.1" width="7.8" height="1.8" fill="#a08656"/><rect x="2158.2" y="949.4" width="9.9" height="1.6" fill="#b09a6a"/><rect x="2036.5" y="958.8" width="6.1" height="1.3" fill="#a08656"/><rect x="2083.9" y="1008.3" width="6.7" height="1.6" fill="#b09a6a"/><rect x="2041.0" y="842.8" width="4.7" height="1.6" fill="#b09a6a"/><rect x="2072.7" y="952.7" width="3.3" height="1.8" fill="#5a3a1c"/><rect x="2084.5" y="939.0" width="4.5" height="1.8" fill="#6b4a28"/><rect x="2135.6" y="850.2" width="9.5" height="1.2" fill="#b09a6a"/><rect x="2111.0" y="862.2" width="3.0" height="1.9" fill="#b09a6a"/><rect x="2175.0" y="903.1" width="7.8" height="1.3" fill="#b09a6a"/><rect x="2126.4" y="829.8" width="6.1" height="1.6" fill="#6b4a28"/><rect x="2081.7" y="926.3" width="5.1" height="1.2" fill="#a08656"/><rect x="2250.9" y="927.4" width="6.1" height="1.2" fill="#b09a6a"/><rect x="2170.1" y="959.8" width="5.3" height="1.7" fill="#b09a6a"/><rect x="2133.0" y="1031.0" width="4.6" height="1.4" fill="#b09a6a"/><rect x="2141.2" y="792.9" width="7.0" height="1.8" fill="#b09a6a"/><rect x="2160.4" y="930.6" width="3.7" height="1.3" fill="#5a3a1c"/><rect x="2156.5" y="980.3" width="9.0" height="1.6" fill="#a08656"/><rect x="2210.3" y="1028.7" width="3.4" height="1.2" fill="#6b4a28"/><rect x="2171.5" y="888.9" width="8.1" height="1.9" fill="#a08656"/><rect x="2132.5" y="996.2" width="6.2" height="1.3" fill="#5a3a1c"/><rect x="2222.2" y="884.0" width="9.5" height="1.4" fill="#a08656"/><rect x="2110.0" y="931.5" width="8.0" height="1.2" fill="#b09a6a"/><rect x="2091.7" y="898.3" width="6.3" height="1.4" fill="#a08656"/><rect x="2201.4" y="868.9" width="9.6" height="1.5" fill="#a08656"/><rect x="2053.4" y="981.2" width="3.6" height="1.0" fill="#5a3a1c"/><rect x="2245.8" y="897.8" width="6.4" height="1.5" fill="#5a3a1c"/><rect x="2105.7" y="950.6" width="5.0" height="1.3" fill="#b09a6a"/><rect x="2259.3" y="1004.4" width="8.1" height="1.7" fill="#5a3a1c"/><rect x="2053.4" y="958.8" width="5.0" height="1.1" fill="#b09a6a"/><rect x="2115.3" y="848.9" width="4.1" height="1.5" fill="#a08656"/><rect x="2202.2" y="957.1" width="6.5" height="1.9" fill="#b09a6a"/><rect x="2250.0" y="888.5" width="8.8" height="1.2" fill="#b09a6a"/><rect x="2207.2" y="797.3" width="4.0" height="1.4" fill="#b09a6a"/><rect x="2256.8" y="842.5" width="5.2" height="1.8" fill="#a08656"/><rect x="2223.9" y="832.7" width="3.1" height="1.3" fill="#5a3a1c"/><rect x="2114.3" y="832.2" width="4.1" height="1.1" fill="#6b4a28"/><rect x="2168.3" y="878.7" width="3.5" height="1.2" fill="#6b4a28"/><rect x="2047.1" y="792.9" width="8.1" height="1.2" fill="#5a3a1c"/><rect x="2115.5" y="972.0" width="5.2" height="1.3" fill="#a08656"/><rect x="2253.9" y="1003.5" width="9.8" height="1.6" fill="#5a3a1c"/><rect x="2058.3" y="918.7" width="3.4" height="1.8" fill="#6b4a28"/><rect x="2043.2" y="852.3" width="5.6" height="1.6" fill="#6b4a28"/><rect x="2077.5" y="1031.7" width="3.1" height="2.0" fill="#a08656"/><rect x="2128.7" y="868.5" width="5.6" height="1.1" fill="#a08656"/><rect x="2173.1" y="800.7" width="4.3" height="1.1" fill="#6b4a28"/><rect x="2130.2" y="1020.5" width="7.7" height="1.1" fill="#6b4a28"/><rect x="2238.6" y="876.7" width="5.5" height="1.8" fill="#5a3a1c"/><rect x="2099.9" y="841.5" width="5.1" height="1.1" fill="#b09a6a"/><rect x="2122.3" y="864.5" width="5.6" height="1.1" fill="#a08656"/><rect x="2217.4" y="851.1" width="8.8" height="1.9" fill="#b09a6a"/><rect x="2183.8" y="985.3" width="9.6" height="1.3" fill="#5a3a1c"/><rect x="2180.7" y="885.2" width="6.2" height="1.6" fill="#6b4a28"/><rect x="2250.3" y="943.6" width="7.4" height="1.3" fill="#5a3a1c"/><rect x="2101.9" y="969.8" width="9.4" height="1.1" fill="#a08656"/><rect x="2187.2" y="989.7" width="7.7" height="1.8" fill="#5a3a1c"/><rect x="2043.8" y="977.0" width="9.1" height="1.9" fill="#b09a6a"/><rect x="2037.1" y="902.9" width="7.3" height="1.0" fill="#b09a6a"/><rect x="2049.0" y="811.1" width="6.3" height="1.0" fill="#b09a6a"/><rect x="2190.3" y="1030.9" width="6.3" height="1.5" fill="#a08656"/><rect x="2228.4" y="798.3" width="7.3" height="1.8" fill="#a08656"/><rect x="2257.6" y="893.5" width="5.3" height="1.9" fill="#6b4a28"/><rect x="2135.8" y="1006.5" width="5.7" height="1.2" fill="#a08656"/><rect x="2112.7" y="868.9" width="4.1" height="1.3" fill="#6b4a28"/><rect x="2251.4" y="788.0" width="5.7" height="1.8" fill="#5a3a1c"/><rect x="2066.2" y="858.4" width="6.2" height="1.1" fill="#b09a6a"/><rect x="2196.3" y="922.1" width="3.6" height="1.1" fill="#6b4a28"/><rect x="2045.8" y="811.2" width="4.6" height="1.3" fill="#b09a6a"/><rect x="2072.1" y="836.6" width="4.2" height="1.5" fill="#5a3a1c"/><rect x="2185.0" y="798.8" width="4.6" height="2.0" fill="#5a3a1c"/><rect x="2156.4" y="964.2" width="3.3" height="1.0" fill="#5a3a1c"/><rect x="2117.3" y="901.6" width="9.6" height="1.0" fill="#6b4a28"/><rect x="2159.5" y="952.1" width="5.2" height="1.8" fill="#b09a6a"/><rect x="2222.2" y="877.8" width="7.1" height="1.2" fill="#5a3a1c"/><rect x="2113.0" y="791.7" width="4.8" height="1.9" fill="#6b4a28"/><rect x="2088.5" y="972.1" width="5.2" height="1.8" fill="#6b4a28"/><rect x="2054.8" y="993.0" width="8.8" height="1.2" fill="#b09a6a"/><rect x="2069.9" y="1027.6" width="5.7" height="1.6" fill="#5a3a1c"/><rect x="2042.2" y="997.5" width="7.0" height="1.1" fill="#a08656"/><rect x="2194.6" y="952.6" width="3.3" height="2.0" fill="#5a3a1c"/><rect x="2234.2" y="1027.6" width="4.0" height="1.4" fill="#5a3a1c"/><rect x="2237.2" y="914.1" width="3.2" height="1.3" fill="#a08656"/><rect x="2192.8" y="830.3" width="8.1" height="1.9" fill="#6b4a28"/><rect x="2150.3" y="925.7" width="5.6" height="1.1" fill="#5a3a1c"/><rect x="2217.0" y="995.2" width="8.1" height="1.1" fill="#a08656"/><rect x="2209.9" y="1029.3" width="9.7" height="1.9" fill="#5a3a1c"/><rect x="2229.6" y="819.9" width="6.1" height="1.3" fill="#b09a6a"/><rect x="2086.5" y="948.8" width="7.7" height="1.5" fill="#a08656"/><rect x="2158.5" y="850.0" width="9.2" height="1.3" fill="#a08656"/><rect x="2082.5" y="965.4" width="3.2" height="1.4" fill="#b09a6a"/><rect x="2057.3" y="894.4" width="4.4" height="1.9" fill="#b09a6a"/><rect x="2210.6" y="1010.9" width="7.3" height="1.1" fill="#a08656"/><rect x="2108.8" y="981.7" width="3.6" height="1.3" fill="#6b4a28"/><rect x="2176.4" y="974.2" width="4.2" height="1.5" fill="#6b4a28"/><rect x="2150.9" y="838.2" width="9.8" height="1.1" fill="#b09a6a"/><rect x="2137.8" y="838.7" width="5.4" height="1.1" fill="#b09a6a"/><rect x="2106.5" y="928.7" width="5.0" height="1.8" fill="#a08656"/><rect x="2041.1" y="995.3" width="8.8" height="1.3" fill="#6b4a28"/><rect x="2052.7" y="958.4" width="5.6" height="1.2" fill="#6b4a28"/><rect x="2194.8" y="824.1" width="8.0" height="1.2" fill="#5a3a1c"/><rect x="2097.8" y="1009.7" width="3.3" height="1.0" fill="#a08656"/><rect x="2140.2" y="983.9" width="8.0" height="1.3" fill="#b09a6a"/><rect x="2038.6" y="918.2" width="9.1" height="1.1" fill="#a08656"/><rect x="2012.1" y="785.8" width="24.40000000000009" height="248.9000000000001" fill="#7e6a3c"/><rect x="2260" y="785.8" width="24" height="248.9000000000001" fill="#7e6a3c"/><polyline points="2024.3,787.8 2025.6,789.8 2026.8,791.8 2028.1,793.8 2029.2,795.8 2030.3,797.8 2031.3,799.8 2032.2,801.8 2032.9,803.8 2033.5,805.8 2034.0,807.8 2034.3,809.8 2034.5,811.8 2034.5,813.8 2034.3,815.8 2034.0,817.8 2033.5,819.8 2032.9,821.8 2032.2,823.8 2031.3,825.8 2030.3,827.8 2029.2,829.8 2028.1,831.8 2026.8,833.8 2025.6,835.8 2024.3,837.8 2023.0,839.8 2021.8,841.8 2020.5,843.8 2019.4,845.8 2018.3,847.8 2017.3,849.8 2016.4,851.8 2015.7,853.8 2015.1,855.8 2014.6,857.8 2014.3,859.8 2014.1,861.8 2014.1,863.8 2014.3,865.8 2014.6,867.8 2015.1,869.8 2015.7,871.8 2016.4,873.8 2017.3,875.8 2018.3,877.8 2019.4,879.8 2020.5,881.8 2021.8,883.8 2023.0,885.8 2024.3,887.8 2025.6,889.8 2026.8,891.8 2028.1,893.8 2029.2,895.8 2030.3,897.8 2031.3,899.8 2032.2,901.8 2032.9,903.8 2033.5,905.8 2034.0,907.8 2034.3,909.8 2034.5,911.8 2034.5,913.8 2034.3,915.8 2034.0,917.8 2033.5,919.8 2032.9,921.8 2032.2,923.8 2031.3,925.8 2030.3,927.8 2029.2,929.8 2028.1,931.8 2026.8,933.8 2025.6,935.8 2024.3,937.8 2023.0,939.8 2021.8,941.8 2020.5,943.8 2019.4,945.8 2018.3,947.8 2017.3,949.8 2016.4,951.8 2015.7,953.8 2015.1,955.8 2014.6,957.8 2014.3,959.8 2014.1,961.8 2014.1,963.8 2014.3,965.8 2014.6,967.8 2015.1,969.8 2015.7,971.8 2016.4,973.8 2017.3,975.8 2018.3,977.8 2019.4,979.8 2020.5,981.8 2021.8,983.8 2023.0,985.8 2024.3,987.8 2025.6,989.8 2026.8,991.8 2028.1,993.8 2029.2,995.8 2030.3,997.8 2031.3,999.8 2032.2,1001.8 2032.9,1003.8 2033.5,1005.8 2034.0,1007.8 2034.3,1009.8 2034.5,1011.8 2034.5,1013.8 2034.3,1015.8 2034.0,1017.8 2033.5,1019.8 2032.9,1021.8 2032.2,1023.8 2031.3,1025.8 2030.3,1027.8 2029.2,1029.8 2028.1,1031.8" fill="none" stroke="#5c4520" stroke-width="1.8"/><polyline points="2024.3,787.8 2023.0,789.8 2021.8,791.8 2020.5,793.8 2019.4,795.8 2018.3,797.8 2017.3,799.8 2016.4,801.8 2015.7,803.8 2015.1,805.8 2014.6,807.8 2014.3,809.8 2014.1,811.8 2014.1,813.8 2014.3,815.8 2014.6,817.8 2015.1,819.8 2015.7,821.8 2016.4,823.8 2017.3,825.8 2018.3,827.8 2019.4,829.8 2020.5,831.8 2021.8,833.8 2023.0,835.8 2024.3,837.8 2025.6,839.8 2026.8,841.8 2028.1,843.8 2029.2,845.8 2030.3,847.8 2031.3,849.8 2032.2,851.8 2032.9,853.8 2033.5,855.8 2034.0,857.8 2034.3,859.8 2034.5,861.8 2034.5,863.8 2034.3,865.8 2034.0,867.8 2033.5,869.8 2032.9,871.8 2032.2,873.8 2031.3,875.8 2030.3,877.8 2029.2,879.8 2028.1,881.8 2026.8,883.8 2025.6,885.8 2024.3,887.8 2023.0,889.8 2021.8,891.8 2020.5,893.8 2019.4,895.8 2018.3,897.8 2017.3,899.8 2016.4,901.8 2015.7,903.8 2015.1,905.8 2014.6,907.8 2014.3,909.8 2014.1,911.8 2014.1,913.8 2014.3,915.8 2014.6,917.8 2015.1,919.8 2015.7,921.8 2016.4,923.8 2017.3,925.8 2018.3,927.8 2019.4,929.8 2020.5,931.8 2021.8,933.8 2023.0,935.8 2024.3,937.8 2025.6,939.8 2026.8,941.8 2028.1,943.8 2029.2,945.8 2030.3,947.8 2031.3,949.8 2032.2,951.8 2032.9,953.8 2033.5,955.8 2034.0,957.8 2034.3,959.8 2034.5,961.8 2034.5,963.8 2034.3,965.8 2034.0,967.8 2033.5,969.8 2032.9,971.8 2032.2,973.8 2031.3,975.8 2030.3,977.8 2029.2,979.8 2028.1,981.8 2026.8,983.8 2025.6,985.8 2024.3,987.8 2023.0,989.8 2021.8,991.8 2020.5,993.8 2019.4,995.8 2018.3,997.8 2017.3,999.8 2016.4,1001.8 2015.7,1003.8 2015.1,1005.8 2014.6,1007.8 2014.3,1009.8 2014.1,1011.8 2014.1,1013.8 2014.3,1015.8 2014.6,1017.8 2015.1,1019.8 2015.7,1021.8 2016.4,1023.8 2017.3,1025.8 2018.3,1027.8 2019.4,1029.8 2020.5,1031.8" fill="none" stroke="#5c4520" stroke-width="1.8"/><polyline points="2282.0,787.8 2281.9,789.8 2281.7,791.8 2281.3,793.8 2280.8,795.8 2280.1,797.8 2279.3,799.8 2278.4,801.8 2277.4,803.8 2276.3,805.8 2275.1,807.8 2273.9,809.8 2272.6,811.8 2271.4,813.8 2270.1,815.8 2268.9,817.8 2267.7,819.8 2266.6,821.8 2265.6,823.8 2264.7,825.8 2263.9,827.8 2263.2,829.8 2262.7,831.8 2262.3,833.8 2262.1,835.8 2262.0,837.8 2262.1,839.8 2262.3,841.8 2262.7,843.8 2263.2,845.8 2263.9,847.8 2264.7,849.8 2265.6,851.8 2266.6,853.8 2267.7,855.8 2268.9,857.8 2270.1,859.8 2271.4,861.8 2272.6,863.8 2273.9,865.8 2275.1,867.8 2276.3,869.8 2277.4,871.8 2278.4,873.8 2279.3,875.8 2280.1,877.8 2280.8,879.8 2281.3,881.8 2281.7,883.8 2281.9,885.8 2282.0,887.8 2281.9,889.8 2281.7,891.8 2281.3,893.8 2280.8,895.8 2280.1,897.8 2279.3,899.8 2278.4,901.8 2277.4,903.8 2276.3,905.8 2275.1,907.8 2273.9,909.8 2272.6,911.8 2271.4,913.8 2270.1,915.8 2268.9,917.8 2267.7,919.8 2266.6,921.8 2265.6,923.8 2264.7,925.8 2263.9,927.8 2263.2,929.8 2262.7,931.8 2262.3,933.8 2262.1,935.8 2262.0,937.8 2262.1,939.8 2262.3,941.8 2262.7,943.8 2263.2,945.8 2263.9,947.8 2264.7,949.8 2265.6,951.8 2266.6,953.8 2267.7,955.8 2268.9,957.8 2270.1,959.8 2271.4,961.8 2272.6,963.8 2273.9,965.8 2275.1,967.8 2276.3,969.8 2277.4,971.8 2278.4,973.8 2279.3,975.8 2280.1,977.8 2280.8,979.8 2281.3,981.8 2281.7,983.8 2281.9,985.8 2282.0,987.8 2281.9,989.8 2281.7,991.8 2281.3,993.8 2280.8,995.8 2280.1,997.8 2279.3,999.8 2278.4,1001.8 2277.4,1003.8 2276.3,1005.8 2275.1,1007.8 2273.9,1009.8 2272.6,1011.8 2271.4,1013.8 2270.1,1015.8 2268.9,1017.8 2267.7,1019.8 2266.6,1021.8 2265.6,1023.8 2264.7,1025.8 2263.9,1027.8 2263.2,1029.8 2262.7,1031.8" fill="none" stroke="#5c4520" stroke-width="1.8"/><polyline points="2262.0,787.8 2262.1,789.8 2262.3,791.8 2262.7,793.8 2263.2,795.8 2263.9,797.8 2264.7,799.8 2265.6,801.8 2266.6,803.8 2267.7,805.8 2268.9,807.8 2270.1,809.8 2271.4,811.8 2272.6,813.8 2273.9,815.8 2275.1,817.8 2276.3,819.8 2277.4,821.8 2278.4,823.8 2279.3,825.8 2280.1,827.8 2280.8,829.8 2281.3,831.8 2281.7,833.8 2281.9,835.8 2282.0,837.8 2281.9,839.8 2281.7,841.8 2281.3,843.8 2280.8,845.8 2280.1,847.8 2279.3,849.8 2278.4,851.8 2277.4,853.8 2276.3,855.8 2275.1,857.8 2273.9,859.8 2272.6,861.8 2271.4,863.8 2270.1,865.8 2268.9,867.8 2267.7,869.8 2266.6,871.8 2265.6,873.8 2264.7,875.8 2263.9,877.8 2263.2,879.8 2262.7,881.8 2262.3,883.8 2262.1,885.8 2262.0,887.8 2262.1,889.8 2262.3,891.8 2262.7,893.8 2263.2,895.8 2263.9,897.8 2264.7,899.8 2265.6,901.8 2266.6,903.8 2267.7,905.8 2268.9,907.8 2270.1,909.8 2271.4,911.8 2272.6,913.8 2273.9,915.8 2275.1,917.8 2276.3,919.8 2277.4,921.8 2278.4,923.8 2279.3,925.8 2280.1,927.8 2280.8,929.8 2281.3,931.8 2281.7,933.8 2281.9,935.8 2282.0,937.8 2281.9,939.8 2281.7,941.8 2281.3,943.8 2280.8,945.8 2280.1,947.8 2279.3,949.8 2278.4,951.8 2277.4,953.8 2276.3,955.8 2275.1,957.8 2273.9,959.8 2272.6,961.8 2271.4,963.8 2270.1,965.8 2268.9,967.8 2267.7,969.8 2266.6,971.8 2265.6,973.8 2264.7,975.8 2263.9,977.8 2263.2,979.8 2262.7,981.8 2262.3,983.8 2262.1,985.8 2262.0,987.8 2262.1,989.8 2262.3,991.8 2262.7,993.8 2263.2,995.8 2263.9,997.8 2264.7,999.8 2265.6,1001.8 2266.6,1003.8 2267.7,1005.8 2268.9,1007.8 2270.1,1009.8 2271.4,1011.8 2272.6,1013.8 2273.9,1015.8 2275.1,1017.8 2276.3,1019.8 2277.4,1021.8 2278.4,1023.8 2279.3,1025.8 2280.1,1027.8 2280.8,1029.8 2281.3,1031.8" fill="none" stroke="#5c4520" stroke-width="1.8"/><rect x="2012.1" y="785.8" width="271.9000000000001" height="248.9000000000001" fill="none" stroke="#5a4628" stroke-width="1.2"/></g>
<rect x="1995.5" y="1063.5" width="302.5" height="302.5" fill="#ff0000"/>
<clipPath id="pcl3"><rect x="2004.8" y="1073.1" width="285.3" height="284.3"/></clipPath>
<g clip-path="url(#pcl3)"><rect x="2000.5" y="1068" width="293.5" height="293" fill="#777a60"/><rect x="2010.4" y="1093.6" width="276.5999999999999" height="248.10000000000014" fill="#937a45"/><rect x="2035.5" y="1093.6" width="226.5" height="6.400000000000091" fill="#7a6638"/><rect x="2035.5" y="1100" width="226.5" height="8" fill="#a89060"/><rect x="2035.5" y="1108" width="226.5" height="27" fill="#8f7440"/><rect x="2035.5" y="1135" width="226.5" height="10" fill="#7e6232"/><rect x="2035.5" y="1145" width="226.5" height="5" fill="#a08a58"/><rect x="2035.5" y="1150" width="226.5" height="18" fill="#8c7442"/><rect x="2035.5" y="1168" width="226.5" height="7" fill="#a48e5c"/><rect x="2035.5" y="1175" width="226.5" height="20" fill="#968050"/><rect x="2035.5" y="1195" width="226.5" height="10" fill="#806838"/><rect x="2035.5" y="1205" width="226.5" height="7" fill="#9c8652"/><rect x="2035.5" y="1212" width="226.5" height="10" fill="#8a703e"/><rect x="2035.5" y="1222" width="226.5" height="18" fill="#977f4c"/><rect x="2035.5" y="1240" width="226.5" height="8" fill="#a89262"/><rect x="2035.5" y="1248" width="226.5" height="20" fill="#917844"/><rect x="2035.5" y="1268" width="226.5" height="8" fill="#866c3a"/><rect x="2035.5" y="1276" width="226.5" height="14" fill="#957c48"/><rect x="2035.5" y="1290" width="226.5" height="10" fill="#7e6434"/><rect x="2035.5" y="1300" width="226.5" height="22" fill="#937a46"/><rect x="2035.5" y="1322" width="226.5" height="8" fill="#aa9464"/><rect x="2035.5" y="1330" width="226.5" height="11.700000000000045" fill="#8a7240"/><rect x="2063.3" y="1158.6" width="5.8" height="2.0" fill="#8a703e"/><rect x="2229.7" y="1135.4" width="5.4" height="1.7" fill="#7e6434"/><rect x="2175.1" y="1328.7" width="5.9" height="1.9" fill="#b09a68"/><rect x="2197.6" y="1100.4" width="8.6" height="1.9" fill="#b09a68"/><rect x="2154.2" y="1143.7" width="4.3" height="1.8" fill="#8a703e"/><rect x="2159.2" y="1145.3" width="5.1" height="2.0" fill="#7e6434"/><rect x="2098.2" y="1262.4" width="8.4" height="1.3" fill="#a89262"/><rect x="2210.4" y="1206.3" width="5.0" height="1.2" fill="#7e6434"/><rect x="2258.3" y="1253.4" width="6.7" height="1.1" fill="#a89262"/><rect x="2110.9" y="1288.6" width="9.3" height="1.2" fill="#b09a68"/><rect x="2257.0" y="1313.9" width="7.0" height="1.7" fill="#8a703e"/><rect x="2199.4" y="1200.8" width="5.3" height="1.7" fill="#a89262"/><rect x="2122.3" y="1267.6" width="9.0" height="1.3" fill="#8a703e"/><rect x="2108.1" y="1199.0" width="8.1" height="1.4" fill="#7e6434"/><rect x="2192.6" y="1338.6" width="4.6" height="1.8" fill="#7e6434"/><rect x="2130.2" y="1242.5" width="3.8" height="1.3" fill="#a89262"/><rect x="2097.5" y="1244.6" width="4.6" height="1.0" fill="#7e6434"/><rect x="2210.9" y="1262.5" width="8.9" height="1.7" fill="#7e6434"/><rect x="2047.3" y="1266.7" width="6.8" height="2.0" fill="#b09a68"/><rect x="2053.1" y="1298.9" width="6.0" height="1.5" fill="#7e6434"/><rect x="2197.9" y="1140.2" width="6.2" height="1.8" fill="#8a703e"/><rect x="2240.1" y="1306.8" width="4.9" height="1.8" fill="#8a703e"/><rect x="2179.6" y="1125.2" width="4.8" height="1.8" fill="#8a703e"/><rect x="2070.6" y="1267.5" width="5.3" height="1.2" fill="#b09a68"/><rect x="2057.8" y="1119.7" width="6.2" height="1.1" fill="#a89262"/><rect x="2222.4" y="1198.7" width="7.3" height="1.8" fill="#8a703e"/><rect x="2222.2" y="1172.1" width="7.0" height="1.5" fill="#8a703e"/><rect x="2080.7" y="1116.2" width="4.6" height="2.0" fill="#7e6434"/><rect x="2240.9" y="1296.6" width="8.9" height="1.9" fill="#7e6434"/><rect x="2167.0" y="1187.5" width="4.3" height="1.1" fill="#7e6434"/><rect x="2232.2" y="1251.4" width="8.0" height="1.9" fill="#8a703e"/><rect x="2260.4" y="1215.5" width="5.4" height="1.9" fill="#7e6434"/><rect x="2094.5" y="1305.4" width="4.1" height="1.6" fill="#a89262"/><rect x="2110.8" y="1244.8" width="9.6" height="1.4" fill="#8a703e"/><rect x="2062.5" y="1207.4" width="3.7" height="1.7" fill="#7e6434"/><rect x="2043.5" y="1298.4" width="7.8" height="1.4" fill="#8a703e"/><rect x="2036.8" y="1139.2" width="6.2" height="1.8" fill="#b09a68"/><rect x="2193.4" y="1099.8" width="6.7" height="1.3" fill="#7e6434"/><rect x="2212.0" y="1133.3" width="9.0" height="1.8" fill="#b09a68"/><rect x="2159.3" y="1149.4" width="8.2" height="1.5" fill="#b09a68"/><rect x="2040.4" y="1139.8" width="4.7" height="1.7" fill="#a89262"/><rect x="2073.3" y="1205.8" width="7.4" height="1.8" fill="#b09a68"/><rect x="2234.0" y="1209.9" width="4.2" height="1.2" fill="#a89262"/><rect x="2149.6" y="1110.6" width="9.7" height="1.7" fill="#8a703e"/><rect x="2219.4" y="1186.9" width="6.4" height="1.3" fill="#a89262"/><rect x="2243.1" y="1307.7" width="6.9" height="1.3" fill="#7e6434"/><rect x="2101.6" y="1127.6" width="7.9" height="1.0" fill="#b09a68"/><rect x="2205.8" y="1096.9" width="7.4" height="1.6" fill="#8a703e"/><rect x="2055.3" y="1272.4" width="4.5" height="1.4" fill="#8a703e"/><rect x="2059.9" y="1287.8" width="7.7" height="1.8" fill="#a89262"/><rect x="2137.5" y="1163.0" width="7.8" height="1.4" fill="#7e6434"/><rect x="2066.1" y="1180.9" width="8.9" height="1.3" fill="#8a703e"/><rect x="2081.7" y="1190.0" width="5.8" height="1.1" fill="#8a703e"/><rect x="2092.8" y="1337.6" width="6.1" height="1.3" fill="#a89262"/><rect x="2047.0" y="1293.1" width="6.1" height="1.2" fill="#a89262"/><rect x="2198.4" y="1233.6" width="6.0" height="1.1" fill="#7e6434"/><rect x="2057.2" y="1185.1" width="3.7" height="1.0" fill="#a89262"/><rect x="2073.8" y="1286.6" width="5.2" height="1.5" fill="#b09a68"/><rect x="2216.1" y="1242.8" width="6.2" height="1.3" fill="#b09a68"/><rect x="2202.7" y="1295.7" width="4.9" height="1.3" fill="#7e6434"/><rect x="2222.3" y="1099.0" width="3.3" height="1.8" fill="#7e6434"/><rect x="2120.2" y="1177.7" width="5.0" height="1.7" fill="#a89262"/><rect x="2062.7" y="1308.6" width="10.0" height="1.8" fill="#7e6434"/><rect x="2206.4" y="1301.7" width="3.8" height="1.6" fill="#7e6434"/><rect x="2066.5" y="1254.5" width="4.2" height="1.1" fill="#7e6434"/><rect x="2108.2" y="1242.2" width="6.7" height="1.8" fill="#a89262"/><rect x="2107.1" y="1112.4" width="8.0" height="1.3" fill="#8a703e"/><rect x="2066.1" y="1129.3" width="5.9" height="1.9" fill="#a89262"/><rect x="2055.1" y="1212.7" width="3.8" height="1.3" fill="#b09a68"/><rect x="2227.5" y="1158.3" width="9.2" height="1.6" fill="#b09a68"/><rect x="2160.1" y="1333.1" width="7.4" height="1.4" fill="#a89262"/><rect x="2256.8" y="1206.4" width="4.7" height="1.5" fill="#a89262"/><rect x="2084.0" y="1226.6" width="9.0" height="1.1" fill="#a89262"/><rect x="2204.2" y="1140.4" width="4.4" height="1.6" fill="#7e6434"/><rect x="2147.6" y="1103.3" width="3.9" height="1.8" fill="#a89262"/><rect x="2096.1" y="1160.2" width="7.7" height="1.7" fill="#a89262"/><rect x="2195.6" y="1254.5" width="6.4" height="1.4" fill="#7e6434"/><rect x="2086.0" y="1317.2" width="3.3" height="1.7" fill="#a89262"/><rect x="2086.8" y="1208.0" width="9.6" height="2.0" fill="#a89262"/><rect x="2046.2" y="1332.6" width="7.7" height="1.8" fill="#7e6434"/><rect x="2223.5" y="1204.9" width="7.2" height="1.2" fill="#7e6434"/><rect x="2153.8" y="1308.8" width="5.8" height="1.3" fill="#7e6434"/><rect x="2144.4" y="1123.7" width="6.7" height="1.7" fill="#8a703e"/><rect x="2214.7" y="1145.4" width="8.2" height="1.8" fill="#a89262"/><rect x="2199.0" y="1279.7" width="8.8" height="1.0" fill="#b09a68"/><rect x="2166.3" y="1185.6" width="6.1" height="1.9" fill="#a89262"/><rect x="2042.0" y="1337.9" width="9.2" height="1.2" fill="#7e6434"/><rect x="2221.8" y="1178.8" width="7.0" height="1.4" fill="#a89262"/><rect x="2244.2" y="1193.0" width="6.1" height="1.4" fill="#7e6434"/><rect x="2245.5" y="1240.8" width="3.1" height="1.6" fill="#8a703e"/><rect x="2047.2" y="1152.9" width="9.6" height="1.0" fill="#8a703e"/><rect x="2065.8" y="1162.5" width="5.6" height="1.8" fill="#b09a68"/><rect x="2242.2" y="1284.0" width="4.9" height="1.9" fill="#7e6434"/><rect x="2050.5" y="1217.1" width="3.3" height="1.4" fill="#a89262"/><rect x="2159.1" y="1137.9" width="3.4" height="1.9" fill="#b09a68"/><rect x="2130.5" y="1280.0" width="5.4" height="1.8" fill="#8a703e"/><rect x="2169.0" y="1168.4" width="8.3" height="1.4" fill="#a89262"/><rect x="2168.6" y="1224.0" width="8.5" height="1.1" fill="#8a703e"/><rect x="2044.9" y="1107.8" width="6.3" height="1.2" fill="#a89262"/><rect x="2116.4" y="1202.1" width="4.0" height="1.4" fill="#8a703e"/><rect x="2230.2" y="1244.7" width="3.2" height="1.6" fill="#b09a68"/><rect x="2170.7" y="1183.3" width="8.0" height="2.0" fill="#b09a68"/><rect x="2141.5" y="1110.2" width="8.7" height="1.6" fill="#b09a68"/><rect x="2103.8" y="1222.7" width="7.4" height="1.9" fill="#8a703e"/><rect x="2104.4" y="1131.8" width="3.6" height="1.0" fill="#7e6434"/><rect x="2130.4" y="1154.7" width="8.7" height="1.2" fill="#7e6434"/><rect x="2113.3" y="1311.4" width="8.7" height="1.3" fill="#b09a68"/><rect x="2088.6" y="1327.8" width="9.8" height="1.4" fill="#8a703e"/><rect x="2038.3" y="1316.2" width="3.1" height="1.1" fill="#7e6434"/><rect x="2241.7" y="1304.9" width="4.8" height="2.0" fill="#b09a68"/><rect x="2196.2" y="1164.7" width="3.9" height="1.2" fill="#8a703e"/><rect x="2229.0" y="1293.1" width="9.2" height="2.0" fill="#7e6434"/><rect x="2185.5" y="1103.7" width="4.6" height="1.1" fill="#8a703e"/><rect x="2143.6" y="1323.2" width="5.7" height="1.1" fill="#8a703e"/><rect x="2040.9" y="1293.5" width="7.4" height="1.2" fill="#8a703e"/><rect x="2162.1" y="1244.0" width="9.4" height="1.1" fill="#b09a68"/><rect x="2226.7" y="1334.3" width="4.9" height="1.5" fill="#7e6434"/><rect x="2051.0" y="1218.7" width="9.3" height="1.2" fill="#a89262"/><rect x="2084.0" y="1229.1" width="3.3" height="1.2" fill="#a89262"/><rect x="2209.3" y="1164.2" width="4.1" height="1.1" fill="#a89262"/><rect x="2228.2" y="1283.6" width="4.6" height="1.4" fill="#7e6434"/><rect x="2212.2" y="1183.3" width="4.5" height="1.9" fill="#a89262"/><rect x="2152.4" y="1217.4" width="8.3" height="1.5" fill="#7e6434"/><rect x="2076.8" y="1171.4" width="6.3" height="1.6" fill="#8a703e"/><rect x="2191.4" y="1115.5" width="3.8" height="1.9" fill="#a89262"/><rect x="2062.8" y="1165.6" width="4.3" height="1.6" fill="#b09a68"/><rect x="2099.2" y="1232.3" width="3.6" height="1.0" fill="#a89262"/><rect x="2144.9" y="1258.0" width="8.5" height="1.3" fill="#7e6434"/><rect x="2127.9" y="1245.2" width="9.6" height="1.0" fill="#b09a68"/><rect x="2199.9" y="1317.6" width="9.1" height="1.4" fill="#a89262"/><rect x="2042.5" y="1095.9" width="4.1" height="1.0" fill="#b09a68"/><rect x="2074.9" y="1198.2" width="6.9" height="1.9" fill="#7e6434"/><rect x="2142.9" y="1263.3" width="8.6" height="1.3" fill="#7e6434"/><rect x="2192.3" y="1119.2" width="8.7" height="1.4" fill="#8a703e"/><rect x="2085.0" y="1133.8" width="9.5" height="1.3" fill="#7e6434"/><rect x="2222.1" y="1323.9" width="7.3" height="1.2" fill="#b09a68"/><rect x="2058.0" y="1112.9" width="8.1" height="1.8" fill="#7e6434"/><rect x="2064.0" y="1199.7" width="3.2" height="1.3" fill="#b09a68"/><rect x="2131.2" y="1178.6" width="9.1" height="2.0" fill="#8a703e"/><rect x="2114.2" y="1306.1" width="3.2" height="1.8" fill="#a89262"/><rect x="2055.9" y="1150.4" width="9.1" height="1.2" fill="#7e6434"/><rect x="2122.6" y="1140.7" width="6.1" height="1.6" fill="#a89262"/><rect x="2189.4" y="1097.2" width="5.2" height="1.7" fill="#b09a68"/><rect x="2211.9" y="1177.7" width="8.1" height="1.2" fill="#a89262"/><rect x="2254.4" y="1218.4" width="9.2" height="1.2" fill="#8a703e"/><rect x="2127.1" y="1186.9" width="8.2" height="1.5" fill="#b09a68"/><rect x="2246.3" y="1114.6" width="3.1" height="1.2" fill="#a89262"/><rect x="2137.8" y="1270.5" width="9.7" height="1.5" fill="#8a703e"/><rect x="2196.1" y="1125.8" width="8.7" height="1.2" fill="#7e6434"/><rect x="2238.8" y="1282.5" width="4.7" height="1.9" fill="#b09a68"/><rect x="2193.1" y="1245.1" width="3.8" height="1.8" fill="#b09a68"/><rect x="2168.7" y="1154.3" width="3.8" height="1.7" fill="#b09a68"/><rect x="2056.6" y="1267.6" width="7.7" height="1.0" fill="#a89262"/><rect x="2155.2" y="1216.5" width="4.4" height="1.1" fill="#8a703e"/><rect x="2182.0" y="1266.6" width="5.9" height="1.0" fill="#b09a68"/><rect x="2081.6" y="1143.0" width="6.4" height="1.9" fill="#b09a68"/><rect x="2095.6" y="1173.0" width="6.2" height="1.7" fill="#a89262"/><rect x="2059.2" y="1267.7" width="9.8" height="1.7" fill="#b09a68"/><rect x="2105.6" y="1126.3" width="4.1" height="1.2" fill="#a89262"/><rect x="2245.3" y="1104.2" width="8.3" height="1.2" fill="#a89262"/><rect x="2105.4" y="1177.6" width="3.8" height="1.5" fill="#7e6434"/><rect x="2243.3" y="1238.3" width="8.1" height="1.6" fill="#b09a68"/><rect x="2113.8" y="1149.5" width="9.7" height="1.1" fill="#b09a68"/><rect x="2043.7" y="1176.1" width="7.2" height="1.0" fill="#a89262"/><rect x="2042.0" y="1140.8" width="9.9" height="1.1" fill="#8a703e"/><rect x="2244.4" y="1308.0" width="6.6" height="1.3" fill="#7e6434"/><rect x="2124.7" y="1116.0" width="6.1" height="1.3" fill="#7e6434"/><rect x="2067.1" y="1290.8" width="9.1" height="1.4" fill="#7e6434"/><rect x="2209.3" y="1308.8" width="8.9" height="1.1" fill="#8a703e"/><rect x="2196.0" y="1179.2" width="6.9" height="1.9" fill="#a89262"/><rect x="2036.3" y="1328.8" width="6.7" height="2.0" fill="#7e6434"/><rect x="2160.5" y="1280.2" width="8.1" height="1.2" fill="#8a703e"/><rect x="2214.7" y="1177.6" width="8.2" height="1.2" fill="#8a703e"/><rect x="2150.4" y="1140.4" width="6.9" height="1.1" fill="#8a703e"/><rect x="2123.4" y="1256.8" width="4.7" height="1.9" fill="#8a703e"/><rect x="2049.7" y="1215.1" width="8.5" height="1.1" fill="#8a703e"/><rect x="2085.3" y="1173.8" width="5.5" height="1.0" fill="#a89262"/><rect x="2150.8" y="1175.3" width="4.8" height="1.1" fill="#a89262"/><rect x="2211.0" y="1276.3" width="9.0" height="1.2" fill="#8a703e"/><rect x="2185.4" y="1210.5" width="7.0" height="1.4" fill="#8a703e"/><rect x="2054.1" y="1305.1" width="7.6" height="1.3" fill="#8a703e"/><rect x="2204.4" y="1194.3" width="5.2" height="1.6" fill="#7e6434"/><rect x="2130.9" y="1244.9" width="9.8" height="1.2" fill="#a89262"/><rect x="2188.8" y="1166.6" width="9.4" height="1.7" fill="#b09a68"/><rect x="2057.6" y="1333.8" width="9.2" height="1.8" fill="#7e6434"/><rect x="2117.9" y="1128.5" width="7.8" height="1.7" fill="#b09a68"/><rect x="2081.1" y="1218.7" width="6.5" height="1.8" fill="#a89262"/><rect x="2211.8" y="1210.7" width="8.4" height="1.0" fill="#a89262"/><rect x="2256.0" y="1135.5" width="3.9" height="1.7" fill="#a89262"/><rect x="2122.3" y="1240.6" width="3.2" height="1.4" fill="#a89262"/><rect x="2260.5" y="1270.0" width="6.1" height="1.5" fill="#8a703e"/><rect x="2233.7" y="1189.1" width="7.9" height="1.6" fill="#b09a68"/><rect x="2065.9" y="1319.1" width="4.2" height="1.3" fill="#7e6434"/><rect x="2199.7" y="1108.6" width="3.3" height="1.3" fill="#7e6434"/><rect x="2164.8" y="1191.4" width="3.2" height="1.1" fill="#b09a68"/><rect x="2047.2" y="1167.6" width="3.3" height="1.1" fill="#7e6434"/><rect x="2129.6" y="1235.0" width="9.7" height="1.6" fill="#7e6434"/><rect x="2216.0" y="1127.5" width="6.1" height="1.3" fill="#8a703e"/><rect x="2093.7" y="1118.7" width="7.3" height="1.5" fill="#7e6434"/><rect x="2251.2" y="1219.1" width="6.2" height="1.9" fill="#a89262"/><rect x="2010.4" y="1093.6" width="25.09999999999991" height="248.10000000000014" fill="#988246"/><rect x="2262" y="1093.6" width="25" height="248.10000000000014" fill="#988246"/><polyline points="2023.0,1095.6 2024.5,1097.6 2026.0,1099.6 2027.4,1101.6 2028.8,1103.6 2030.0,1105.6 2031.1,1107.6 2032.0,1109.6 2032.7,1111.6 2033.2,1113.6 2033.4,1115.6 2033.5,1117.6 2033.3,1119.6 2032.9,1121.6 2032.3,1123.6 2031.5,1125.6 2030.5,1127.6 2029.4,1129.6 2028.1,1131.6 2026.7,1133.6 2025.2,1135.6 2023.7,1137.6 2022.2,1139.6 2020.7,1141.6 2019.2,1143.6 2017.8,1145.6 2016.5,1147.6 2015.4,1149.6 2014.4,1151.6 2013.6,1153.6 2013.0,1155.6 2012.6,1157.6 2012.4,1159.6 2012.5,1161.6 2012.7,1163.6 2013.2,1165.6 2013.9,1167.6 2014.8,1169.6 2015.9,1171.6 2017.1,1173.6 2018.5,1175.6 2019.9,1177.6 2021.4,1179.6 2023.0,1181.6 2024.5,1183.6 2026.0,1185.6 2027.4,1187.6 2028.8,1189.6 2030.0,1191.6 2031.1,1193.6 2032.0,1195.6 2032.7,1197.6 2033.2,1199.6 2033.4,1201.6 2033.5,1203.6 2033.3,1205.6 2032.9,1207.6 2032.3,1209.6 2031.5,1211.6 2030.5,1213.6 2029.4,1215.6 2028.1,1217.6 2026.7,1219.6 2025.2,1221.6 2023.7,1223.6 2022.2,1225.6 2020.7,1227.6 2019.2,1229.6 2017.8,1231.6 2016.5,1233.6 2015.4,1235.6 2014.4,1237.6 2013.6,1239.6 2013.0,1241.6 2012.6,1243.6 2012.4,1245.6 2012.5,1247.6 2012.7,1249.6 2013.2,1251.6 2013.9,1253.6 2014.8,1255.6 2015.9,1257.6 2017.1,1259.6 2018.5,1261.6 2019.9,1263.6 2021.4,1265.6 2023.0,1267.6 2024.5,1269.6 2026.0,1271.6 2027.4,1273.6 2028.8,1275.6 2030.0,1277.6 2031.1,1279.6 2032.0,1281.6 2032.7,1283.6 2033.2,1285.6 2033.4,1287.6 2033.5,1289.6 2033.3,1291.6 2032.9,1293.6 2032.3,1295.6 2031.5,1297.6 2030.5,1299.6 2029.4,1301.6 2028.1,1303.6 2026.7,1305.6 2025.2,1307.6 2023.7,1309.6 2022.2,1311.6 2020.7,1313.6 2019.2,1315.6 2017.8,1317.6 2016.5,1319.6 2015.4,1321.6 2014.4,1323.6 2013.6,1325.6 2013.0,1327.6 2012.6,1329.6 2012.4,1331.6 2012.5,1333.6 2012.7,1335.6 2013.2,1337.6 2013.9,1339.6" fill="none" stroke="#5a4420" stroke-width="2.0"/><polyline points="2023.0,1095.6 2021.4,1097.6 2019.9,1099.6 2018.5,1101.6 2017.1,1103.6 2015.9,1105.6 2014.8,1107.6 2013.9,1109.6 2013.2,1111.6 2012.7,1113.6 2012.5,1115.6 2012.4,1117.6 2012.6,1119.6 2013.0,1121.6 2013.6,1123.6 2014.4,1125.6 2015.4,1127.6 2016.5,1129.6 2017.8,1131.6 2019.2,1133.6 2020.7,1135.6 2022.2,1137.6 2023.7,1139.6 2025.2,1141.6 2026.7,1143.6 2028.1,1145.6 2029.4,1147.6 2030.5,1149.6 2031.5,1151.6 2032.3,1153.6 2032.9,1155.6 2033.3,1157.6 2033.5,1159.6 2033.4,1161.6 2033.2,1163.6 2032.7,1165.6 2032.0,1167.6 2031.1,1169.6 2030.0,1171.6 2028.8,1173.6 2027.4,1175.6 2026.0,1177.6 2024.5,1179.6 2023.0,1181.6 2021.4,1183.6 2019.9,1185.6 2018.5,1187.6 2017.1,1189.6 2015.9,1191.6 2014.8,1193.6 2013.9,1195.6 2013.2,1197.6 2012.7,1199.6 2012.5,1201.6 2012.4,1203.6 2012.6,1205.6 2013.0,1207.6 2013.6,1209.6 2014.4,1211.6 2015.4,1213.6 2016.5,1215.6 2017.8,1217.6 2019.2,1219.6 2020.7,1221.6 2022.2,1223.6 2023.7,1225.6 2025.2,1227.6 2026.7,1229.6 2028.1,1231.6 2029.4,1233.6 2030.5,1235.6 2031.5,1237.6 2032.3,1239.6 2032.9,1241.6 2033.3,1243.6 2033.5,1245.6 2033.4,1247.6 2033.2,1249.6 2032.7,1251.6 2032.0,1253.6 2031.1,1255.6 2030.0,1257.6 2028.8,1259.6 2027.4,1261.6 2026.0,1263.6 2024.5,1265.6 2023.0,1267.6 2021.4,1269.6 2019.9,1271.6 2018.5,1273.6 2017.1,1275.6 2015.9,1277.6 2014.8,1279.6 2013.9,1281.6 2013.2,1283.6 2012.7,1285.6 2012.5,1287.6 2012.4,1289.6 2012.6,1291.6 2013.0,1293.6 2013.6,1295.6 2014.4,1297.6 2015.4,1299.6 2016.5,1301.6 2017.8,1303.6 2019.2,1305.6 2020.7,1307.6 2022.2,1309.6 2023.7,1311.6 2025.2,1313.6 2026.7,1315.6 2028.1,1317.6 2029.4,1319.6 2030.5,1321.6 2031.5,1323.6 2032.3,1325.6 2032.9,1327.6 2033.3,1329.6 2033.5,1331.6 2033.4,1333.6 2033.2,1335.6 2032.7,1337.6 2032.0,1339.6" fill="none" stroke="#5a4420" stroke-width="2.0"/><polyline points="2285.0,1095.6 2284.9,1097.6 2284.7,1099.6 2284.2,1101.6 2283.5,1103.6 2282.6,1105.6 2281.5,1107.6 2280.3,1109.6 2279.0,1111.6 2277.5,1113.6 2276.0,1115.6 2274.5,1117.6 2273.0,1119.6 2271.5,1121.6 2270.0,1123.6 2268.7,1125.6 2267.5,1127.6 2266.4,1129.6 2265.5,1131.6 2264.8,1133.6 2264.3,1135.6 2264.1,1137.6 2264.0,1139.6 2264.2,1141.6 2264.6,1143.6 2265.2,1145.6 2266.0,1147.6 2266.9,1149.6 2268.1,1151.6 2269.4,1153.6 2270.7,1155.6 2272.2,1157.6 2273.7,1159.6 2275.3,1161.6 2276.8,1163.6 2278.3,1165.6 2279.6,1167.6 2280.9,1169.6 2282.1,1171.6 2283.0,1173.6 2283.8,1175.6 2284.4,1177.6 2284.8,1179.6 2285.0,1181.6 2284.9,1183.6 2284.7,1185.6 2284.2,1187.6 2283.5,1189.6 2282.6,1191.6 2281.5,1193.6 2280.3,1195.6 2279.0,1197.6 2277.5,1199.6 2276.0,1201.6 2274.5,1203.6 2273.0,1205.6 2271.5,1207.6 2270.0,1209.6 2268.7,1211.6 2267.5,1213.6 2266.4,1215.6 2265.5,1217.6 2264.8,1219.6 2264.3,1221.6 2264.1,1223.6 2264.0,1225.6 2264.2,1227.6 2264.6,1229.6 2265.2,1231.6 2266.0,1233.6 2266.9,1235.6 2268.1,1237.6 2269.4,1239.6 2270.7,1241.6 2272.2,1243.6 2273.7,1245.6 2275.3,1247.6 2276.8,1249.6 2278.3,1251.6 2279.6,1253.6 2280.9,1255.6 2282.1,1257.6 2283.0,1259.6 2283.8,1261.6 2284.4,1263.6 2284.8,1265.6 2285.0,1267.6 2284.9,1269.6 2284.7,1271.6 2284.2,1273.6 2283.5,1275.6 2282.6,1277.6 2281.5,1279.6 2280.3,1281.6 2279.0,1283.6 2277.5,1285.6 2276.0,1287.6 2274.5,1289.6 2273.0,1291.6 2271.5,1293.6 2270.0,1295.6 2268.7,1297.6 2267.5,1299.6 2266.4,1301.6 2265.5,1303.6 2264.8,1305.6 2264.3,1307.6 2264.1,1309.6 2264.0,1311.6 2264.2,1313.6 2264.6,1315.6 2265.2,1317.6 2266.0,1319.6 2266.9,1321.6 2268.1,1323.6 2269.4,1325.6 2270.7,1327.6 2272.2,1329.6 2273.7,1331.6 2275.3,1333.6 2276.8,1335.6 2278.3,1337.6 2279.6,1339.6" fill="none" stroke="#5a4420" stroke-width="2.0"/><polyline points="2264.0,1095.6 2264.1,1097.6 2264.3,1099.6 2264.8,1101.6 2265.5,1103.6 2266.4,1105.6 2267.5,1107.6 2268.7,1109.6 2270.0,1111.6 2271.5,1113.6 2273.0,1115.6 2274.5,1117.6 2276.0,1119.6 2277.5,1121.6 2279.0,1123.6 2280.3,1125.6 2281.5,1127.6 2282.6,1129.6 2283.5,1131.6 2284.2,1133.6 2284.7,1135.6 2284.9,1137.6 2285.0,1139.6 2284.8,1141.6 2284.4,1143.6 2283.8,1145.6 2283.0,1147.6 2282.1,1149.6 2280.9,1151.6 2279.6,1153.6 2278.3,1155.6 2276.8,1157.6 2275.3,1159.6 2273.7,1161.6 2272.2,1163.6 2270.7,1165.6 2269.4,1167.6 2268.1,1169.6 2266.9,1171.6 2266.0,1173.6 2265.2,1175.6 2264.6,1177.6 2264.2,1179.6 2264.0,1181.6 2264.1,1183.6 2264.3,1185.6 2264.8,1187.6 2265.5,1189.6 2266.4,1191.6 2267.5,1193.6 2268.7,1195.6 2270.0,1197.6 2271.5,1199.6 2273.0,1201.6 2274.5,1203.6 2276.0,1205.6 2277.5,1207.6 2279.0,1209.6 2280.3,1211.6 2281.5,1213.6 2282.6,1215.6 2283.5,1217.6 2284.2,1219.6 2284.7,1221.6 2284.9,1223.6 2285.0,1225.6 2284.8,1227.6 2284.4,1229.6 2283.8,1231.6 2283.0,1233.6 2282.1,1235.6 2280.9,1237.6 2279.6,1239.6 2278.3,1241.6 2276.8,1243.6 2275.3,1245.6 2273.7,1247.6 2272.2,1249.6 2270.7,1251.6 2269.4,1253.6 2268.1,1255.6 2266.9,1257.6 2266.0,1259.6 2265.2,1261.6 2264.6,1263.6 2264.2,1265.6 2264.0,1267.6 2264.1,1269.6 2264.3,1271.6 2264.8,1273.6 2265.5,1275.6 2266.4,1277.6 2267.5,1279.6 2268.7,1281.6 2270.0,1283.6 2271.5,1285.6 2273.0,1287.6 2274.5,1289.6 2276.0,1291.6 2277.5,1293.6 2279.0,1295.6 2280.3,1297.6 2281.5,1299.6 2282.6,1301.6 2283.5,1303.6 2284.2,1305.6 2284.7,1307.6 2284.9,1309.6 2285.0,1311.6 2284.8,1313.6 2284.4,1315.6 2283.8,1317.6 2283.0,1319.6 2282.1,1321.6 2280.9,1323.6 2279.6,1325.6 2278.3,1327.6 2276.8,1329.6 2275.3,1331.6 2273.7,1333.6 2272.2,1335.6 2270.7,1337.6 2269.4,1339.6" fill="none" stroke="#5a4420" stroke-width="2.0"/><rect x="2010.4" y="1093.6" width="276.5999999999999" height="248.10000000000014" fill="none" stroke="#5c4a2a" stroke-width="1.5"/></g>
<rect x="1995.5" y="1366.3" width="302.5" height="304.0" fill="#262626" rx="2"/>
<clipPath id="pcl4"><rect x="2004.7" y="1374.8" width="285.8" height="286.7"/></clipPath>
<g clip-path="url(#pcl4)"><linearGradient id="g5" x1="0" y1="0" x2="0.6" y2="1"><stop offset="0" stop-color="#74735e"/><stop offset="0.3" stop-color="#67644d"/><stop offset="0.7" stop-color="#615c46"/><stop offset="1" stop-color="#5f5a44"/></linearGradient><rect x="2000.5" y="1371" width="293.5" height="295" fill="url(#g5)"/><radialGradient id="g5b" cx="0.03" cy="0.02" r="0.22"><stop offset="0" stop-color="#a4a696" stop-opacity="0.7"/><stop offset="1" stop-color="#a4a696" stop-opacity="0"/></radialGradient><rect x="2000.5" y="1371" width="293.5" height="295" fill="url(#g5b)"/><linearGradient id="g5t" x1="0" y1="0" x2="0" y2="1"><stop offset="0" stop-color="#9a9a88" stop-opacity="0.4"/><stop offset="1" stop-color="#9a9a88" stop-opacity="0"/></linearGradient><rect x="2000.5" y="1371" width="293.5" height="30" fill="url(#g5t)"/><filter id="bl5" x="-0.5" y="-0.5" width="2" height="2"><feGaussianBlur stdDeviation="3"/></filter><g filter="url(#bl5)"><path d="M2057.9 1376l-10.2 51.5" stroke="#a8aa9a" stroke-opacity="0.20" stroke-width="5.5"/><path d="M2053.2 1376l-17.5 43.4" stroke="#a8aa9a" stroke-opacity="0.20" stroke-width="4.8"/><path d="M2028.3 1376l-8.4 57.0" stroke="#a8aa9a" stroke-opacity="0.12" stroke-width="4.4"/><path d="M2066.3 1376l-13.1 89.0" stroke="#a8aa9a" stroke-opacity="0.17" stroke-width="4.4"/><path d="M2033.9 1376l-8.6 41.2" stroke="#a8aa9a" stroke-opacity="0.16" stroke-width="4.1"/><path d="M2043.3 1376l-9.8 55.5" stroke="#a8aa9a" stroke-opacity="0.25" stroke-width="4.3"/><path d="M2028.1 1376l-11.2 82.0" stroke="#a8aa9a" stroke-opacity="0.16" stroke-width="3.9"/><path d="M2043.7 1376l-15.7 69.8" stroke="#a8aa9a" stroke-opacity="0.11" stroke-width="3.1"/><path d="M2052.0 1376l-15.4 48.5" stroke="#a8aa9a" stroke-opacity="0.20" stroke-width="5.4"/><path d="M2066.7 1376l-16.2 42.4" stroke="#a8aa9a" stroke-opacity="0.13" stroke-width="5.3"/><path d="M2047.6 1376l-9.9 71.4" stroke="#a8aa9a" stroke-opacity="0.29" stroke-width="3.1"/><path d="M2025.3 1376l-15.3 74.1" stroke="#a8aa9a" stroke-opacity="0.12" stroke-width="5.5"/><path d="M2052.6 1376l-11.6 67.9" stroke="#a8aa9a" stroke-opacity="0.30" stroke-width="3.9"/><path d="M2039.8 1376l-9.9 44.0" stroke="#a8aa9a" stroke-opacity="0.22" stroke-width="4.1"/></g></g>
</svg>
</body></html>
